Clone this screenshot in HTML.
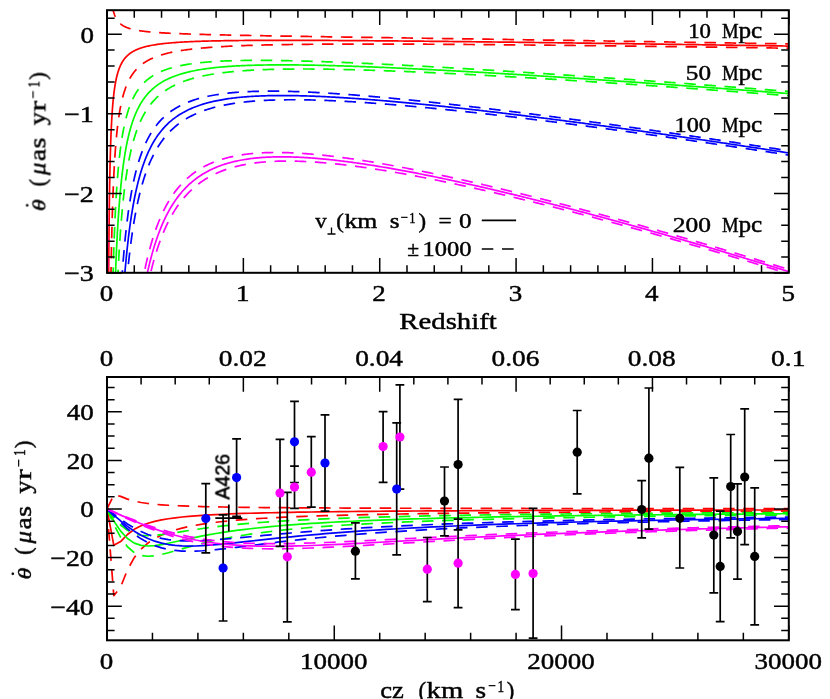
<!DOCTYPE html>
<html><head><meta charset="utf-8"><title>chart</title>
<style>html,body{margin:0;padding:0;background:#fff}svg{display:block;filter:blur(0.4px)}</style></head>
<body>
<svg width="830" height="699" viewBox="0 0 830 699">
<rect width="830" height="699" fill="#fff"/>
<defs><clipPath id="c1"><rect x="107.0" y="10.2" width="681.8" height="262.6"/></clipPath>
<clipPath id="c2"><rect x="107.0" y="377.0" width="681.8" height="263.3"/></clipPath></defs>
<g clip-path="url(#c1)" fill="none" stroke-width="1.70" stroke-linejoin="round">
<path d="M107.00 34.20 L107.27 671.00 L107.55 671.00 L107.82 501.15 L108.09 390.86 L108.36 322.17 L108.64 275.52 L108.91 241.84 L109.18 216.43 L109.45 196.57 L109.73 180.64 L110.00 167.57 L110.27 156.67 L110.55 147.43 L110.82 139.51 L111.09 132.63 L111.36 126.61 L111.64 121.30 L111.91 116.58 L112.18 112.35 L112.45 108.54 L112.73 105.10 L113.00 101.97 L113.27 99.11 L113.55 96.49 L113.82 94.07 L114.09 91.85 L114.36 89.78 L114.64 87.87 L114.91 86.09 L115.18 84.42 L115.45 82.87 L115.73 81.41 L116.00 80.04 L116.27 78.75 L116.55 77.53 L116.82 76.38 L117.09 75.30 L117.36 74.27 L117.64 73.29 L117.91 72.37 L118.18 71.49 L118.45 70.65 L118.73 69.85 L119.00 69.08 L119.27 68.35 L119.55 67.65 L119.82 66.99 L120.09 66.35 L120.36 65.73 L120.64 65.14 L120.91 64.58 L121.18 64.03 L121.45 63.51 L121.73 63.00 L122.00 62.52 L122.27 62.05 L122.55 61.60 L122.82 61.16 L123.09 60.74 L123.36 60.33 L123.64 59.94 L123.91 59.56 L124.18 59.19 L124.45 58.84 L124.73 58.49 L125.00 58.15 L125.27 57.83 L125.54 57.51 L125.82 57.21 L126.09 56.91 L126.36 56.62 L126.64 56.34 L126.91 56.07 L127.18 55.80 L127.45 55.54 L127.73 55.29 L128.00 55.05 L128.27 54.81 L128.54 54.57 L128.82 54.35 L129.09 54.13 L129.36 53.91 L129.64 53.70 L129.91 53.50 L130.18 53.30 L130.45 53.10 L130.73 52.91 L131.00 52.72 L131.27 52.54 L131.54 52.36 L131.82 52.19 L132.09 52.02 L132.36 51.85 L132.64 51.69 L132.91 51.53 L133.18 51.37 L133.45 51.22 L133.73 51.07 L134.00 50.92 L134.27 50.78 L134.54 50.64 L134.82 50.50 L135.09 50.37 L135.36 50.23 L135.64 50.10 L135.91 49.98 L136.18 49.85 L136.45 49.73 L136.73 49.61 L137.00 49.49 L137.27 49.38 L137.54 49.26 L137.82 49.15 L138.09 49.04 L138.36 48.93 L138.64 48.83 L138.91 48.72 L139.18 48.62 L139.45 48.52 L139.73 48.42 L140.00 48.33 L140.27 48.23 L140.54 48.14 L140.82 48.04 L141.09 47.95 L141.36 47.87 L141.64 47.78 L141.91 47.69 L142.18 47.61 L142.45 47.52 L142.73 47.44 L143.00 47.36 L143.27 47.28 L143.54 47.20 L143.82 47.13 L144.09 47.05 L144.36 46.97 L144.64 46.90 L144.91 46.83 L145.18 46.76 L145.45 46.69 L145.73 46.62 L146.00 46.55 L146.27 46.48 L146.54 46.42 L146.82 46.35 L147.09 46.29 L147.36 46.22 L147.64 46.16 L147.91 46.10 L149.27 45.80 L150.64 45.52 L152.00 45.26 L153.36 45.02 L154.73 44.79 L156.09 44.58 L157.45 44.38 L158.82 44.19 L160.18 44.01 L161.54 43.84 L162.91 43.68 L164.27 43.52 L165.63 43.38 L167.00 43.24 L168.36 43.11 L169.73 42.99 L171.09 42.87 L172.45 42.76 L173.82 42.65 L175.18 42.55 L176.54 42.45 L177.91 42.36 L179.27 42.27 L180.63 42.18 L182.00 42.10 L183.36 42.02 L184.73 41.95 L186.09 41.88 L187.45 41.81 L188.82 41.74 L190.18 41.68 L191.54 41.62 L192.91 41.56 L194.27 41.51 L195.63 41.45 L197.00 41.40 L198.36 41.35 L199.72 41.31 L201.09 41.26 L202.45 41.22 L203.82 41.18 L205.18 41.14 L206.54 41.10 L207.91 41.06 L209.27 41.02 L210.63 40.99 L212.00 40.96 L213.36 40.93 L214.72 40.90 L216.09 40.87 L217.45 40.84 L218.82 40.81 L220.18 40.79 L221.54 40.76 L222.91 40.74 L224.27 40.72 L225.63 40.69 L227.00 40.67 L228.36 40.65 L229.72 40.63 L231.09 40.62 L232.45 40.60 L233.81 40.58 L235.18 40.56 L236.54 40.55 L237.91 40.53 L239.27 40.52 L240.63 40.51 L242.00 40.49 L243.36 40.48 L244.72 40.47 L246.09 40.46 L247.45 40.45 L248.81 40.44 L250.18 40.43 L251.54 40.42 L252.91 40.41 L254.27 40.41 L255.63 40.40 L257.00 40.39 L258.36 40.39 L259.72 40.38 L261.09 40.37 L262.45 40.37 L263.81 40.36 L265.18 40.36 L266.54 40.36 L267.90 40.35 L269.27 40.35 L270.63 40.35 L272.00 40.34 L273.36 40.34 L274.72 40.34 L276.09 40.34 L277.45 40.34 L278.81 40.34 L280.18 40.34 L281.54 40.34 L282.90 40.34 L284.27 40.34 L285.63 40.34 L287.00 40.34 L288.36 40.34 L289.72 40.34 L291.09 40.34 L292.45 40.34 L293.81 40.34 L295.18 40.35 L296.54 40.35 L297.90 40.35 L299.27 40.36 L300.63 40.36 L301.99 40.36 L303.36 40.37 L304.72 40.37 L306.09 40.37 L307.45 40.38 L308.81 40.38 L310.18 40.39 L311.54 40.39 L312.90 40.40 L314.27 40.40 L315.63 40.41 L316.99 40.41 L318.36 40.42 L319.72 40.43 L321.09 40.43 L322.45 40.44 L323.81 40.44 L325.18 40.45 L326.54 40.46 L327.90 40.47 L329.27 40.47 L330.63 40.48 L331.99 40.49 L333.36 40.49 L334.72 40.50 L336.08 40.51 L337.45 40.52 L338.81 40.53 L340.18 40.53 L341.54 40.54 L342.90 40.55 L344.27 40.56 L345.63 40.57 L346.99 40.58 L348.36 40.59 L349.72 40.59 L351.08 40.60 L352.45 40.61 L353.81 40.62 L355.18 40.63 L356.54 40.64 L357.90 40.65 L359.27 40.66 L360.63 40.67 L361.99 40.68 L363.36 40.69 L364.72 40.70 L366.08 40.71 L367.45 40.72 L368.81 40.73 L370.17 40.74 L371.54 40.75 L372.90 40.76 L374.27 40.77 L375.63 40.79 L376.99 40.80 L378.36 40.81 L379.72 40.82 L381.08 40.83 L382.45 40.84 L383.81 40.85 L385.17 40.87 L386.54 40.88 L387.90 40.89 L389.27 40.90 L390.63 40.91 L391.99 40.92 L393.36 40.94 L394.72 40.95 L396.08 40.96 L397.45 40.97 L398.81 40.98 L400.17 41.00 L401.54 41.01 L402.90 41.02 L404.26 41.04 L405.63 41.05 L406.99 41.06 L408.36 41.07 L409.72 41.09 L411.08 41.10 L412.45 41.11 L413.81 41.13 L415.17 41.14 L416.54 41.15 L417.90 41.16 L419.26 41.18 L420.63 41.19 L421.99 41.20 L423.36 41.22 L424.72 41.23 L426.08 41.25 L427.45 41.26 L428.81 41.27 L430.17 41.29 L431.54 41.30 L432.90 41.31 L434.26 41.33 L435.63 41.34 L436.99 41.36 L438.35 41.37 L439.72 41.39 L441.08 41.40 L442.45 41.41 L443.81 41.43 L445.17 41.44 L446.54 41.46 L447.90 41.47 L449.26 41.49 L450.63 41.50 L451.99 41.52 L453.35 41.53 L454.72 41.54 L456.08 41.56 L457.45 41.57 L458.81 41.59 L460.17 41.60 L461.54 41.62 L462.90 41.63 L464.26 41.65 L465.63 41.66 L466.99 41.68 L468.35 41.69 L469.72 41.71 L471.08 41.72 L472.44 41.74 L473.81 41.76 L475.17 41.77 L476.54 41.79 L477.90 41.80 L479.26 41.82 L480.63 41.83 L481.99 41.85 L483.35 41.86 L484.72 41.88 L486.08 41.90 L487.44 41.91 L488.81 41.93 L490.17 41.94 L491.54 41.96 L492.90 41.98 L494.26 41.99 L495.63 42.01 L496.99 42.02 L498.35 42.04 L499.72 42.06 L501.08 42.07 L502.44 42.09 L503.81 42.10 L505.17 42.12 L506.53 42.14 L507.90 42.15 L509.26 42.17 L510.63 42.19 L511.99 42.20 L513.35 42.22 L514.72 42.24 L516.08 42.25 L517.44 42.27 L518.81 42.28 L520.17 42.30 L521.53 42.32 L522.90 42.34 L524.26 42.35 L525.63 42.37 L526.99 42.39 L528.35 42.40 L529.72 42.42 L531.08 42.44 L532.44 42.45 L533.81 42.47 L535.17 42.49 L536.53 42.50 L537.90 42.52 L539.26 42.54 L540.62 42.56 L541.99 42.57 L543.35 42.59 L544.72 42.61 L546.08 42.62 L547.44 42.64 L548.81 42.66 L550.17 42.68 L551.53 42.69 L552.90 42.71 L554.26 42.73 L555.62 42.75 L556.99 42.76 L558.35 42.78 L559.72 42.80 L561.08 42.82 L562.44 42.83 L563.81 42.85 L565.17 42.87 L566.53 42.89 L567.90 42.90 L569.26 42.92 L570.62 42.94 L571.99 42.96 L573.35 42.98 L574.71 42.99 L576.08 43.01 L577.44 43.03 L578.81 43.05 L580.17 43.07 L581.53 43.08 L582.90 43.10 L584.26 43.12 L585.62 43.14 L586.99 43.16 L588.35 43.17 L589.71 43.19 L591.08 43.21 L592.44 43.23 L593.81 43.25 L595.17 43.26 L596.53 43.28 L597.90 43.30 L599.26 43.32 L600.62 43.34 L601.99 43.36 L603.35 43.37 L604.71 43.39 L606.08 43.41 L607.44 43.43 L608.80 43.45 L610.17 43.47 L611.53 43.49 L612.90 43.50 L614.26 43.52 L615.62 43.54 L616.99 43.56 L618.35 43.58 L619.71 43.60 L621.08 43.62 L622.44 43.63 L623.80 43.65 L625.17 43.67 L626.53 43.69 L627.90 43.71 L629.26 43.73 L630.62 43.75 L631.99 43.77 L633.35 43.79 L634.71 43.80 L636.08 43.82 L637.44 43.84 L638.80 43.86 L640.17 43.88 L641.53 43.90 L642.89 43.92 L644.26 43.94 L645.62 43.96 L646.99 43.98 L648.35 43.99 L649.71 44.01 L651.08 44.03 L652.44 44.05 L653.80 44.07 L655.17 44.09 L656.53 44.11 L657.89 44.13 L659.26 44.15 L660.62 44.17 L661.99 44.19 L663.35 44.21 L664.71 44.23 L666.08 44.25 L667.44 44.27 L668.80 44.28 L670.17 44.30 L671.53 44.32 L672.89 44.34 L674.26 44.36 L675.62 44.38 L676.98 44.40 L678.35 44.42 L679.71 44.44 L681.08 44.46 L682.44 44.48 L683.80 44.50 L685.17 44.52 L686.53 44.54 L687.89 44.56 L689.26 44.58 L690.62 44.60 L691.98 44.62 L693.35 44.64 L694.71 44.66 L696.08 44.68 L697.44 44.70 L698.80 44.72 L700.17 44.74 L701.53 44.76 L702.89 44.78 L704.26 44.80 L705.62 44.82 L706.98 44.84 L708.35 44.86 L709.71 44.88 L711.07 44.90 L712.44 44.92 L713.80 44.94 L715.17 44.96 L716.53 44.98 L717.89 45.00 L719.26 45.02 L720.62 45.04 L721.98 45.06 L723.35 45.08 L724.71 45.10 L726.07 45.12 L727.44 45.14 L728.80 45.16 L730.17 45.18 L731.53 45.20 L732.89 45.22 L734.26 45.24 L735.62 45.26 L736.98 45.28 L738.35 45.30 L739.71 45.32 L741.07 45.35 L742.44 45.37 L743.80 45.39 L745.16 45.41 L746.53 45.43 L747.89 45.45 L749.26 45.47 L750.62 45.49 L751.98 45.51 L753.35 45.53 L754.71 45.55 L756.07 45.57 L757.44 45.59 L758.80 45.61 L760.16 45.63 L761.53 45.65 L762.89 45.68 L764.26 45.70 L765.62 45.72 L766.98 45.74 L768.35 45.76 L769.71 45.78 L771.07 45.80 L772.44 45.82 L773.80 45.84 L775.16 45.86 L776.53 45.88 L777.89 45.90 L779.25 45.93 L780.62 45.95 L781.98 45.97 L783.35 45.99 L784.71 46.01 L786.07 46.03 L787.44 46.05 L788.80 46.07" stroke="#ff0000"/>
<path d="M107.00 34.20 L107.27 -363.80 L107.55 -223.84 L107.82 -145.81 L108.09 -102.89 L108.36 -76.16 L108.64 -58.01 L108.91 -44.91 L109.18 -35.02 L109.45 -27.29 L109.73 -21.09 L110.00 -16.00 L110.27 -11.76 L110.55 -8.16 L110.82 -5.08 L111.09 -2.40 L111.36 -0.06 L111.64 2.01 L111.91 3.85 L112.18 5.50 L112.45 6.99 L112.73 8.33 L113.00 9.55 L113.27 10.67 L113.55 11.69 L113.82 12.63 L114.09 13.50 L114.36 14.31 L114.64 15.05 L114.91 15.75 L115.18 16.40 L115.45 17.01 L115.73 17.58 L116.00 18.12 L116.27 18.62 L116.55 19.10 L116.82 19.55 L117.09 19.97 L117.36 20.38 L117.64 20.76 L117.91 21.12 L118.18 21.47 L118.45 21.80 L118.73 22.11 L119.00 22.41 L119.27 22.70 L119.55 22.98 L119.82 23.24 L120.09 23.49 L120.36 23.73 L120.64 23.97 L120.91 24.19 L121.18 24.41 L121.45 24.61 L121.73 24.81 L122.00 25.00 L122.27 25.19 L122.55 25.37 L122.82 25.54 L123.09 25.71 L123.36 25.87 L123.64 26.03 L123.91 26.18 L124.18 26.33 L124.45 26.47 L124.73 26.61 L125.00 26.74 L125.27 26.87 L125.54 27.00 L125.82 27.12 L126.09 27.24 L126.36 27.35 L126.64 27.47 L126.91 27.58 L127.18 27.68 L127.45 27.79 L127.73 27.89 L128.00 27.99 L128.27 28.08 L128.54 28.18 L128.82 28.27 L129.09 28.36 L129.36 28.45 L129.64 28.53 L129.91 28.62 L130.18 28.70 L130.45 28.78 L130.73 28.85 L131.00 28.93 L131.27 29.00 L131.54 29.08 L131.82 29.15 L132.09 29.22 L132.36 29.29 L132.64 29.35 L132.91 29.42 L133.18 29.48 L133.45 29.55 L133.73 29.61 L134.00 29.67 L134.27 29.73 L134.54 29.79 L134.82 29.84 L135.09 29.90 L135.36 29.96 L135.64 30.01 L135.91 30.06 L136.18 30.11 L136.45 30.17 L136.73 30.22 L137.00 30.27 L137.27 30.31 L137.54 30.36 L137.82 30.41 L138.09 30.46 L138.36 30.50 L138.64 30.55 L138.91 30.59 L139.18 30.63 L139.45 30.68 L139.73 30.72 L140.00 30.76 L140.27 30.80 L140.54 30.84 L140.82 30.88 L141.09 30.92 L141.36 30.96 L141.64 30.99 L141.91 31.03 L142.18 31.07 L142.45 31.10 L142.73 31.14 L143.00 31.17 L143.27 31.21 L143.54 31.24 L143.82 31.28 L144.09 31.31 L144.36 31.34 L144.64 31.38 L144.91 31.41 L145.18 31.44 L145.45 31.47 L145.73 31.50 L146.00 31.53 L146.27 31.56 L146.54 31.59 L146.82 31.62 L147.09 31.65 L147.36 31.68 L147.64 31.70 L147.91 31.73 L149.27 31.87 L150.64 31.99 L152.00 32.11 L153.36 32.23 L154.73 32.33 L156.09 32.44 L157.45 32.53 L158.82 32.63 L160.18 32.72 L161.54 32.80 L162.91 32.88 L164.27 32.96 L165.63 33.04 L167.00 33.11 L168.36 33.18 L169.73 33.25 L171.09 33.31 L172.45 33.38 L173.82 33.44 L175.18 33.50 L176.54 33.56 L177.91 33.61 L179.27 33.67 L180.63 33.72 L182.00 33.77 L183.36 33.82 L184.73 33.87 L186.09 33.92 L187.45 33.97 L188.82 34.01 L190.18 34.06 L191.54 34.10 L192.91 34.14 L194.27 34.18 L195.63 34.23 L197.00 34.27 L198.36 34.31 L199.72 34.35 L201.09 34.38 L202.45 34.42 L203.82 34.46 L205.18 34.49 L206.54 34.53 L207.91 34.57 L209.27 34.60 L210.63 34.63 L212.00 34.67 L213.36 34.70 L214.72 34.73 L216.09 34.77 L217.45 34.80 L218.82 34.83 L220.18 34.86 L221.54 34.89 L222.91 34.92 L224.27 34.95 L225.63 34.98 L227.00 35.01 L228.36 35.04 L229.72 35.07 L231.09 35.10 L232.45 35.13 L233.81 35.16 L235.18 35.19 L236.54 35.21 L237.91 35.24 L239.27 35.27 L240.63 35.30 L242.00 35.32 L243.36 35.35 L244.72 35.38 L246.09 35.40 L247.45 35.43 L248.81 35.45 L250.18 35.48 L251.54 35.51 L252.91 35.53 L254.27 35.56 L255.63 35.58 L257.00 35.61 L258.36 35.63 L259.72 35.66 L261.09 35.68 L262.45 35.71 L263.81 35.73 L265.18 35.75 L266.54 35.78 L267.90 35.80 L269.27 35.83 L270.63 35.85 L272.00 35.87 L273.36 35.90 L274.72 35.92 L276.09 35.94 L277.45 35.97 L278.81 35.99 L280.18 36.01 L281.54 36.04 L282.90 36.06 L284.27 36.08 L285.63 36.11 L287.00 36.13 L288.36 36.15 L289.72 36.17 L291.09 36.20 L292.45 36.22 L293.81 36.24 L295.18 36.26 L296.54 36.29 L297.90 36.31 L299.27 36.33 L300.63 36.35 L301.99 36.37 L303.36 36.40 L304.72 36.42 L306.09 36.44 L307.45 36.46 L308.81 36.48 L310.18 36.50 L311.54 36.53 L312.90 36.55 L314.27 36.57 L315.63 36.59 L316.99 36.61 L318.36 36.63 L319.72 36.66 L321.09 36.68 L322.45 36.70 L323.81 36.72 L325.18 36.74 L326.54 36.76 L327.90 36.78 L329.27 36.80 L330.63 36.83 L331.99 36.85 L333.36 36.87 L334.72 36.89 L336.08 36.91 L337.45 36.93 L338.81 36.95 L340.18 36.97 L341.54 36.99 L342.90 37.01 L344.27 37.04 L345.63 37.06 L346.99 37.08 L348.36 37.10 L349.72 37.12 L351.08 37.14 L352.45 37.16 L353.81 37.18 L355.18 37.20 L356.54 37.22 L357.90 37.24 L359.27 37.26 L360.63 37.28 L361.99 37.31 L363.36 37.33 L364.72 37.35 L366.08 37.37 L367.45 37.39 L368.81 37.41 L370.17 37.43 L371.54 37.45 L372.90 37.47 L374.27 37.49 L375.63 37.51 L376.99 37.53 L378.36 37.55 L379.72 37.57 L381.08 37.59 L382.45 37.61 L383.81 37.63 L385.17 37.65 L386.54 37.68 L387.90 37.70 L389.27 37.72 L390.63 37.74 L391.99 37.76 L393.36 37.78 L394.72 37.80 L396.08 37.82 L397.45 37.84 L398.81 37.86 L400.17 37.88 L401.54 37.90 L402.90 37.92 L404.26 37.94 L405.63 37.96 L406.99 37.98 L408.36 38.00 L409.72 38.02 L411.08 38.04 L412.45 38.06 L413.81 38.08 L415.17 38.10 L416.54 38.12 L417.90 38.14 L419.26 38.16 L420.63 38.19 L421.99 38.21 L423.36 38.23 L424.72 38.25 L426.08 38.27 L427.45 38.29 L428.81 38.31 L430.17 38.33 L431.54 38.35 L432.90 38.37 L434.26 38.39 L435.63 38.41 L436.99 38.43 L438.35 38.45 L439.72 38.47 L441.08 38.49 L442.45 38.51 L443.81 38.53 L445.17 38.55 L446.54 38.57 L447.90 38.59 L449.26 38.61 L450.63 38.63 L451.99 38.65 L453.35 38.67 L454.72 38.69 L456.08 38.71 L457.45 38.74 L458.81 38.76 L460.17 38.78 L461.54 38.80 L462.90 38.82 L464.26 38.84 L465.63 38.86 L466.99 38.88 L468.35 38.90 L469.72 38.92 L471.08 38.94 L472.44 38.96 L473.81 38.98 L475.17 39.00 L476.54 39.02 L477.90 39.04 L479.26 39.06 L480.63 39.08 L481.99 39.10 L483.35 39.12 L484.72 39.14 L486.08 39.16 L487.44 39.18 L488.81 39.21 L490.17 39.23 L491.54 39.25 L492.90 39.27 L494.26 39.29 L495.63 39.31 L496.99 39.33 L498.35 39.35 L499.72 39.37 L501.08 39.39 L502.44 39.41 L503.81 39.43 L505.17 39.45 L506.53 39.47 L507.90 39.49 L509.26 39.51 L510.63 39.53 L511.99 39.55 L513.35 39.58 L514.72 39.60 L516.08 39.62 L517.44 39.64 L518.81 39.66 L520.17 39.68 L521.53 39.70 L522.90 39.72 L524.26 39.74 L525.63 39.76 L526.99 39.78 L528.35 39.80 L529.72 39.82 L531.08 39.84 L532.44 39.86 L533.81 39.89 L535.17 39.91 L536.53 39.93 L537.90 39.95 L539.26 39.97 L540.62 39.99 L541.99 40.01 L543.35 40.03 L544.72 40.05 L546.08 40.07 L547.44 40.09 L548.81 40.11 L550.17 40.13 L551.53 40.16 L552.90 40.18 L554.26 40.20 L555.62 40.22 L556.99 40.24 L558.35 40.26 L559.72 40.28 L561.08 40.30 L562.44 40.32 L563.81 40.34 L565.17 40.36 L566.53 40.39 L567.90 40.41 L569.26 40.43 L570.62 40.45 L571.99 40.47 L573.35 40.49 L574.71 40.51 L576.08 40.53 L577.44 40.55 L578.81 40.57 L580.17 40.59 L581.53 40.62 L582.90 40.64 L584.26 40.66 L585.62 40.68 L586.99 40.70 L588.35 40.72 L589.71 40.74 L591.08 40.76 L592.44 40.78 L593.81 40.81 L595.17 40.83 L596.53 40.85 L597.90 40.87 L599.26 40.89 L600.62 40.91 L601.99 40.93 L603.35 40.95 L604.71 40.97 L606.08 41.00 L607.44 41.02 L608.80 41.04 L610.17 41.06 L611.53 41.08 L612.90 41.10 L614.26 41.12 L615.62 41.14 L616.99 41.17 L618.35 41.19 L619.71 41.21 L621.08 41.23 L622.44 41.25 L623.80 41.27 L625.17 41.29 L626.53 41.31 L627.90 41.34 L629.26 41.36 L630.62 41.38 L631.99 41.40 L633.35 41.42 L634.71 41.44 L636.08 41.46 L637.44 41.49 L638.80 41.51 L640.17 41.53 L641.53 41.55 L642.89 41.57 L644.26 41.59 L645.62 41.61 L646.99 41.64 L648.35 41.66 L649.71 41.68 L651.08 41.70 L652.44 41.72 L653.80 41.74 L655.17 41.77 L656.53 41.79 L657.89 41.81 L659.26 41.83 L660.62 41.85 L661.99 41.87 L663.35 41.89 L664.71 41.92 L666.08 41.94 L667.44 41.96 L668.80 41.98 L670.17 42.00 L671.53 42.02 L672.89 42.05 L674.26 42.07 L675.62 42.09 L676.98 42.11 L678.35 42.13 L679.71 42.15 L681.08 42.18 L682.44 42.20 L683.80 42.22 L685.17 42.24 L686.53 42.26 L687.89 42.29 L689.26 42.31 L690.62 42.33 L691.98 42.35 L693.35 42.37 L694.71 42.39 L696.08 42.42 L697.44 42.44 L698.80 42.46 L700.17 42.48 L701.53 42.50 L702.89 42.53 L704.26 42.55 L705.62 42.57 L706.98 42.59 L708.35 42.61 L709.71 42.64 L711.07 42.66 L712.44 42.68 L713.80 42.70 L715.17 42.72 L716.53 42.75 L717.89 42.77 L719.26 42.79 L720.62 42.81 L721.98 42.83 L723.35 42.86 L724.71 42.88 L726.07 42.90 L727.44 42.92 L728.80 42.94 L730.17 42.97 L731.53 42.99 L732.89 43.01 L734.26 43.03 L735.62 43.05 L736.98 43.08 L738.35 43.10 L739.71 43.12 L741.07 43.14 L742.44 43.17 L743.80 43.19 L745.16 43.21 L746.53 43.23 L747.89 43.25 L749.26 43.28 L750.62 43.30 L751.98 43.32 L753.35 43.34 L754.71 43.37 L756.07 43.39 L757.44 43.41 L758.80 43.43 L760.16 43.46 L761.53 43.48 L762.89 43.50 L764.26 43.52 L765.62 43.54 L766.98 43.57 L768.35 43.59 L769.71 43.61 L771.07 43.63 L772.44 43.66 L773.80 43.68 L775.16 43.70 L776.53 43.72 L777.89 43.75 L779.25 43.77 L780.62 43.79 L781.98 43.81 L783.35 43.84 L784.71 43.86 L786.07 43.88 L787.44 43.90 L788.80 43.93" stroke="#ff0000" stroke-dasharray="11.6 8.6"/>
<path d="M107.00 34.20 L107.27 671.00 L107.55 671.00 L107.82 671.00 L108.09 671.00 L108.36 671.00 L108.64 609.04 L108.91 528.60 L109.18 467.87 L109.45 420.43 L109.73 382.37 L110.00 351.15 L110.27 325.10 L110.55 303.03 L110.82 284.09 L111.09 267.67 L111.36 253.29 L111.64 240.59 L111.91 229.30 L112.18 219.20 L112.45 210.10 L112.73 201.87 L113.00 194.38 L113.27 187.55 L113.55 181.28 L113.82 175.51 L114.09 170.19 L114.36 165.26 L114.64 160.69 L114.91 156.42 L115.18 152.45 L115.45 148.73 L115.73 145.24 L116.00 141.96 L116.27 138.88 L116.55 135.97 L116.82 133.22 L117.09 130.62 L117.36 128.16 L117.64 125.83 L117.91 123.61 L118.18 121.50 L118.45 119.49 L118.73 117.58 L119.00 115.75 L119.27 114.00 L119.55 112.33 L119.82 110.73 L120.09 109.20 L120.36 107.73 L120.64 106.32 L120.91 104.96 L121.18 103.66 L121.45 102.40 L121.73 101.20 L122.00 100.03 L122.27 98.91 L122.55 97.83 L122.82 96.78 L123.09 95.77 L123.36 94.80 L123.64 93.85 L123.91 92.94 L124.18 92.06 L124.45 91.20 L124.73 90.37 L125.00 89.57 L125.27 88.79 L125.54 88.03 L125.82 87.29 L126.09 86.58 L126.36 85.89 L126.64 85.21 L126.91 84.56 L127.18 83.92 L127.45 83.30 L127.73 82.69 L128.00 82.10 L128.27 81.53 L128.54 80.97 L128.82 80.43 L129.09 79.89 L129.36 79.38 L129.64 78.87 L129.91 78.38 L130.18 77.90 L130.45 77.42 L130.73 76.96 L131.00 76.52 L131.27 76.08 L131.54 75.65 L131.82 75.23 L132.09 74.82 L132.36 74.42 L132.64 74.02 L132.91 73.64 L133.18 73.26 L133.45 72.89 L133.73 72.53 L134.00 72.18 L134.27 71.83 L134.54 71.49 L134.82 71.16 L135.09 70.83 L135.36 70.51 L135.64 70.20 L135.91 69.89 L136.18 69.59 L136.45 69.29 L136.73 69.00 L137.00 68.72 L137.27 68.44 L137.54 68.16 L137.82 67.89 L138.09 67.63 L138.36 67.37 L138.64 67.11 L138.91 66.86 L139.18 66.61 L139.45 66.37 L139.73 66.13 L140.00 65.89 L140.27 65.66 L140.54 65.43 L140.82 65.21 L141.09 64.99 L141.36 64.77 L141.64 64.56 L141.91 64.35 L142.18 64.15 L142.45 63.94 L142.73 63.74 L143.00 63.55 L143.27 63.35 L143.54 63.16 L143.82 62.97 L144.09 62.79 L144.36 62.61 L144.64 62.43 L144.91 62.25 L145.18 62.08 L145.45 61.90 L145.73 61.73 L146.00 61.57 L146.27 61.40 L146.54 61.24 L146.82 61.08 L147.09 60.92 L147.36 60.77 L147.64 60.61 L147.91 60.46 L149.27 59.74 L150.64 59.05 L152.00 58.42 L153.36 57.82 L154.73 57.25 L156.09 56.72 L157.45 56.22 L158.82 55.75 L160.18 55.30 L161.54 54.87 L162.91 54.47 L164.27 54.08 L165.63 53.72 L167.00 53.37 L168.36 53.04 L169.73 52.72 L171.09 52.42 L172.45 52.13 L173.82 51.86 L175.18 51.60 L176.54 51.34 L177.91 51.10 L179.27 50.87 L180.63 50.64 L182.00 50.43 L183.36 50.22 L184.73 50.03 L186.09 49.83 L187.45 49.65 L188.82 49.47 L190.18 49.30 L191.54 49.14 L192.91 48.98 L194.27 48.83 L195.63 48.68 L197.00 48.54 L198.36 48.40 L199.72 48.27 L201.09 48.14 L202.45 48.01 L203.82 47.89 L205.18 47.78 L206.54 47.66 L207.91 47.56 L209.27 47.45 L210.63 47.35 L212.00 47.25 L213.36 47.15 L214.72 47.06 L216.09 46.97 L217.45 46.88 L218.82 46.79 L220.18 46.71 L221.54 46.63 L222.91 46.55 L224.27 46.48 L225.63 46.40 L227.00 46.33 L228.36 46.26 L229.72 46.20 L231.09 46.13 L232.45 46.07 L233.81 46.00 L235.18 45.94 L236.54 45.89 L237.91 45.83 L239.27 45.77 L240.63 45.72 L242.00 45.67 L243.36 45.62 L244.72 45.57 L246.09 45.52 L247.45 45.47 L248.81 45.43 L250.18 45.38 L251.54 45.34 L252.91 45.30 L254.27 45.25 L255.63 45.21 L257.00 45.18 L258.36 45.14 L259.72 45.10 L261.09 45.07 L262.45 45.03 L263.81 45.00 L265.18 44.96 L266.54 44.93 L267.90 44.90 L269.27 44.87 L270.63 44.84 L272.00 44.81 L273.36 44.79 L274.72 44.76 L276.09 44.73 L277.45 44.71 L278.81 44.68 L280.18 44.66 L281.54 44.63 L282.90 44.61 L284.27 44.59 L285.63 44.57 L287.00 44.55 L288.36 44.53 L289.72 44.51 L291.09 44.49 L292.45 44.47 L293.81 44.45 L295.18 44.43 L296.54 44.41 L297.90 44.40 L299.27 44.38 L300.63 44.37 L301.99 44.35 L303.36 44.34 L304.72 44.32 L306.09 44.31 L307.45 44.30 L308.81 44.28 L310.18 44.27 L311.54 44.26 L312.90 44.25 L314.27 44.24 L315.63 44.23 L316.99 44.22 L318.36 44.21 L319.72 44.20 L321.09 44.19 L322.45 44.18 L323.81 44.17 L325.18 44.16 L326.54 44.15 L327.90 44.15 L329.27 44.14 L330.63 44.13 L331.99 44.13 L333.36 44.12 L334.72 44.11 L336.08 44.11 L337.45 44.10 L338.81 44.10 L340.18 44.09 L341.54 44.09 L342.90 44.09 L344.27 44.08 L345.63 44.08 L346.99 44.08 L348.36 44.07 L349.72 44.07 L351.08 44.07 L352.45 44.06 L353.81 44.06 L355.18 44.06 L356.54 44.06 L357.90 44.06 L359.27 44.06 L360.63 44.06 L361.99 44.06 L363.36 44.05 L364.72 44.05 L366.08 44.05 L367.45 44.05 L368.81 44.06 L370.17 44.06 L371.54 44.06 L372.90 44.06 L374.27 44.06 L375.63 44.06 L376.99 44.06 L378.36 44.06 L379.72 44.07 L381.08 44.07 L382.45 44.07 L383.81 44.07 L385.17 44.08 L386.54 44.08 L387.90 44.08 L389.27 44.08 L390.63 44.09 L391.99 44.09 L393.36 44.09 L394.72 44.10 L396.08 44.10 L397.45 44.11 L398.81 44.11 L400.17 44.12 L401.54 44.12 L402.90 44.12 L404.26 44.13 L405.63 44.13 L406.99 44.14 L408.36 44.14 L409.72 44.15 L411.08 44.16 L412.45 44.16 L413.81 44.17 L415.17 44.17 L416.54 44.18 L417.90 44.19 L419.26 44.19 L420.63 44.20 L421.99 44.20 L423.36 44.21 L424.72 44.22 L426.08 44.22 L427.45 44.23 L428.81 44.24 L430.17 44.25 L431.54 44.25 L432.90 44.26 L434.26 44.27 L435.63 44.28 L436.99 44.28 L438.35 44.29 L439.72 44.30 L441.08 44.31 L442.45 44.32 L443.81 44.32 L445.17 44.33 L446.54 44.34 L447.90 44.35 L449.26 44.36 L450.63 44.37 L451.99 44.38 L453.35 44.39 L454.72 44.39 L456.08 44.40 L457.45 44.41 L458.81 44.42 L460.17 44.43 L461.54 44.44 L462.90 44.45 L464.26 44.46 L465.63 44.47 L466.99 44.48 L468.35 44.49 L469.72 44.50 L471.08 44.51 L472.44 44.52 L473.81 44.53 L475.17 44.54 L476.54 44.55 L477.90 44.56 L479.26 44.57 L480.63 44.58 L481.99 44.59 L483.35 44.61 L484.72 44.62 L486.08 44.63 L487.44 44.64 L488.81 44.65 L490.17 44.66 L491.54 44.67 L492.90 44.68 L494.26 44.69 L495.63 44.71 L496.99 44.72 L498.35 44.73 L499.72 44.74 L501.08 44.75 L502.44 44.76 L503.81 44.78 L505.17 44.79 L506.53 44.80 L507.90 44.81 L509.26 44.83 L510.63 44.84 L511.99 44.85 L513.35 44.86 L514.72 44.87 L516.08 44.89 L517.44 44.90 L518.81 44.91 L520.17 44.92 L521.53 44.94 L522.90 44.95 L524.26 44.96 L525.63 44.98 L526.99 44.99 L528.35 45.00 L529.72 45.01 L531.08 45.03 L532.44 45.04 L533.81 45.05 L535.17 45.07 L536.53 45.08 L537.90 45.09 L539.26 45.11 L540.62 45.12 L541.99 45.14 L543.35 45.15 L544.72 45.16 L546.08 45.18 L547.44 45.19 L548.81 45.20 L550.17 45.22 L551.53 45.23 L552.90 45.25 L554.26 45.26 L555.62 45.27 L556.99 45.29 L558.35 45.30 L559.72 45.32 L561.08 45.33 L562.44 45.34 L563.81 45.36 L565.17 45.37 L566.53 45.39 L567.90 45.40 L569.26 45.42 L570.62 45.43 L571.99 45.45 L573.35 45.46 L574.71 45.48 L576.08 45.49 L577.44 45.51 L578.81 45.52 L580.17 45.54 L581.53 45.55 L582.90 45.57 L584.26 45.58 L585.62 45.60 L586.99 45.61 L588.35 45.63 L589.71 45.64 L591.08 45.66 L592.44 45.67 L593.81 45.69 L595.17 45.70 L596.53 45.72 L597.90 45.73 L599.26 45.75 L600.62 45.76 L601.99 45.78 L603.35 45.80 L604.71 45.81 L606.08 45.83 L607.44 45.84 L608.80 45.86 L610.17 45.87 L611.53 45.89 L612.90 45.91 L614.26 45.92 L615.62 45.94 L616.99 45.95 L618.35 45.97 L619.71 45.99 L621.08 46.00 L622.44 46.02 L623.80 46.03 L625.17 46.05 L626.53 46.07 L627.90 46.08 L629.26 46.10 L630.62 46.12 L631.99 46.13 L633.35 46.15 L634.71 46.17 L636.08 46.18 L637.44 46.20 L638.80 46.22 L640.17 46.23 L641.53 46.25 L642.89 46.27 L644.26 46.28 L645.62 46.30 L646.99 46.32 L648.35 46.33 L649.71 46.35 L651.08 46.37 L652.44 46.38 L653.80 46.40 L655.17 46.42 L656.53 46.43 L657.89 46.45 L659.26 46.47 L660.62 46.49 L661.99 46.50 L663.35 46.52 L664.71 46.54 L666.08 46.55 L667.44 46.57 L668.80 46.59 L670.17 46.61 L671.53 46.62 L672.89 46.64 L674.26 46.66 L675.62 46.68 L676.98 46.69 L678.35 46.71 L679.71 46.73 L681.08 46.75 L682.44 46.76 L683.80 46.78 L685.17 46.80 L686.53 46.82 L687.89 46.83 L689.26 46.85 L690.62 46.87 L691.98 46.89 L693.35 46.91 L694.71 46.92 L696.08 46.94 L697.44 46.96 L698.80 46.98 L700.17 46.99 L701.53 47.01 L702.89 47.03 L704.26 47.05 L705.62 47.07 L706.98 47.09 L708.35 47.10 L709.71 47.12 L711.07 47.14 L712.44 47.16 L713.80 47.18 L715.17 47.19 L716.53 47.21 L717.89 47.23 L719.26 47.25 L720.62 47.27 L721.98 47.29 L723.35 47.30 L724.71 47.32 L726.07 47.34 L727.44 47.36 L728.80 47.38 L730.17 47.40 L731.53 47.42 L732.89 47.43 L734.26 47.45 L735.62 47.47 L736.98 47.49 L738.35 47.51 L739.71 47.53 L741.07 47.55 L742.44 47.57 L743.80 47.58 L745.16 47.60 L746.53 47.62 L747.89 47.64 L749.26 47.66 L750.62 47.68 L751.98 47.70 L753.35 47.72 L754.71 47.74 L756.07 47.75 L757.44 47.77 L758.80 47.79 L760.16 47.81 L761.53 47.83 L762.89 47.85 L764.26 47.87 L765.62 47.89 L766.98 47.91 L768.35 47.93 L769.71 47.95 L771.07 47.97 L772.44 47.99 L773.80 48.00 L775.16 48.02 L776.53 48.04 L777.89 48.06 L779.25 48.08 L780.62 48.10 L781.98 48.12 L783.35 48.14 L784.71 48.16 L786.07 48.18 L787.44 48.20 L788.80 48.22" stroke="#ff0000" stroke-dasharray="11.6 8.6"/>
<path d="M107.00 34.20 L107.27 671.00 L107.55 671.00 L107.82 671.00 L108.09 671.00 L108.36 671.00 L108.64 671.00 L108.91 671.00 L109.18 671.00 L109.45 671.00 L109.73 671.00 L110.00 656.32 L110.27 611.61 L110.55 572.57 L110.82 538.27 L111.09 507.95 L111.36 481.00 L111.64 456.89 L111.91 435.23 L112.18 415.67 L112.45 397.93 L112.73 381.76 L113.00 366.98 L113.27 353.42 L113.55 340.93 L113.82 329.40 L114.09 318.71 L114.36 308.79 L114.64 299.55 L114.91 290.93 L115.18 282.87 L115.45 275.31 L115.73 268.21 L116.00 261.54 L116.27 255.24 L116.55 249.30 L116.82 243.68 L117.09 238.36 L117.36 233.32 L117.64 228.53 L117.91 223.97 L118.18 219.64 L118.45 215.51 L118.73 211.57 L119.00 207.80 L119.27 204.20 L119.55 200.76 L119.82 197.46 L120.09 194.30 L120.36 191.27 L120.64 188.35 L120.91 185.56 L121.18 182.86 L121.45 180.27 L121.73 177.78 L122.00 175.37 L122.27 173.05 L122.55 170.81 L122.82 168.65 L123.09 166.56 L123.36 164.54 L123.64 162.59 L123.91 160.70 L124.18 158.87 L124.45 157.10 L124.73 155.38 L125.00 153.72 L125.27 152.10 L125.54 150.54 L125.82 149.01 L126.09 147.53 L126.36 146.10 L126.64 144.70 L126.91 143.34 L127.18 142.02 L127.45 140.74 L127.73 139.49 L128.00 138.27 L128.27 137.08 L128.54 135.92 L128.82 134.79 L129.09 133.69 L129.36 132.62 L129.64 131.58 L129.91 130.55 L130.18 129.56 L130.45 128.58 L130.73 127.63 L131.00 126.70 L131.27 125.79 L131.54 124.91 L131.82 124.04 L132.09 123.19 L132.36 122.36 L132.64 121.55 L132.91 120.75 L133.18 119.98 L133.45 119.21 L133.73 118.47 L134.00 117.74 L134.27 117.02 L134.54 116.32 L134.82 115.64 L135.09 114.96 L135.36 114.30 L135.64 113.65 L135.91 113.02 L136.18 112.40 L136.45 111.79 L136.73 111.19 L137.00 110.60 L137.27 110.02 L137.54 109.45 L137.82 108.90 L138.09 108.35 L138.36 107.81 L138.64 107.29 L138.91 106.77 L139.18 106.26 L139.45 105.76 L139.73 105.27 L140.00 104.78 L140.27 104.31 L140.54 103.84 L140.82 103.38 L141.09 102.93 L141.36 102.49 L141.64 102.05 L141.91 101.62 L142.18 101.19 L142.45 100.78 L142.73 100.37 L143.00 99.97 L143.27 99.57 L143.54 99.18 L143.82 98.79 L144.09 98.41 L144.36 98.04 L144.64 97.67 L144.91 97.31 L145.18 96.95 L145.45 96.60 L145.73 96.26 L146.00 95.91 L146.27 95.58 L146.54 95.25 L146.82 94.92 L147.09 94.60 L147.36 94.28 L147.64 93.97 L147.91 93.66 L149.27 92.18 L150.64 90.80 L152.00 89.50 L153.36 88.29 L154.73 87.15 L156.09 86.08 L157.45 85.07 L158.82 84.12 L160.18 83.22 L161.54 82.37 L162.91 81.57 L164.27 80.80 L165.63 80.08 L167.00 79.40 L168.36 78.74 L169.73 78.12 L171.09 77.53 L172.45 76.97 L173.82 76.44 L175.18 75.93 L176.54 75.44 L177.91 74.97 L179.27 74.53 L180.63 74.10 L182.00 73.70 L183.36 73.31 L184.73 72.93 L186.09 72.58 L187.45 72.24 L188.82 71.91 L190.18 71.60 L191.54 71.29 L192.91 71.01 L194.27 70.73 L195.63 70.46 L197.00 70.21 L198.36 69.96 L199.72 69.73 L201.09 69.50 L202.45 69.28 L203.82 69.08 L205.18 68.88 L206.54 68.68 L207.91 68.50 L209.27 68.32 L210.63 68.15 L212.00 67.99 L213.36 67.83 L214.72 67.68 L216.09 67.53 L217.45 67.39 L218.82 67.26 L220.18 67.13 L221.54 67.01 L222.91 66.89 L224.27 66.78 L225.63 66.67 L227.00 66.56 L228.36 66.46 L229.72 66.37 L231.09 66.28 L232.45 66.19 L233.81 66.10 L235.18 66.02 L236.54 65.95 L237.91 65.87 L239.27 65.80 L240.63 65.74 L242.00 65.67 L243.36 65.61 L244.72 65.55 L246.09 65.50 L247.45 65.45 L248.81 65.40 L250.18 65.35 L251.54 65.31 L252.91 65.27 L254.27 65.23 L255.63 65.19 L257.00 65.16 L258.36 65.12 L259.72 65.09 L261.09 65.07 L262.45 65.04 L263.81 65.02 L265.18 65.00 L266.54 64.98 L267.90 64.96 L269.27 64.94 L270.63 64.93 L272.00 64.92 L273.36 64.90 L274.72 64.90 L276.09 64.89 L277.45 64.88 L278.81 64.88 L280.18 64.88 L281.54 64.87 L282.90 64.87 L284.27 64.88 L285.63 64.88 L287.00 64.88 L288.36 64.89 L289.72 64.90 L291.09 64.90 L292.45 64.91 L293.81 64.92 L295.18 64.94 L296.54 64.95 L297.90 64.96 L299.27 64.98 L300.63 64.99 L301.99 65.01 L303.36 65.03 L304.72 65.05 L306.09 65.07 L307.45 65.09 L308.81 65.11 L310.18 65.14 L311.54 65.16 L312.90 65.19 L314.27 65.21 L315.63 65.24 L316.99 65.27 L318.36 65.30 L319.72 65.33 L321.09 65.36 L322.45 65.39 L323.81 65.42 L325.18 65.46 L326.54 65.49 L327.90 65.52 L329.27 65.56 L330.63 65.60 L331.99 65.63 L333.36 65.67 L334.72 65.71 L336.08 65.75 L337.45 65.79 L338.81 65.83 L340.18 65.87 L341.54 65.91 L342.90 65.95 L344.27 65.99 L345.63 66.04 L346.99 66.08 L348.36 66.13 L349.72 66.17 L351.08 66.22 L352.45 66.26 L353.81 66.31 L355.18 66.36 L356.54 66.40 L357.90 66.45 L359.27 66.50 L360.63 66.55 L361.99 66.60 L363.36 66.65 L364.72 66.70 L366.08 66.75 L367.45 66.81 L368.81 66.86 L370.17 66.91 L371.54 66.97 L372.90 67.02 L374.27 67.07 L375.63 67.13 L376.99 67.18 L378.36 67.24 L379.72 67.30 L381.08 67.35 L382.45 67.41 L383.81 67.47 L385.17 67.52 L386.54 67.58 L387.90 67.64 L389.27 67.70 L390.63 67.76 L391.99 67.82 L393.36 67.88 L394.72 67.94 L396.08 68.00 L397.45 68.06 L398.81 68.12 L400.17 68.19 L401.54 68.25 L402.90 68.31 L404.26 68.37 L405.63 68.44 L406.99 68.50 L408.36 68.57 L409.72 68.63 L411.08 68.69 L412.45 68.76 L413.81 68.83 L415.17 68.89 L416.54 68.96 L417.90 69.02 L419.26 69.09 L420.63 69.16 L421.99 69.22 L423.36 69.29 L424.72 69.36 L426.08 69.43 L427.45 69.50 L428.81 69.56 L430.17 69.63 L431.54 69.70 L432.90 69.77 L434.26 69.84 L435.63 69.91 L436.99 69.98 L438.35 70.05 L439.72 70.12 L441.08 70.20 L442.45 70.27 L443.81 70.34 L445.17 70.41 L446.54 70.48 L447.90 70.56 L449.26 70.63 L450.63 70.70 L451.99 70.77 L453.35 70.85 L454.72 70.92 L456.08 71.00 L457.45 71.07 L458.81 71.14 L460.17 71.22 L461.54 71.29 L462.90 71.37 L464.26 71.44 L465.63 71.52 L466.99 71.60 L468.35 71.67 L469.72 71.75 L471.08 71.82 L472.44 71.90 L473.81 71.98 L475.17 72.05 L476.54 72.13 L477.90 72.21 L479.26 72.29 L480.63 72.36 L481.99 72.44 L483.35 72.52 L484.72 72.60 L486.08 72.68 L487.44 72.76 L488.81 72.84 L490.17 72.92 L491.54 73.00 L492.90 73.07 L494.26 73.15 L495.63 73.23 L496.99 73.32 L498.35 73.40 L499.72 73.48 L501.08 73.56 L502.44 73.64 L503.81 73.72 L505.17 73.80 L506.53 73.88 L507.90 73.96 L509.26 74.05 L510.63 74.13 L511.99 74.21 L513.35 74.29 L514.72 74.38 L516.08 74.46 L517.44 74.54 L518.81 74.62 L520.17 74.71 L521.53 74.79 L522.90 74.87 L524.26 74.96 L525.63 75.04 L526.99 75.13 L528.35 75.21 L529.72 75.29 L531.08 75.38 L532.44 75.46 L533.81 75.55 L535.17 75.63 L536.53 75.72 L537.90 75.80 L539.26 75.89 L540.62 75.98 L541.99 76.06 L543.35 76.15 L544.72 76.23 L546.08 76.32 L547.44 76.41 L548.81 76.49 L550.17 76.58 L551.53 76.67 L552.90 76.75 L554.26 76.84 L555.62 76.93 L556.99 77.02 L558.35 77.10 L559.72 77.19 L561.08 77.28 L562.44 77.37 L563.81 77.46 L565.17 77.54 L566.53 77.63 L567.90 77.72 L569.26 77.81 L570.62 77.90 L571.99 77.99 L573.35 78.08 L574.71 78.17 L576.08 78.26 L577.44 78.35 L578.81 78.44 L580.17 78.53 L581.53 78.62 L582.90 78.71 L584.26 78.80 L585.62 78.89 L586.99 78.98 L588.35 79.07 L589.71 79.16 L591.08 79.25 L592.44 79.34 L593.81 79.43 L595.17 79.52 L596.53 79.61 L597.90 79.70 L599.26 79.80 L600.62 79.89 L601.99 79.98 L603.35 80.07 L604.71 80.16 L606.08 80.26 L607.44 80.35 L608.80 80.44 L610.17 80.53 L611.53 80.63 L612.90 80.72 L614.26 80.81 L615.62 80.91 L616.99 81.00 L618.35 81.09 L619.71 81.19 L621.08 81.28 L622.44 81.37 L623.80 81.47 L625.17 81.56 L626.53 81.65 L627.90 81.75 L629.26 81.84 L630.62 81.94 L631.99 82.03 L633.35 82.13 L634.71 82.22 L636.08 82.32 L637.44 82.41 L638.80 82.51 L640.17 82.60 L641.53 82.70 L642.89 82.79 L644.26 82.89 L645.62 82.98 L646.99 83.08 L648.35 83.17 L649.71 83.27 L651.08 83.37 L652.44 83.46 L653.80 83.56 L655.17 83.65 L656.53 83.75 L657.89 83.85 L659.26 83.94 L660.62 84.04 L661.99 84.14 L663.35 84.23 L664.71 84.33 L666.08 84.43 L667.44 84.53 L668.80 84.62 L670.17 84.72 L671.53 84.82 L672.89 84.92 L674.26 85.01 L675.62 85.11 L676.98 85.21 L678.35 85.31 L679.71 85.41 L681.08 85.50 L682.44 85.60 L683.80 85.70 L685.17 85.80 L686.53 85.90 L687.89 86.00 L689.26 86.10 L690.62 86.20 L691.98 86.29 L693.35 86.39 L694.71 86.49 L696.08 86.59 L697.44 86.69 L698.80 86.79 L700.17 86.89 L701.53 86.99 L702.89 87.09 L704.26 87.19 L705.62 87.29 L706.98 87.39 L708.35 87.49 L709.71 87.59 L711.07 87.69 L712.44 87.79 L713.80 87.89 L715.17 87.99 L716.53 88.09 L717.89 88.20 L719.26 88.30 L720.62 88.40 L721.98 88.50 L723.35 88.60 L724.71 88.70 L726.07 88.80 L727.44 88.90 L728.80 89.01 L730.17 89.11 L731.53 89.21 L732.89 89.31 L734.26 89.41 L735.62 89.52 L736.98 89.62 L738.35 89.72 L739.71 89.82 L741.07 89.92 L742.44 90.03 L743.80 90.13 L745.16 90.23 L746.53 90.34 L747.89 90.44 L749.26 90.54 L750.62 90.64 L751.98 90.75 L753.35 90.85 L754.71 90.95 L756.07 91.06 L757.44 91.16 L758.80 91.26 L760.16 91.37 L761.53 91.47 L762.89 91.58 L764.26 91.68 L765.62 91.78 L766.98 91.89 L768.35 91.99 L769.71 92.10 L771.07 92.20 L772.44 92.31 L773.80 92.41 L775.16 92.51 L776.53 92.62 L777.89 92.72 L779.25 92.83 L780.62 92.93 L781.98 93.04 L783.35 93.14 L784.71 93.25 L786.07 93.35 L787.44 93.46 L788.80 93.56" stroke="#00ff00"/>
<path d="M107.00 34.20 L107.27 558.22 L107.55 671.00 L107.82 671.00 L108.09 671.00 L108.36 671.00 L108.64 671.00 L108.91 671.00 L109.18 615.27 L109.45 565.30 L109.73 522.25 L110.00 485.06 L110.27 452.79 L110.55 424.61 L110.82 399.86 L111.09 377.97 L111.36 358.51 L111.64 341.12 L111.91 325.48 L112.18 311.36 L112.45 298.55 L112.73 286.88 L113.00 276.22 L113.27 266.43 L113.55 257.41 L113.82 249.09 L114.09 241.38 L114.36 234.22 L114.64 227.55 L114.91 221.33 L115.18 215.51 L115.45 210.06 L115.73 204.93 L116.00 200.12 L116.27 195.57 L116.55 191.29 L116.82 187.23 L117.09 183.40 L117.36 179.76 L117.64 176.30 L117.91 173.02 L118.18 169.89 L118.45 166.91 L118.73 164.07 L119.00 161.35 L119.27 158.76 L119.55 156.27 L119.82 153.90 L120.09 151.62 L120.36 149.43 L120.64 147.33 L120.91 145.31 L121.18 143.37 L121.45 141.50 L121.73 139.70 L122.00 137.97 L122.27 136.30 L122.55 134.68 L122.82 133.13 L123.09 131.62 L123.36 130.17 L123.64 128.76 L123.91 127.40 L124.18 126.08 L124.45 124.81 L124.73 123.57 L125.00 122.37 L125.27 121.21 L125.54 120.08 L125.82 118.98 L126.09 117.92 L126.36 116.89 L126.64 115.88 L126.91 114.90 L127.18 113.95 L127.45 113.03 L127.73 112.13 L128.00 111.25 L128.27 110.40 L128.54 109.56 L128.82 108.75 L129.09 107.96 L129.36 107.19 L129.64 106.44 L129.91 105.71 L130.18 104.99 L130.45 104.29 L130.73 103.61 L131.00 102.94 L131.27 102.29 L131.54 101.65 L131.82 101.03 L132.09 100.42 L132.36 99.82 L132.64 99.24 L132.91 98.67 L133.18 98.11 L133.45 97.56 L133.73 97.03 L134.00 96.50 L134.27 95.99 L134.54 95.49 L134.82 95.00 L135.09 94.51 L135.36 94.04 L135.64 93.58 L135.91 93.12 L136.18 92.67 L136.45 92.24 L136.73 91.81 L137.00 91.39 L137.27 90.97 L137.54 90.57 L137.82 90.17 L138.09 89.78 L138.36 89.39 L138.64 89.02 L138.91 88.65 L139.18 88.28 L139.45 87.92 L139.73 87.57 L140.00 87.23 L140.27 86.89 L140.54 86.55 L140.82 86.23 L141.09 85.90 L141.36 85.59 L141.64 85.27 L141.91 84.97 L142.18 84.67 L142.45 84.37 L142.73 84.08 L143.00 83.79 L143.27 83.51 L143.54 83.23 L143.82 82.95 L144.09 82.68 L144.36 82.42 L144.64 82.15 L144.91 81.90 L145.18 81.64 L145.45 81.39 L145.73 81.15 L146.00 80.90 L146.27 80.66 L146.54 80.43 L146.82 80.20 L147.09 79.97 L147.36 79.74 L147.64 79.52 L147.91 79.30 L149.27 78.25 L150.64 77.27 L152.00 76.36 L153.36 75.50 L154.73 74.69 L156.09 73.94 L157.45 73.23 L158.82 72.56 L160.18 71.93 L161.54 71.34 L162.91 70.78 L164.27 70.24 L165.63 69.74 L167.00 69.27 L168.36 68.81 L169.73 68.39 L171.09 67.98 L172.45 67.59 L173.82 67.23 L175.18 66.88 L176.54 66.55 L177.91 66.23 L179.27 65.93 L180.63 65.64 L182.00 65.37 L183.36 65.11 L184.73 64.86 L186.09 64.62 L187.45 64.39 L188.82 64.18 L190.18 63.97 L191.54 63.78 L192.91 63.59 L194.27 63.41 L195.63 63.24 L197.00 63.07 L198.36 62.92 L199.72 62.77 L201.09 62.62 L202.45 62.49 L203.82 62.36 L205.18 62.24 L206.54 62.12 L207.91 62.01 L209.27 61.90 L210.63 61.80 L212.00 61.70 L213.36 61.61 L214.72 61.52 L216.09 61.43 L217.45 61.36 L218.82 61.28 L220.18 61.21 L221.54 61.14 L222.91 61.08 L224.27 61.02 L225.63 60.96 L227.00 60.90 L228.36 60.85 L229.72 60.81 L231.09 60.76 L232.45 60.72 L233.81 60.68 L235.18 60.64 L236.54 60.61 L237.91 60.58 L239.27 60.55 L240.63 60.52 L242.00 60.50 L243.36 60.48 L244.72 60.46 L246.09 60.44 L247.45 60.43 L248.81 60.41 L250.18 60.40 L251.54 60.39 L252.91 60.38 L254.27 60.38 L255.63 60.37 L257.00 60.37 L258.36 60.37 L259.72 60.37 L261.09 60.37 L262.45 60.38 L263.81 60.38 L265.18 60.39 L266.54 60.40 L267.90 60.41 L269.27 60.42 L270.63 60.43 L272.00 60.45 L273.36 60.46 L274.72 60.48 L276.09 60.49 L277.45 60.51 L278.81 60.53 L280.18 60.55 L281.54 60.58 L282.90 60.60 L284.27 60.62 L285.63 60.65 L287.00 60.67 L288.36 60.70 L289.72 60.73 L291.09 60.76 L292.45 60.79 L293.81 60.82 L295.18 60.85 L296.54 60.88 L297.90 60.92 L299.27 60.95 L300.63 60.99 L301.99 61.02 L303.36 61.06 L304.72 61.10 L306.09 61.14 L307.45 61.18 L308.81 61.21 L310.18 61.26 L311.54 61.30 L312.90 61.34 L314.27 61.38 L315.63 61.42 L316.99 61.47 L318.36 61.51 L319.72 61.56 L321.09 61.60 L322.45 61.65 L323.81 61.70 L325.18 61.75 L326.54 61.79 L327.90 61.84 L329.27 61.89 L330.63 61.94 L331.99 61.99 L333.36 62.04 L334.72 62.10 L336.08 62.15 L337.45 62.20 L338.81 62.25 L340.18 62.31 L341.54 62.36 L342.90 62.42 L344.27 62.47 L345.63 62.53 L346.99 62.58 L348.36 62.64 L349.72 62.70 L351.08 62.75 L352.45 62.81 L353.81 62.87 L355.18 62.93 L356.54 62.99 L357.90 63.05 L359.27 63.11 L360.63 63.17 L361.99 63.23 L363.36 63.29 L364.72 63.35 L366.08 63.41 L367.45 63.47 L368.81 63.54 L370.17 63.60 L371.54 63.66 L372.90 63.73 L374.27 63.79 L375.63 63.85 L376.99 63.92 L378.36 63.98 L379.72 64.05 L381.08 64.12 L382.45 64.18 L383.81 64.25 L385.17 64.31 L386.54 64.38 L387.90 64.45 L389.27 64.52 L390.63 64.58 L391.99 64.65 L393.36 64.72 L394.72 64.79 L396.08 64.86 L397.45 64.93 L398.81 65.00 L400.17 65.07 L401.54 65.14 L402.90 65.21 L404.26 65.28 L405.63 65.35 L406.99 65.42 L408.36 65.49 L409.72 65.57 L411.08 65.64 L412.45 65.71 L413.81 65.78 L415.17 65.86 L416.54 65.93 L417.90 66.00 L419.26 66.08 L420.63 66.15 L421.99 66.22 L423.36 66.30 L424.72 66.37 L426.08 66.45 L427.45 66.52 L428.81 66.60 L430.17 66.67 L431.54 66.75 L432.90 66.83 L434.26 66.90 L435.63 66.98 L436.99 67.06 L438.35 67.13 L439.72 67.21 L441.08 67.29 L442.45 67.36 L443.81 67.44 L445.17 67.52 L446.54 67.60 L447.90 67.68 L449.26 67.76 L450.63 67.83 L451.99 67.91 L453.35 67.99 L454.72 68.07 L456.08 68.15 L457.45 68.23 L458.81 68.31 L460.17 68.39 L461.54 68.47 L462.90 68.55 L464.26 68.63 L465.63 68.71 L466.99 68.79 L468.35 68.88 L469.72 68.96 L471.08 69.04 L472.44 69.12 L473.81 69.20 L475.17 69.28 L476.54 69.37 L477.90 69.45 L479.26 69.53 L480.63 69.61 L481.99 69.70 L483.35 69.78 L484.72 69.86 L486.08 69.95 L487.44 70.03 L488.81 70.11 L490.17 70.20 L491.54 70.28 L492.90 70.37 L494.26 70.45 L495.63 70.54 L496.99 70.62 L498.35 70.71 L499.72 70.79 L501.08 70.88 L502.44 70.96 L503.81 71.05 L505.17 71.13 L506.53 71.22 L507.90 71.30 L509.26 71.39 L510.63 71.48 L511.99 71.56 L513.35 71.65 L514.72 71.74 L516.08 71.82 L517.44 71.91 L518.81 72.00 L520.17 72.08 L521.53 72.17 L522.90 72.26 L524.26 72.35 L525.63 72.43 L526.99 72.52 L528.35 72.61 L529.72 72.70 L531.08 72.79 L532.44 72.88 L533.81 72.96 L535.17 73.05 L536.53 73.14 L537.90 73.23 L539.26 73.32 L540.62 73.41 L541.99 73.50 L543.35 73.59 L544.72 73.68 L546.08 73.77 L547.44 73.86 L548.81 73.95 L550.17 74.04 L551.53 74.13 L552.90 74.22 L554.26 74.31 L555.62 74.40 L556.99 74.49 L558.35 74.58 L559.72 74.67 L561.08 74.77 L562.44 74.86 L563.81 74.95 L565.17 75.04 L566.53 75.13 L567.90 75.22 L569.26 75.32 L570.62 75.41 L571.99 75.50 L573.35 75.59 L574.71 75.68 L576.08 75.78 L577.44 75.87 L578.81 75.96 L580.17 76.05 L581.53 76.15 L582.90 76.24 L584.26 76.33 L585.62 76.43 L586.99 76.52 L588.35 76.61 L589.71 76.71 L591.08 76.80 L592.44 76.90 L593.81 76.99 L595.17 77.08 L596.53 77.18 L597.90 77.27 L599.26 77.37 L600.62 77.46 L601.99 77.56 L603.35 77.65 L604.71 77.75 L606.08 77.84 L607.44 77.94 L608.80 78.03 L610.17 78.13 L611.53 78.22 L612.90 78.32 L614.26 78.41 L615.62 78.51 L616.99 78.60 L618.35 78.70 L619.71 78.80 L621.08 78.89 L622.44 78.99 L623.80 79.09 L625.17 79.18 L626.53 79.28 L627.90 79.37 L629.26 79.47 L630.62 79.57 L631.99 79.67 L633.35 79.76 L634.71 79.86 L636.08 79.96 L637.44 80.05 L638.80 80.15 L640.17 80.25 L641.53 80.35 L642.89 80.44 L644.26 80.54 L645.62 80.64 L646.99 80.74 L648.35 80.84 L649.71 80.93 L651.08 81.03 L652.44 81.13 L653.80 81.23 L655.17 81.33 L656.53 81.43 L657.89 81.53 L659.26 81.63 L660.62 81.72 L661.99 81.82 L663.35 81.92 L664.71 82.02 L666.08 82.12 L667.44 82.22 L668.80 82.32 L670.17 82.42 L671.53 82.52 L672.89 82.62 L674.26 82.72 L675.62 82.82 L676.98 82.92 L678.35 83.02 L679.71 83.12 L681.08 83.22 L682.44 83.32 L683.80 83.42 L685.17 83.52 L686.53 83.62 L687.89 83.72 L689.26 83.82 L690.62 83.93 L691.98 84.03 L693.35 84.13 L694.71 84.23 L696.08 84.33 L697.44 84.43 L698.80 84.53 L700.17 84.63 L701.53 84.74 L702.89 84.84 L704.26 84.94 L705.62 85.04 L706.98 85.14 L708.35 85.25 L709.71 85.35 L711.07 85.45 L712.44 85.55 L713.80 85.66 L715.17 85.76 L716.53 85.86 L717.89 85.96 L719.26 86.07 L720.62 86.17 L721.98 86.27 L723.35 86.38 L724.71 86.48 L726.07 86.58 L727.44 86.69 L728.80 86.79 L730.17 86.89 L731.53 87.00 L732.89 87.10 L734.26 87.20 L735.62 87.31 L736.98 87.41 L738.35 87.52 L739.71 87.62 L741.07 87.72 L742.44 87.83 L743.80 87.93 L745.16 88.04 L746.53 88.14 L747.89 88.25 L749.26 88.35 L750.62 88.45 L751.98 88.56 L753.35 88.66 L754.71 88.77 L756.07 88.87 L757.44 88.98 L758.80 89.08 L760.16 89.19 L761.53 89.30 L762.89 89.40 L764.26 89.51 L765.62 89.61 L766.98 89.72 L768.35 89.82 L769.71 89.93 L771.07 90.03 L772.44 90.14 L773.80 90.25 L775.16 90.35 L776.53 90.46 L777.89 90.57 L779.25 90.67 L780.62 90.78 L781.98 90.89 L783.35 90.99 L784.71 91.10 L786.07 91.21 L787.44 91.31 L788.80 91.42" stroke="#00ff00" stroke-dasharray="11.6 8.6"/>
<path d="M107.00 34.20 L107.27 671.00 L107.55 671.00 L107.82 671.00 L108.09 671.00 L108.36 671.00 L108.64 671.00 L108.91 671.00 L109.18 671.00 L109.45 671.00 L109.73 671.00 L110.00 671.00 L110.27 671.00 L110.55 671.00 L110.82 671.00 L111.09 637.93 L111.36 603.48 L111.64 572.67 L111.91 544.98 L112.18 519.98 L112.45 497.30 L112.73 476.64 L113.00 457.75 L113.27 440.41 L113.55 424.45 L113.82 409.70 L114.09 396.05 L114.36 383.37 L114.64 371.56 L114.91 360.54 L115.18 350.23 L115.45 340.57 L115.73 331.49 L116.00 322.96 L116.27 314.91 L116.55 307.31 L116.82 300.13 L117.09 293.33 L117.36 286.88 L117.64 280.76 L117.91 274.93 L118.18 269.39 L118.45 264.11 L118.73 259.07 L119.00 254.25 L119.27 249.65 L119.55 245.25 L119.82 241.03 L120.09 236.99 L120.36 233.11 L120.64 229.38 L120.91 225.80 L121.18 222.36 L121.45 219.04 L121.73 215.85 L122.00 212.77 L122.27 209.81 L122.55 206.94 L122.82 204.18 L123.09 201.50 L123.36 198.92 L123.64 196.42 L123.91 194.01 L124.18 191.66 L124.45 189.40 L124.73 187.20 L125.00 185.07 L125.27 183.00 L125.54 180.99 L125.82 179.04 L126.09 177.15 L126.36 175.31 L126.64 173.52 L126.91 171.78 L127.18 170.09 L127.45 168.45 L127.73 166.84 L128.00 165.28 L128.27 163.76 L128.54 162.28 L128.82 160.83 L129.09 159.43 L129.36 158.05 L129.64 156.71 L129.91 155.40 L130.18 154.12 L130.45 152.88 L130.73 151.66 L131.00 150.47 L131.27 149.30 L131.54 148.17 L131.82 147.05 L132.09 145.97 L132.36 144.90 L132.64 143.86 L132.91 142.84 L133.18 141.84 L133.45 140.87 L133.73 139.91 L134.00 138.97 L134.27 138.06 L134.54 137.16 L134.82 136.27 L135.09 135.41 L135.36 134.56 L135.64 133.73 L135.91 132.92 L136.18 132.12 L136.45 131.33 L136.73 130.56 L137.00 129.81 L137.27 129.07 L137.54 128.34 L137.82 127.62 L138.09 126.92 L138.36 126.23 L138.64 125.55 L138.91 124.89 L139.18 124.23 L139.45 123.59 L139.73 122.96 L140.00 122.34 L140.27 121.73 L140.54 121.13 L140.82 120.54 L141.09 119.96 L141.36 119.38 L141.64 118.82 L141.91 118.27 L142.18 117.72 L142.45 117.19 L142.73 116.66 L143.00 116.14 L143.27 115.63 L143.54 115.13 L143.82 114.63 L144.09 114.14 L144.36 113.66 L144.64 113.19 L144.91 112.72 L145.18 112.26 L145.45 111.81 L145.73 111.37 L146.00 110.93 L146.27 110.49 L146.54 110.06 L146.82 109.64 L147.09 109.23 L147.36 108.82 L147.64 108.42 L147.91 108.02 L149.27 106.11 L150.64 104.32 L152.00 102.65 L153.36 101.08 L154.73 99.61 L156.09 98.22 L157.45 96.91 L158.82 95.68 L160.18 94.51 L161.54 93.40 L162.91 92.36 L164.27 91.36 L165.63 90.42 L167.00 89.52 L168.36 88.67 L169.73 87.86 L171.09 87.09 L172.45 86.35 L173.82 85.64 L175.18 84.97 L176.54 84.33 L177.91 83.71 L179.27 83.13 L180.63 82.56 L182.00 82.02 L183.36 81.51 L184.73 81.01 L186.09 80.54 L187.45 80.08 L188.82 79.64 L190.18 79.22 L191.54 78.81 L192.91 78.42 L194.27 78.05 L195.63 77.69 L197.00 77.34 L198.36 77.01 L199.72 76.69 L201.09 76.38 L202.45 76.08 L203.82 75.79 L205.18 75.52 L206.54 75.25 L207.91 74.99 L209.27 74.75 L210.63 74.51 L212.00 74.28 L213.36 74.05 L214.72 73.84 L216.09 73.63 L217.45 73.43 L218.82 73.24 L220.18 73.06 L221.54 72.88 L222.91 72.70 L224.27 72.54 L225.63 72.38 L227.00 72.22 L228.36 72.07 L229.72 71.93 L231.09 71.79 L232.45 71.65 L233.81 71.53 L235.18 71.40 L236.54 71.28 L237.91 71.17 L239.27 71.05 L240.63 70.95 L242.00 70.84 L243.36 70.74 L244.72 70.65 L246.09 70.56 L247.45 70.47 L248.81 70.38 L250.18 70.30 L251.54 70.22 L252.91 70.15 L254.27 70.08 L255.63 70.01 L257.00 69.94 L258.36 69.88 L259.72 69.82 L261.09 69.76 L262.45 69.70 L263.81 69.65 L265.18 69.60 L266.54 69.55 L267.90 69.51 L269.27 69.46 L270.63 69.42 L272.00 69.38 L273.36 69.35 L274.72 69.31 L276.09 69.28 L277.45 69.25 L278.81 69.22 L280.18 69.20 L281.54 69.17 L282.90 69.15 L284.27 69.13 L285.63 69.11 L287.00 69.09 L288.36 69.08 L289.72 69.06 L291.09 69.05 L292.45 69.04 L293.81 69.03 L295.18 69.02 L296.54 69.01 L297.90 69.01 L299.27 69.00 L300.63 69.00 L301.99 69.00 L303.36 69.00 L304.72 69.00 L306.09 69.01 L307.45 69.01 L308.81 69.02 L310.18 69.02 L311.54 69.03 L312.90 69.04 L314.27 69.05 L315.63 69.06 L316.99 69.07 L318.36 69.08 L319.72 69.10 L321.09 69.11 L322.45 69.13 L323.81 69.15 L325.18 69.17 L326.54 69.19 L327.90 69.21 L329.27 69.23 L330.63 69.25 L331.99 69.27 L333.36 69.30 L334.72 69.32 L336.08 69.35 L337.45 69.37 L338.81 69.40 L340.18 69.43 L341.54 69.46 L342.90 69.49 L344.27 69.52 L345.63 69.55 L346.99 69.58 L348.36 69.61 L349.72 69.65 L351.08 69.68 L352.45 69.71 L353.81 69.75 L355.18 69.79 L356.54 69.82 L357.90 69.86 L359.27 69.90 L360.63 69.94 L361.99 69.98 L363.36 70.02 L364.72 70.06 L366.08 70.10 L367.45 70.14 L368.81 70.18 L370.17 70.23 L371.54 70.27 L372.90 70.31 L374.27 70.36 L375.63 70.40 L376.99 70.45 L378.36 70.50 L379.72 70.54 L381.08 70.59 L382.45 70.64 L383.81 70.69 L385.17 70.73 L386.54 70.78 L387.90 70.83 L389.27 70.88 L390.63 70.94 L391.99 70.99 L393.36 71.04 L394.72 71.09 L396.08 71.14 L397.45 71.20 L398.81 71.25 L400.17 71.30 L401.54 71.36 L402.90 71.41 L404.26 71.47 L405.63 71.52 L406.99 71.58 L408.36 71.64 L409.72 71.69 L411.08 71.75 L412.45 71.81 L413.81 71.87 L415.17 71.93 L416.54 71.98 L417.90 72.04 L419.26 72.10 L420.63 72.16 L421.99 72.22 L423.36 72.28 L424.72 72.35 L426.08 72.41 L427.45 72.47 L428.81 72.53 L430.17 72.59 L431.54 72.66 L432.90 72.72 L434.26 72.78 L435.63 72.85 L436.99 72.91 L438.35 72.97 L439.72 73.04 L441.08 73.10 L442.45 73.17 L443.81 73.24 L445.17 73.30 L446.54 73.37 L447.90 73.43 L449.26 73.50 L450.63 73.57 L451.99 73.64 L453.35 73.70 L454.72 73.77 L456.08 73.84 L457.45 73.91 L458.81 73.98 L460.17 74.05 L461.54 74.12 L462.90 74.19 L464.26 74.26 L465.63 74.33 L466.99 74.40 L468.35 74.47 L469.72 74.54 L471.08 74.61 L472.44 74.68 L473.81 74.75 L475.17 74.82 L476.54 74.90 L477.90 74.97 L479.26 75.04 L480.63 75.12 L481.99 75.19 L483.35 75.26 L484.72 75.34 L486.08 75.41 L487.44 75.48 L488.81 75.56 L490.17 75.63 L491.54 75.71 L492.90 75.78 L494.26 75.86 L495.63 75.93 L496.99 76.01 L498.35 76.09 L499.72 76.16 L501.08 76.24 L502.44 76.32 L503.81 76.39 L505.17 76.47 L506.53 76.55 L507.90 76.62 L509.26 76.70 L510.63 76.78 L511.99 76.86 L513.35 76.94 L514.72 77.01 L516.08 77.09 L517.44 77.17 L518.81 77.25 L520.17 77.33 L521.53 77.41 L522.90 77.49 L524.26 77.57 L525.63 77.65 L526.99 77.73 L528.35 77.81 L529.72 77.89 L531.08 77.97 L532.44 78.05 L533.81 78.13 L535.17 78.22 L536.53 78.30 L537.90 78.38 L539.26 78.46 L540.62 78.54 L541.99 78.62 L543.35 78.71 L544.72 78.79 L546.08 78.87 L547.44 78.96 L548.81 79.04 L550.17 79.12 L551.53 79.21 L552.90 79.29 L554.26 79.37 L555.62 79.46 L556.99 79.54 L558.35 79.63 L559.72 79.71 L561.08 79.79 L562.44 79.88 L563.81 79.96 L565.17 80.05 L566.53 80.13 L567.90 80.22 L569.26 80.31 L570.62 80.39 L571.99 80.48 L573.35 80.56 L574.71 80.65 L576.08 80.74 L577.44 80.82 L578.81 80.91 L580.17 81.00 L581.53 81.08 L582.90 81.17 L584.26 81.26 L585.62 81.34 L586.99 81.43 L588.35 81.52 L589.71 81.61 L591.08 81.69 L592.44 81.78 L593.81 81.87 L595.17 81.96 L596.53 82.05 L597.90 82.14 L599.26 82.23 L600.62 82.31 L601.99 82.40 L603.35 82.49 L604.71 82.58 L606.08 82.67 L607.44 82.76 L608.80 82.85 L610.17 82.94 L611.53 83.03 L612.90 83.12 L614.26 83.21 L615.62 83.30 L616.99 83.39 L618.35 83.48 L619.71 83.57 L621.08 83.67 L622.44 83.76 L623.80 83.85 L625.17 83.94 L626.53 84.03 L627.90 84.12 L629.26 84.21 L630.62 84.31 L631.99 84.40 L633.35 84.49 L634.71 84.58 L636.08 84.67 L637.44 84.77 L638.80 84.86 L640.17 84.95 L641.53 85.05 L642.89 85.14 L644.26 85.23 L645.62 85.32 L646.99 85.42 L648.35 85.51 L649.71 85.60 L651.08 85.70 L652.44 85.79 L653.80 85.89 L655.17 85.98 L656.53 86.07 L657.89 86.17 L659.26 86.26 L660.62 86.36 L661.99 86.45 L663.35 86.55 L664.71 86.64 L666.08 86.74 L667.44 86.83 L668.80 86.93 L670.17 87.02 L671.53 87.12 L672.89 87.21 L674.26 87.31 L675.62 87.41 L676.98 87.50 L678.35 87.60 L679.71 87.69 L681.08 87.79 L682.44 87.89 L683.80 87.98 L685.17 88.08 L686.53 88.18 L687.89 88.27 L689.26 88.37 L690.62 88.47 L691.98 88.56 L693.35 88.66 L694.71 88.76 L696.08 88.85 L697.44 88.95 L698.80 89.05 L700.17 89.15 L701.53 89.25 L702.89 89.34 L704.26 89.44 L705.62 89.54 L706.98 89.64 L708.35 89.74 L709.71 89.83 L711.07 89.93 L712.44 90.03 L713.80 90.13 L715.17 90.23 L716.53 90.33 L717.89 90.43 L719.26 90.53 L720.62 90.63 L721.98 90.73 L723.35 90.82 L724.71 90.92 L726.07 91.02 L727.44 91.12 L728.80 91.22 L730.17 91.32 L731.53 91.42 L732.89 91.52 L734.26 91.62 L735.62 91.72 L736.98 91.82 L738.35 91.93 L739.71 92.03 L741.07 92.13 L742.44 92.23 L743.80 92.33 L745.16 92.43 L746.53 92.53 L747.89 92.63 L749.26 92.73 L750.62 92.83 L751.98 92.94 L753.35 93.04 L754.71 93.14 L756.07 93.24 L757.44 93.34 L758.80 93.44 L760.16 93.55 L761.53 93.65 L762.89 93.75 L764.26 93.85 L765.62 93.96 L766.98 94.06 L768.35 94.16 L769.71 94.26 L771.07 94.37 L772.44 94.47 L773.80 94.57 L775.16 94.68 L776.53 94.78 L777.89 94.88 L779.25 94.99 L780.62 95.09 L781.98 95.19 L783.35 95.30 L784.71 95.40 L786.07 95.50 L787.44 95.61 L788.80 95.71" stroke="#00ff00" stroke-dasharray="11.6 8.6"/>
<path d="M107.00 34.20 L107.27 426.21 L107.55 671.00 L107.82 671.00 L108.09 671.00 L108.36 671.00 L108.64 671.00 L108.91 671.00 L109.18 671.00 L109.45 671.00 L109.73 671.00 L110.00 671.00 L110.27 671.00 L110.55 671.00 L110.82 671.00 L111.09 671.00 L111.36 671.00 L111.64 671.00 L111.91 671.00 L112.18 671.00 L112.45 671.00 L112.73 671.00 L113.00 664.57 L113.27 641.54 L113.55 620.05 L113.82 599.97 L114.09 581.17 L114.36 563.56 L114.64 547.02 L114.91 531.47 L115.18 516.83 L115.45 503.02 L115.73 489.98 L116.00 477.65 L116.27 465.98 L116.55 454.91 L116.82 444.41 L117.09 434.43 L117.36 424.93 L117.64 415.89 L117.91 407.27 L118.18 399.04 L118.45 391.18 L118.73 383.66 L119.00 376.47 L119.27 369.58 L119.55 362.98 L119.82 356.64 L120.09 350.55 L120.36 344.71 L120.64 339.08 L120.91 333.67 L121.18 328.46 L121.45 323.44 L121.73 318.60 L122.00 313.93 L122.27 309.42 L122.55 305.07 L122.82 300.86 L123.09 296.79 L123.36 292.85 L123.64 289.04 L123.91 285.35 L124.18 281.77 L124.45 278.31 L124.73 274.94 L125.00 271.68 L125.27 268.52 L125.54 265.44 L125.82 262.46 L126.09 259.55 L126.36 256.73 L126.64 253.99 L126.91 251.32 L127.18 248.72 L127.45 246.19 L127.73 243.73 L128.00 241.33 L128.27 238.99 L128.54 236.71 L128.82 234.48 L129.09 232.31 L129.36 230.20 L129.64 228.13 L129.91 226.12 L130.18 224.15 L130.45 222.23 L130.73 220.35 L131.00 218.51 L131.27 216.72 L131.54 214.96 L131.82 213.25 L132.09 211.57 L132.36 209.93 L132.64 208.32 L132.91 206.75 L133.18 205.21 L133.45 203.70 L133.73 202.22 L134.00 200.78 L134.27 199.36 L134.54 197.97 L134.82 196.61 L135.09 195.27 L135.36 193.97 L135.64 192.68 L135.91 191.42 L136.18 190.19 L136.45 188.98 L136.73 187.79 L137.00 186.62 L137.27 185.47 L137.54 184.35 L137.82 183.24 L138.09 182.16 L138.36 181.09 L138.64 180.05 L138.91 179.02 L139.18 178.01 L139.45 177.01 L139.73 176.04 L140.00 175.08 L140.27 174.13 L140.54 173.20 L140.82 172.29 L141.09 171.39 L141.36 170.51 L141.64 169.64 L141.91 168.79 L142.18 167.95 L142.45 167.12 L142.73 166.30 L143.00 165.50 L143.27 164.71 L143.54 163.93 L143.82 163.17 L144.09 162.42 L144.36 161.67 L144.64 160.94 L144.91 160.22 L145.18 159.51 L145.45 158.81 L145.73 158.12 L146.00 157.44 L146.27 156.78 L146.54 156.12 L146.82 155.47 L147.09 154.82 L147.36 154.19 L147.64 153.57 L147.91 152.96 L149.27 150.01 L150.64 147.26 L152.00 144.68 L153.36 142.26 L154.73 139.99 L156.09 137.86 L157.45 135.85 L158.82 133.95 L160.18 132.16 L161.54 130.46 L162.91 128.86 L164.27 127.34 L165.63 125.90 L167.00 124.53 L168.36 123.23 L169.73 121.99 L171.09 120.81 L172.45 119.69 L173.82 118.62 L175.18 117.60 L176.54 116.63 L177.91 115.70 L179.27 114.82 L180.63 113.97 L182.00 113.16 L183.36 112.38 L184.73 111.64 L186.09 110.92 L187.45 110.24 L188.82 109.59 L190.18 108.96 L191.54 108.36 L192.91 107.78 L194.27 107.23 L195.63 106.70 L197.00 106.19 L198.36 105.70 L199.72 105.23 L201.09 104.78 L202.45 104.35 L203.82 103.93 L205.18 103.53 L206.54 103.15 L207.91 102.78 L209.27 102.43 L210.63 102.08 L212.00 101.76 L213.36 101.44 L214.72 101.14 L216.09 100.85 L217.45 100.57 L218.82 100.31 L220.18 100.05 L221.54 99.80 L222.91 99.57 L224.27 99.34 L225.63 99.12 L227.00 98.91 L228.36 98.71 L229.72 98.52 L231.09 98.34 L232.45 98.16 L233.81 97.99 L235.18 97.83 L236.54 97.68 L237.91 97.53 L239.27 97.39 L240.63 97.26 L242.00 97.13 L243.36 97.01 L244.72 96.90 L246.09 96.79 L247.45 96.68 L248.81 96.59 L250.18 96.49 L251.54 96.41 L252.91 96.32 L254.27 96.24 L255.63 96.17 L257.00 96.10 L258.36 96.04 L259.72 95.98 L261.09 95.92 L262.45 95.87 L263.81 95.83 L265.18 95.78 L266.54 95.74 L267.90 95.71 L269.27 95.68 L270.63 95.65 L272.00 95.62 L273.36 95.60 L274.72 95.58 L276.09 95.57 L277.45 95.56 L278.81 95.55 L280.18 95.54 L281.54 95.54 L282.90 95.54 L284.27 95.54 L285.63 95.55 L287.00 95.56 L288.36 95.57 L289.72 95.58 L291.09 95.60 L292.45 95.62 L293.81 95.64 L295.18 95.66 L296.54 95.69 L297.90 95.72 L299.27 95.75 L300.63 95.78 L301.99 95.82 L303.36 95.85 L304.72 95.89 L306.09 95.94 L307.45 95.98 L308.81 96.02 L310.18 96.07 L311.54 96.12 L312.90 96.17 L314.27 96.22 L315.63 96.28 L316.99 96.33 L318.36 96.39 L319.72 96.45 L321.09 96.51 L322.45 96.58 L323.81 96.64 L325.18 96.71 L326.54 96.77 L327.90 96.84 L329.27 96.91 L330.63 96.99 L331.99 97.06 L333.36 97.13 L334.72 97.21 L336.08 97.29 L337.45 97.37 L338.81 97.45 L340.18 97.53 L341.54 97.61 L342.90 97.70 L344.27 97.78 L345.63 97.87 L346.99 97.96 L348.36 98.05 L349.72 98.14 L351.08 98.23 L352.45 98.32 L353.81 98.41 L355.18 98.51 L356.54 98.60 L357.90 98.70 L359.27 98.80 L360.63 98.90 L361.99 99.00 L363.36 99.10 L364.72 99.20 L366.08 99.30 L367.45 99.41 L368.81 99.51 L370.17 99.62 L371.54 99.73 L372.90 99.83 L374.27 99.94 L375.63 100.05 L376.99 100.16 L378.36 100.27 L379.72 100.39 L381.08 100.50 L382.45 100.61 L383.81 100.73 L385.17 100.84 L386.54 100.96 L387.90 101.08 L389.27 101.20 L390.63 101.32 L391.99 101.43 L393.36 101.56 L394.72 101.68 L396.08 101.80 L397.45 101.92 L398.81 102.04 L400.17 102.17 L401.54 102.29 L402.90 102.42 L404.26 102.54 L405.63 102.67 L406.99 102.80 L408.36 102.93 L409.72 103.06 L411.08 103.19 L412.45 103.32 L413.81 103.45 L415.17 103.58 L416.54 103.71 L417.90 103.84 L419.26 103.98 L420.63 104.11 L421.99 104.24 L423.36 104.38 L424.72 104.51 L426.08 104.65 L427.45 104.79 L428.81 104.93 L430.17 105.06 L431.54 105.20 L432.90 105.34 L434.26 105.48 L435.63 105.62 L436.99 105.76 L438.35 105.90 L439.72 106.05 L441.08 106.19 L442.45 106.33 L443.81 106.47 L445.17 106.62 L446.54 106.76 L447.90 106.91 L449.26 107.05 L450.63 107.20 L451.99 107.34 L453.35 107.49 L454.72 107.64 L456.08 107.79 L457.45 107.94 L458.81 108.08 L460.17 108.23 L461.54 108.38 L462.90 108.53 L464.26 108.68 L465.63 108.83 L466.99 108.99 L468.35 109.14 L469.72 109.29 L471.08 109.44 L472.44 109.60 L473.81 109.75 L475.17 109.90 L476.54 110.06 L477.90 110.21 L479.26 110.37 L480.63 110.53 L481.99 110.68 L483.35 110.84 L484.72 111.00 L486.08 111.15 L487.44 111.31 L488.81 111.47 L490.17 111.63 L491.54 111.79 L492.90 111.95 L494.26 112.11 L495.63 112.27 L496.99 112.43 L498.35 112.59 L499.72 112.75 L501.08 112.91 L502.44 113.07 L503.81 113.23 L505.17 113.40 L506.53 113.56 L507.90 113.72 L509.26 113.89 L510.63 114.05 L511.99 114.22 L513.35 114.38 L514.72 114.55 L516.08 114.71 L517.44 114.88 L518.81 115.04 L520.17 115.21 L521.53 115.38 L522.90 115.55 L524.26 115.71 L525.63 115.88 L526.99 116.05 L528.35 116.22 L529.72 116.39 L531.08 116.56 L532.44 116.73 L533.81 116.89 L535.17 117.07 L536.53 117.24 L537.90 117.41 L539.26 117.58 L540.62 117.75 L541.99 117.92 L543.35 118.09 L544.72 118.26 L546.08 118.44 L547.44 118.61 L548.81 118.78 L550.17 118.96 L551.53 119.13 L552.90 119.31 L554.26 119.48 L555.62 119.65 L556.99 119.83 L558.35 120.00 L559.72 120.18 L561.08 120.36 L562.44 120.53 L563.81 120.71 L565.17 120.88 L566.53 121.06 L567.90 121.24 L569.26 121.42 L570.62 121.59 L571.99 121.77 L573.35 121.95 L574.71 122.13 L576.08 122.31 L577.44 122.49 L578.81 122.67 L580.17 122.85 L581.53 123.03 L582.90 123.21 L584.26 123.39 L585.62 123.57 L586.99 123.75 L588.35 123.93 L589.71 124.11 L591.08 124.29 L592.44 124.48 L593.81 124.66 L595.17 124.84 L596.53 125.02 L597.90 125.21 L599.26 125.39 L600.62 125.57 L601.99 125.76 L603.35 125.94 L604.71 126.12 L606.08 126.31 L607.44 126.49 L608.80 126.68 L610.17 126.86 L611.53 127.05 L612.90 127.24 L614.26 127.42 L615.62 127.61 L616.99 127.79 L618.35 127.98 L619.71 128.17 L621.08 128.35 L622.44 128.54 L623.80 128.73 L625.17 128.92 L626.53 129.11 L627.90 129.29 L629.26 129.48 L630.62 129.67 L631.99 129.86 L633.35 130.05 L634.71 130.24 L636.08 130.43 L637.44 130.62 L638.80 130.81 L640.17 131.00 L641.53 131.19 L642.89 131.38 L644.26 131.57 L645.62 131.76 L646.99 131.95 L648.35 132.14 L649.71 132.34 L651.08 132.53 L652.44 132.72 L653.80 132.91 L655.17 133.11 L656.53 133.30 L657.89 133.49 L659.26 133.69 L660.62 133.88 L661.99 134.07 L663.35 134.27 L664.71 134.46 L666.08 134.65 L667.44 134.85 L668.80 135.04 L670.17 135.24 L671.53 135.43 L672.89 135.63 L674.26 135.83 L675.62 136.02 L676.98 136.22 L678.35 136.41 L679.71 136.61 L681.08 136.81 L682.44 137.00 L683.80 137.20 L685.17 137.40 L686.53 137.59 L687.89 137.79 L689.26 137.99 L690.62 138.19 L691.98 138.39 L693.35 138.58 L694.71 138.78 L696.08 138.98 L697.44 139.18 L698.80 139.38 L700.17 139.58 L701.53 139.78 L702.89 139.98 L704.26 140.18 L705.62 140.38 L706.98 140.58 L708.35 140.78 L709.71 140.98 L711.07 141.18 L712.44 141.38 L713.80 141.58 L715.17 141.78 L716.53 141.99 L717.89 142.19 L719.26 142.39 L720.62 142.59 L721.98 142.79 L723.35 143.00 L724.71 143.20 L726.07 143.40 L727.44 143.61 L728.80 143.81 L730.17 144.01 L731.53 144.22 L732.89 144.42 L734.26 144.62 L735.62 144.83 L736.98 145.03 L738.35 145.24 L739.71 145.44 L741.07 145.65 L742.44 145.85 L743.80 146.06 L745.16 146.26 L746.53 146.47 L747.89 146.67 L749.26 146.88 L750.62 147.09 L751.98 147.29 L753.35 147.50 L754.71 147.70 L756.07 147.91 L757.44 148.12 L758.80 148.33 L760.16 148.53 L761.53 148.74 L762.89 148.95 L764.26 149.16 L765.62 149.36 L766.98 149.57 L768.35 149.78 L769.71 149.99 L771.07 150.20 L772.44 150.41 L773.80 150.62 L775.16 150.82 L776.53 151.03 L777.89 151.24 L779.25 151.45 L780.62 151.66 L781.98 151.87 L783.35 152.08 L784.71 152.29 L786.07 152.50 L787.44 152.72 L788.80 152.93" stroke="#0000ff"/>
<path d="M107.00 34.20 L107.27 371.81 L107.55 659.27 L107.82 671.00 L108.09 671.00 L108.36 671.00 L108.64 671.00 L108.91 671.00 L109.18 671.00 L109.45 671.00 L109.73 671.00 L110.00 671.00 L110.27 671.00 L110.55 671.00 L110.82 671.00 L111.09 671.00 L111.36 671.00 L111.64 671.00 L111.91 671.00 L112.18 647.34 L112.45 622.74 L112.73 599.88 L113.00 578.61 L113.27 558.79 L113.55 540.29 L113.82 523.01 L114.09 506.84 L114.36 491.68 L114.64 477.44 L114.91 464.06 L115.18 451.46 L115.45 439.58 L115.73 428.36 L116.00 417.75 L116.27 407.70 L116.55 398.18 L116.82 389.14 L117.09 380.55 L117.36 372.38 L117.64 364.60 L117.91 357.18 L118.18 350.10 L118.45 343.34 L118.73 336.87 L119.00 330.68 L119.27 324.75 L119.55 319.07 L119.82 313.62 L120.09 308.38 L120.36 303.35 L120.64 298.51 L120.91 293.86 L121.18 289.38 L121.45 285.06 L121.73 280.89 L122.00 276.88 L122.27 273.00 L122.55 269.25 L122.82 265.63 L123.09 262.13 L123.36 258.74 L123.64 255.47 L123.91 252.29 L124.18 249.22 L124.45 246.23 L124.73 243.34 L125.00 240.54 L125.27 237.82 L125.54 235.17 L125.82 232.60 L126.09 230.11 L126.36 227.68 L126.64 225.32 L126.91 223.03 L127.18 220.80 L127.45 218.62 L127.73 216.50 L128.00 214.44 L128.27 212.43 L128.54 210.47 L128.82 208.56 L129.09 206.70 L129.36 204.88 L129.64 203.10 L129.91 201.37 L130.18 199.68 L130.45 198.03 L130.73 196.41 L131.00 194.84 L131.27 193.30 L131.54 191.79 L131.82 190.32 L132.09 188.87 L132.36 187.46 L132.64 186.08 L132.91 184.73 L133.18 183.41 L133.45 182.12 L133.73 180.85 L134.00 179.61 L134.27 178.39 L134.54 177.20 L134.82 176.03 L135.09 174.88 L135.36 173.76 L135.64 172.66 L135.91 171.58 L136.18 170.52 L136.45 169.48 L136.73 168.46 L137.00 167.46 L137.27 166.47 L137.54 165.51 L137.82 164.56 L138.09 163.63 L138.36 162.72 L138.64 161.82 L138.91 160.94 L139.18 160.07 L139.45 159.22 L139.73 158.38 L140.00 157.56 L140.27 156.75 L140.54 155.95 L140.82 155.17 L141.09 154.40 L141.36 153.64 L141.64 152.90 L141.91 152.17 L142.18 151.45 L142.45 150.74 L142.73 150.04 L143.00 149.35 L143.27 148.68 L143.54 148.01 L143.82 147.36 L144.09 146.71 L144.36 146.07 L144.64 145.45 L144.91 144.83 L145.18 144.22 L145.45 143.63 L145.73 143.04 L146.00 142.46 L146.27 141.88 L146.54 141.32 L146.82 140.76 L147.09 140.22 L147.36 139.67 L147.64 139.14 L147.91 138.62 L149.27 136.10 L150.64 133.75 L152.00 131.55 L153.36 129.48 L154.73 127.55 L156.09 125.73 L157.45 124.02 L158.82 122.40 L160.18 120.88 L161.54 119.44 L162.91 118.08 L164.27 116.79 L165.63 115.57 L167.00 114.41 L168.36 113.31 L169.73 112.26 L171.09 111.27 L172.45 110.32 L173.82 109.42 L175.18 108.56 L176.54 107.74 L177.91 106.96 L179.27 106.22 L180.63 105.51 L182.00 104.83 L183.36 104.18 L184.73 103.56 L186.09 102.97 L187.45 102.40 L188.82 101.86 L190.18 101.34 L191.54 100.84 L192.91 100.37 L194.27 99.91 L195.63 99.48 L197.00 99.06 L198.36 98.66 L199.72 98.27 L201.09 97.91 L202.45 97.55 L203.82 97.22 L205.18 96.89 L206.54 96.58 L207.91 96.29 L209.27 96.00 L210.63 95.73 L212.00 95.47 L213.36 95.22 L214.72 94.98 L216.09 94.75 L217.45 94.54 L218.82 94.33 L220.18 94.13 L221.54 93.94 L222.91 93.75 L224.27 93.58 L225.63 93.41 L227.00 93.26 L228.36 93.10 L229.72 92.96 L231.09 92.83 L232.45 92.70 L233.81 92.57 L235.18 92.46 L236.54 92.35 L237.91 92.24 L239.27 92.14 L240.63 92.05 L242.00 91.96 L243.36 91.88 L244.72 91.80 L246.09 91.73 L247.45 91.66 L248.81 91.60 L250.18 91.54 L251.54 91.49 L252.91 91.44 L254.27 91.40 L255.63 91.36 L257.00 91.32 L258.36 91.29 L259.72 91.26 L261.09 91.23 L262.45 91.21 L263.81 91.19 L265.18 91.18 L266.54 91.17 L267.90 91.16 L269.27 91.15 L270.63 91.15 L272.00 91.15 L273.36 91.16 L274.72 91.17 L276.09 91.18 L277.45 91.19 L278.81 91.20 L280.18 91.22 L281.54 91.24 L282.90 91.27 L284.27 91.29 L285.63 91.32 L287.00 91.35 L288.36 91.38 L289.72 91.42 L291.09 91.46 L292.45 91.50 L293.81 91.54 L295.18 91.58 L296.54 91.63 L297.90 91.67 L299.27 91.72 L300.63 91.78 L301.99 91.83 L303.36 91.88 L304.72 91.94 L306.09 92.00 L307.45 92.06 L308.81 92.12 L310.18 92.19 L311.54 92.25 L312.90 92.32 L314.27 92.39 L315.63 92.46 L316.99 92.53 L318.36 92.61 L319.72 92.68 L321.09 92.76 L322.45 92.84 L323.81 92.92 L325.18 93.00 L326.54 93.08 L327.90 93.16 L329.27 93.25 L330.63 93.33 L331.99 93.42 L333.36 93.51 L334.72 93.60 L336.08 93.69 L337.45 93.78 L338.81 93.87 L340.18 93.97 L341.54 94.06 L342.90 94.16 L344.27 94.26 L345.63 94.36 L346.99 94.46 L348.36 94.56 L349.72 94.66 L351.08 94.76 L352.45 94.87 L353.81 94.97 L355.18 95.08 L356.54 95.19 L357.90 95.29 L359.27 95.40 L360.63 95.51 L361.99 95.62 L363.36 95.74 L364.72 95.85 L366.08 95.96 L367.45 96.08 L368.81 96.19 L370.17 96.31 L371.54 96.42 L372.90 96.54 L374.27 96.66 L375.63 96.78 L376.99 96.90 L378.36 97.02 L379.72 97.14 L381.08 97.26 L382.45 97.39 L383.81 97.51 L385.17 97.63 L386.54 97.76 L387.90 97.89 L389.27 98.01 L390.63 98.14 L391.99 98.27 L393.36 98.40 L394.72 98.53 L396.08 98.66 L397.45 98.79 L398.81 98.92 L400.17 99.05 L401.54 99.18 L402.90 99.32 L404.26 99.45 L405.63 99.58 L406.99 99.72 L408.36 99.86 L409.72 99.99 L411.08 100.13 L412.45 100.27 L413.81 100.40 L415.17 100.54 L416.54 100.68 L417.90 100.82 L419.26 100.96 L420.63 101.10 L421.99 101.24 L423.36 101.39 L424.72 101.53 L426.08 101.67 L427.45 101.82 L428.81 101.96 L430.17 102.10 L431.54 102.25 L432.90 102.40 L434.26 102.54 L435.63 102.69 L436.99 102.83 L438.35 102.98 L439.72 103.13 L441.08 103.28 L442.45 103.43 L443.81 103.58 L445.17 103.73 L446.54 103.88 L447.90 104.03 L449.26 104.18 L450.63 104.33 L451.99 104.48 L453.35 104.64 L454.72 104.79 L456.08 104.94 L457.45 105.10 L458.81 105.25 L460.17 105.41 L461.54 105.56 L462.90 105.72 L464.26 105.87 L465.63 106.03 L466.99 106.19 L468.35 106.34 L469.72 106.50 L471.08 106.66 L472.44 106.82 L473.81 106.98 L475.17 107.13 L476.54 107.29 L477.90 107.45 L479.26 107.61 L480.63 107.78 L481.99 107.94 L483.35 108.10 L484.72 108.26 L486.08 108.42 L487.44 108.58 L488.81 108.75 L490.17 108.91 L491.54 109.07 L492.90 109.24 L494.26 109.40 L495.63 109.57 L496.99 109.73 L498.35 109.90 L499.72 110.06 L501.08 110.23 L502.44 110.40 L503.81 110.56 L505.17 110.73 L506.53 110.90 L507.90 111.06 L509.26 111.23 L510.63 111.40 L511.99 111.57 L513.35 111.74 L514.72 111.91 L516.08 112.08 L517.44 112.25 L518.81 112.42 L520.17 112.59 L521.53 112.76 L522.90 112.93 L524.26 113.10 L525.63 113.27 L526.99 113.45 L528.35 113.62 L529.72 113.79 L531.08 113.96 L532.44 114.14 L533.81 114.31 L535.17 114.48 L536.53 114.66 L537.90 114.83 L539.26 115.01 L540.62 115.18 L541.99 115.36 L543.35 115.53 L544.72 115.71 L546.08 115.89 L547.44 116.06 L548.81 116.24 L550.17 116.42 L551.53 116.59 L552.90 116.77 L554.26 116.95 L555.62 117.13 L556.99 117.30 L558.35 117.48 L559.72 117.66 L561.08 117.84 L562.44 118.02 L563.81 118.20 L565.17 118.38 L566.53 118.56 L567.90 118.74 L569.26 118.92 L570.62 119.10 L571.99 119.28 L573.35 119.47 L574.71 119.65 L576.08 119.83 L577.44 120.01 L578.81 120.19 L580.17 120.38 L581.53 120.56 L582.90 120.74 L584.26 120.93 L585.62 121.11 L586.99 121.29 L588.35 121.48 L589.71 121.66 L591.08 121.85 L592.44 122.03 L593.81 122.22 L595.17 122.40 L596.53 122.59 L597.90 122.77 L599.26 122.96 L600.62 123.15 L601.99 123.33 L603.35 123.52 L604.71 123.71 L606.08 123.89 L607.44 124.08 L608.80 124.27 L610.17 124.46 L611.53 124.65 L612.90 124.83 L614.26 125.02 L615.62 125.21 L616.99 125.40 L618.35 125.59 L619.71 125.78 L621.08 125.97 L622.44 126.16 L623.80 126.35 L625.17 126.54 L626.53 126.73 L627.90 126.92 L629.26 127.11 L630.62 127.30 L631.99 127.49 L633.35 127.69 L634.71 127.88 L636.08 128.07 L637.44 128.26 L638.80 128.45 L640.17 128.65 L641.53 128.84 L642.89 129.03 L644.26 129.23 L645.62 129.42 L646.99 129.61 L648.35 129.81 L649.71 130.00 L651.08 130.20 L652.44 130.39 L653.80 130.59 L655.17 130.78 L656.53 130.98 L657.89 131.17 L659.26 131.37 L660.62 131.56 L661.99 131.76 L663.35 131.95 L664.71 132.15 L666.08 132.35 L667.44 132.54 L668.80 132.74 L670.17 132.94 L671.53 133.13 L672.89 133.33 L674.26 133.53 L675.62 133.73 L676.98 133.93 L678.35 134.12 L679.71 134.32 L681.08 134.52 L682.44 134.72 L683.80 134.92 L685.17 135.12 L686.53 135.32 L687.89 135.52 L689.26 135.72 L690.62 135.92 L691.98 136.12 L693.35 136.32 L694.71 136.52 L696.08 136.72 L697.44 136.92 L698.80 137.12 L700.17 137.32 L701.53 137.52 L702.89 137.73 L704.26 137.93 L705.62 138.13 L706.98 138.33 L708.35 138.53 L709.71 138.74 L711.07 138.94 L712.44 139.14 L713.80 139.35 L715.17 139.55 L716.53 139.75 L717.89 139.96 L719.26 140.16 L720.62 140.36 L721.98 140.57 L723.35 140.77 L724.71 140.98 L726.07 141.18 L727.44 141.39 L728.80 141.59 L730.17 141.80 L731.53 142.00 L732.89 142.21 L734.26 142.41 L735.62 142.62 L736.98 142.83 L738.35 143.03 L739.71 143.24 L741.07 143.44 L742.44 143.65 L743.80 143.86 L745.16 144.07 L746.53 144.27 L747.89 144.48 L749.26 144.69 L750.62 144.90 L751.98 145.10 L753.35 145.31 L754.71 145.52 L756.07 145.73 L757.44 145.94 L758.80 146.15 L760.16 146.35 L761.53 146.56 L762.89 146.77 L764.26 146.98 L765.62 147.19 L766.98 147.40 L768.35 147.61 L769.71 147.82 L771.07 148.03 L772.44 148.24 L773.80 148.45 L775.16 148.66 L776.53 148.87 L777.89 149.09 L779.25 149.30 L780.62 149.51 L781.98 149.72 L783.35 149.93 L784.71 150.14 L786.07 150.36 L787.44 150.57 L788.80 150.78" stroke="#0000ff" stroke-dasharray="11.6 8.6"/>
<path d="M107.00 34.20 L107.27 480.61 L107.55 671.00 L107.82 671.00 L108.09 671.00 L108.36 671.00 L108.64 671.00 L108.91 671.00 L109.18 671.00 L109.45 671.00 L109.73 671.00 L110.00 671.00 L110.27 671.00 L110.55 671.00 L110.82 671.00 L111.09 671.00 L111.36 671.00 L111.64 671.00 L111.91 671.00 L112.18 671.00 L112.45 671.00 L112.73 671.00 L113.00 671.00 L113.27 671.00 L113.55 671.00 L113.82 671.00 L114.09 655.51 L114.36 635.44 L114.64 616.60 L114.91 598.88 L115.18 582.19 L115.45 566.46 L115.73 551.61 L116.00 537.56 L116.27 524.26 L116.55 511.65 L116.82 499.68 L117.09 488.31 L117.36 477.49 L117.64 467.18 L117.91 457.36 L118.18 447.98 L118.45 439.02 L118.73 430.46 L119.00 422.26 L119.27 414.41 L119.55 406.88 L119.82 399.66 L120.09 392.73 L120.36 386.06 L120.64 379.66 L120.91 373.49 L121.18 367.55 L121.45 361.83 L121.73 356.31 L122.00 350.99 L122.27 345.85 L122.55 340.88 L122.82 336.09 L123.09 331.45 L123.36 326.96 L123.64 322.61 L123.91 318.41 L124.18 314.33 L124.45 310.38 L124.73 306.55 L125.00 302.83 L125.27 299.22 L125.54 295.71 L125.82 292.31 L126.09 289.00 L126.36 285.78 L126.64 282.65 L126.91 279.61 L127.18 276.64 L127.45 273.76 L127.73 270.95 L128.00 268.21 L128.27 265.54 L128.54 262.94 L128.82 260.41 L129.09 257.93 L129.36 255.52 L129.64 253.16 L129.91 250.86 L130.18 248.62 L130.45 246.43 L130.73 244.28 L131.00 242.19 L131.27 240.14 L131.54 238.14 L131.82 236.18 L132.09 234.27 L132.36 232.39 L132.64 230.56 L132.91 228.76 L133.18 227.01 L133.45 225.29 L133.73 223.60 L134.00 221.95 L134.27 220.33 L134.54 218.74 L134.82 217.19 L135.09 215.67 L135.36 214.17 L135.64 212.71 L135.91 211.27 L136.18 209.86 L136.45 208.48 L136.73 207.12 L137.00 205.78 L137.27 204.48 L137.54 203.19 L137.82 201.93 L138.09 200.69 L138.36 199.47 L138.64 198.28 L138.91 197.10 L139.18 195.94 L139.45 194.81 L139.73 193.69 L140.00 192.60 L140.27 191.52 L140.54 190.46 L140.82 189.41 L141.09 188.39 L141.36 187.38 L141.64 186.38 L141.91 185.41 L142.18 184.45 L142.45 183.50 L142.73 182.57 L143.00 181.65 L143.27 180.75 L143.54 179.86 L143.82 178.98 L144.09 178.12 L144.36 177.27 L144.64 176.43 L144.91 175.61 L145.18 174.80 L145.45 174.00 L145.73 173.21 L146.00 172.43 L146.27 171.67 L146.54 170.91 L146.82 170.17 L147.09 169.43 L147.36 168.71 L147.64 168.00 L147.91 167.29 L149.27 163.92 L150.64 160.77 L152.00 157.81 L153.36 155.04 L154.73 152.44 L156.09 149.98 L157.45 147.67 L158.82 145.49 L160.18 143.43 L161.54 141.49 L162.91 139.64 L164.27 137.89 L165.63 136.23 L167.00 134.65 L168.36 133.15 L169.73 131.72 L171.09 130.36 L172.45 129.06 L173.82 127.83 L175.18 126.65 L176.54 125.52 L177.91 124.44 L179.27 123.41 L180.63 122.42 L182.00 121.48 L183.36 120.58 L184.73 119.71 L186.09 118.88 L187.45 118.08 L188.82 117.32 L190.18 116.58 L191.54 115.88 L192.91 115.20 L194.27 114.55 L195.63 113.92 L197.00 113.32 L198.36 112.75 L199.72 112.19 L201.09 111.66 L202.45 111.14 L203.82 110.65 L205.18 110.17 L206.54 109.71 L207.91 109.27 L209.27 108.85 L210.63 108.44 L212.00 108.04 L213.36 107.67 L214.72 107.30 L216.09 106.95 L217.45 106.61 L218.82 106.28 L220.18 105.97 L221.54 105.67 L222.91 105.38 L224.27 105.10 L225.63 104.83 L227.00 104.57 L228.36 104.32 L229.72 104.08 L231.09 103.85 L232.45 103.63 L233.81 103.42 L235.18 103.21 L236.54 103.01 L237.91 102.83 L239.27 102.64 L240.63 102.47 L242.00 102.30 L243.36 102.14 L244.72 101.99 L246.09 101.84 L247.45 101.70 L248.81 101.57 L250.18 101.44 L251.54 101.32 L252.91 101.20 L254.27 101.09 L255.63 100.99 L257.00 100.89 L258.36 100.79 L259.72 100.70 L261.09 100.62 L262.45 100.53 L263.81 100.46 L265.18 100.39 L266.54 100.32 L267.90 100.26 L269.27 100.20 L270.63 100.14 L272.00 100.09 L273.36 100.04 L274.72 100.00 L276.09 99.96 L277.45 99.93 L278.81 99.89 L280.18 99.86 L281.54 99.84 L282.90 99.82 L284.27 99.80 L285.63 99.78 L287.00 99.77 L288.36 99.76 L289.72 99.75 L291.09 99.74 L292.45 99.74 L293.81 99.74 L295.18 99.75 L296.54 99.75 L297.90 99.76 L299.27 99.78 L300.63 99.79 L301.99 99.81 L303.36 99.82 L304.72 99.85 L306.09 99.87 L307.45 99.90 L308.81 99.92 L310.18 99.95 L311.54 99.99 L312.90 100.02 L314.27 100.06 L315.63 100.09 L316.99 100.13 L318.36 100.18 L319.72 100.22 L321.09 100.27 L322.45 100.32 L323.81 100.36 L325.18 100.42 L326.54 100.47 L327.90 100.52 L329.27 100.58 L330.63 100.64 L331.99 100.70 L333.36 100.76 L334.72 100.82 L336.08 100.89 L337.45 100.95 L338.81 101.02 L340.18 101.09 L341.54 101.16 L342.90 101.23 L344.27 101.30 L345.63 101.38 L346.99 101.45 L348.36 101.53 L349.72 101.61 L351.08 101.69 L352.45 101.77 L353.81 101.85 L355.18 101.94 L356.54 102.02 L357.90 102.11 L359.27 102.20 L360.63 102.28 L361.99 102.37 L363.36 102.46 L364.72 102.56 L366.08 102.65 L367.45 102.74 L368.81 102.84 L370.17 102.93 L371.54 103.03 L372.90 103.13 L374.27 103.23 L375.63 103.33 L376.99 103.43 L378.36 103.53 L379.72 103.63 L381.08 103.74 L382.45 103.84 L383.81 103.95 L385.17 104.05 L386.54 104.16 L387.90 104.27 L389.27 104.38 L390.63 104.49 L391.99 104.60 L393.36 104.71 L394.72 104.83 L396.08 104.94 L397.45 105.05 L398.81 105.17 L400.17 105.29 L401.54 105.40 L402.90 105.52 L404.26 105.64 L405.63 105.76 L406.99 105.88 L408.36 106.00 L409.72 106.12 L411.08 106.24 L412.45 106.36 L413.81 106.49 L415.17 106.61 L416.54 106.74 L417.90 106.86 L419.26 106.99 L420.63 107.12 L421.99 107.24 L423.36 107.37 L424.72 107.50 L426.08 107.63 L427.45 107.76 L428.81 107.89 L430.17 108.02 L431.54 108.15 L432.90 108.29 L434.26 108.42 L435.63 108.55 L436.99 108.69 L438.35 108.82 L439.72 108.96 L441.08 109.10 L442.45 109.23 L443.81 109.37 L445.17 109.51 L446.54 109.65 L447.90 109.79 L449.26 109.93 L450.63 110.07 L451.99 110.21 L453.35 110.35 L454.72 110.49 L456.08 110.63 L457.45 110.77 L458.81 110.92 L460.17 111.06 L461.54 111.21 L462.90 111.35 L464.26 111.50 L465.63 111.64 L466.99 111.79 L468.35 111.93 L469.72 112.08 L471.08 112.23 L472.44 112.38 L473.81 112.53 L475.17 112.68 L476.54 112.82 L477.90 112.97 L479.26 113.13 L480.63 113.28 L481.99 113.43 L483.35 113.58 L484.72 113.73 L486.08 113.88 L487.44 114.04 L488.81 114.19 L490.17 114.34 L491.54 114.50 L492.90 114.65 L494.26 114.81 L495.63 114.97 L496.99 115.12 L498.35 115.28 L499.72 115.43 L501.08 115.59 L502.44 115.75 L503.81 115.91 L505.17 116.07 L506.53 116.22 L507.90 116.38 L509.26 116.54 L510.63 116.70 L511.99 116.86 L513.35 117.02 L514.72 117.19 L516.08 117.35 L517.44 117.51 L518.81 117.67 L520.17 117.83 L521.53 118.00 L522.90 118.16 L524.26 118.32 L525.63 118.49 L526.99 118.65 L528.35 118.82 L529.72 118.98 L531.08 119.15 L532.44 119.31 L533.81 119.48 L535.17 119.65 L536.53 119.81 L537.90 119.98 L539.26 120.15 L540.62 120.31 L541.99 120.48 L543.35 120.65 L544.72 120.82 L546.08 120.99 L547.44 121.16 L548.81 121.33 L550.17 121.50 L551.53 121.67 L552.90 121.84 L554.26 122.01 L555.62 122.18 L556.99 122.35 L558.35 122.53 L559.72 122.70 L561.08 122.87 L562.44 123.04 L563.81 123.22 L565.17 123.39 L566.53 123.56 L567.90 123.74 L569.26 123.91 L570.62 124.09 L571.99 124.26 L573.35 124.44 L574.71 124.61 L576.08 124.79 L577.44 124.96 L578.81 125.14 L580.17 125.32 L581.53 125.49 L582.90 125.67 L584.26 125.85 L585.62 126.03 L586.99 126.20 L588.35 126.38 L589.71 126.56 L591.08 126.74 L592.44 126.92 L593.81 127.10 L595.17 127.28 L596.53 127.46 L597.90 127.64 L599.26 127.82 L600.62 128.00 L601.99 128.18 L603.35 128.36 L604.71 128.54 L606.08 128.72 L607.44 128.91 L608.80 129.09 L610.17 129.27 L611.53 129.45 L612.90 129.64 L614.26 129.82 L615.62 130.00 L616.99 130.19 L618.35 130.37 L619.71 130.56 L621.08 130.74 L622.44 130.93 L623.80 131.11 L625.17 131.30 L626.53 131.48 L627.90 131.67 L629.26 131.85 L630.62 132.04 L631.99 132.23 L633.35 132.41 L634.71 132.60 L636.08 132.79 L637.44 132.97 L638.80 133.16 L640.17 133.35 L641.53 133.54 L642.89 133.73 L644.26 133.91 L645.62 134.10 L646.99 134.29 L648.35 134.48 L649.71 134.67 L651.08 134.86 L652.44 135.05 L653.80 135.24 L655.17 135.43 L656.53 135.62 L657.89 135.81 L659.26 136.00 L660.62 136.20 L661.99 136.39 L663.35 136.58 L664.71 136.77 L666.08 136.96 L667.44 137.16 L668.80 137.35 L670.17 137.54 L671.53 137.73 L672.89 137.93 L674.26 138.12 L675.62 138.31 L676.98 138.51 L678.35 138.70 L679.71 138.90 L681.08 139.09 L682.44 139.29 L683.80 139.48 L685.17 139.68 L686.53 139.87 L687.89 140.07 L689.26 140.26 L690.62 140.46 L691.98 140.65 L693.35 140.85 L694.71 141.05 L696.08 141.24 L697.44 141.44 L698.80 141.64 L700.17 141.84 L701.53 142.03 L702.89 142.23 L704.26 142.43 L705.62 142.63 L706.98 142.83 L708.35 143.02 L709.71 143.22 L711.07 143.42 L712.44 143.62 L713.80 143.82 L715.17 144.02 L716.53 144.22 L717.89 144.42 L719.26 144.62 L720.62 144.82 L721.98 145.02 L723.35 145.22 L724.71 145.42 L726.07 145.62 L727.44 145.82 L728.80 146.03 L730.17 146.23 L731.53 146.43 L732.89 146.63 L734.26 146.83 L735.62 147.04 L736.98 147.24 L738.35 147.44 L739.71 147.64 L741.07 147.85 L742.44 148.05 L743.80 148.25 L745.16 148.46 L746.53 148.66 L747.89 148.87 L749.26 149.07 L750.62 149.28 L751.98 149.48 L753.35 149.68 L754.71 149.89 L756.07 150.09 L757.44 150.30 L758.80 150.51 L760.16 150.71 L761.53 150.92 L762.89 151.12 L764.26 151.33 L765.62 151.54 L766.98 151.74 L768.35 151.95 L769.71 152.16 L771.07 152.36 L772.44 152.57 L773.80 152.78 L775.16 152.99 L776.53 153.19 L777.89 153.40 L779.25 153.61 L780.62 153.82 L781.98 154.03 L783.35 154.24 L784.71 154.44 L786.07 154.65 L787.44 154.86 L788.80 155.07" stroke="#0000ff" stroke-dasharray="11.6 8.6"/>
<path d="M107.00 34.20 L107.27 234.25 L107.55 426.38 L107.82 603.56 L108.09 671.00 L108.36 671.00 L108.64 671.00 L108.91 671.00 L109.18 671.00 L109.45 671.00 L109.73 671.00 L110.00 671.00 L110.27 671.00 L110.55 671.00 L110.82 671.00 L111.09 671.00 L111.36 671.00 L111.64 671.00 L111.91 671.00 L112.18 671.00 L112.45 671.00 L112.73 671.00 L113.00 671.00 L113.27 671.00 L113.55 671.00 L113.82 671.00 L114.09 671.00 L114.36 671.00 L114.64 671.00 L114.91 671.00 L115.18 671.00 L115.45 671.00 L115.73 671.00 L116.00 671.00 L116.27 671.00 L116.55 671.00 L116.82 671.00 L117.09 671.00 L117.36 671.00 L117.64 671.00 L117.91 671.00 L118.18 671.00 L118.45 671.00 L118.73 671.00 L119.00 671.00 L119.27 670.33 L119.55 659.14 L119.82 648.33 L120.09 637.88 L120.36 627.79 L120.64 618.02 L120.91 608.58 L121.18 599.43 L121.45 590.59 L121.73 582.01 L122.00 573.71 L122.27 565.66 L122.55 557.86 L122.82 550.29 L123.09 542.95 L123.36 535.82 L123.64 528.90 L123.91 522.17 L124.18 515.64 L124.45 509.29 L124.73 503.12 L125.00 497.12 L125.27 491.28 L125.54 485.59 L125.82 480.06 L126.09 474.67 L126.36 469.42 L126.64 464.31 L126.91 459.32 L127.18 454.46 L127.45 449.72 L127.73 445.10 L128.00 440.59 L128.27 436.18 L128.54 431.89 L128.82 427.69 L129.09 423.59 L129.36 419.59 L129.64 415.67 L129.91 411.85 L130.18 408.11 L130.45 404.46 L130.73 400.88 L131.00 397.38 L131.27 393.96 L131.54 390.61 L131.82 387.33 L132.09 384.12 L132.36 380.98 L132.64 377.90 L132.91 374.89 L133.18 371.93 L133.45 369.04 L133.73 366.20 L134.00 363.41 L134.27 360.69 L134.54 358.01 L134.82 355.39 L135.09 352.81 L135.36 350.29 L135.64 347.81 L135.91 345.38 L136.18 342.99 L136.45 340.64 L136.73 338.34 L137.00 336.08 L137.27 333.86 L137.54 331.68 L137.82 329.54 L138.09 327.43 L138.36 325.36 L138.64 323.33 L138.91 321.33 L139.18 319.37 L139.45 317.43 L139.73 315.53 L140.00 313.67 L140.27 311.83 L140.54 310.02 L140.82 308.24 L141.09 306.49 L141.36 304.77 L141.64 303.08 L141.91 301.41 L142.18 299.77 L142.45 298.15 L142.73 296.56 L143.00 294.99 L143.27 293.45 L143.54 291.93 L143.82 290.43 L144.09 288.96 L144.36 287.50 L144.64 286.07 L144.91 284.66 L145.18 283.27 L145.45 281.90 L145.73 280.55 L146.00 279.22 L146.27 277.91 L146.54 276.62 L146.82 275.34 L147.09 274.09 L147.36 272.85 L147.64 271.62 L147.91 270.42 L149.27 264.63 L150.64 259.22 L152.00 254.15 L153.36 249.39 L154.73 244.91 L156.09 240.70 L157.45 236.74 L158.82 232.99 L160.18 229.45 L161.54 226.10 L162.91 222.93 L164.27 219.93 L165.63 217.07 L167.00 214.37 L168.36 211.79 L169.73 209.34 L171.09 207.01 L172.45 204.79 L173.82 202.67 L175.18 200.65 L176.54 198.72 L177.91 196.88 L179.27 195.11 L180.63 193.43 L182.00 191.82 L183.36 190.28 L184.73 188.80 L186.09 187.39 L187.45 186.04 L188.82 184.74 L190.18 183.49 L191.54 182.30 L192.91 181.15 L194.27 180.05 L195.63 179.00 L197.00 177.99 L198.36 177.02 L199.72 176.08 L201.09 175.19 L202.45 174.32 L203.82 173.50 L205.18 172.70 L206.54 171.94 L207.91 171.21 L209.27 170.50 L210.63 169.82 L212.00 169.17 L213.36 168.55 L214.72 167.95 L216.09 167.37 L217.45 166.82 L218.82 166.29 L220.18 165.77 L221.54 165.28 L222.91 164.81 L224.27 164.36 L225.63 163.93 L227.00 163.52 L228.36 163.12 L229.72 162.74 L231.09 162.37 L232.45 162.02 L233.81 161.69 L235.18 161.37 L236.54 161.06 L237.91 160.77 L239.27 160.49 L240.63 160.23 L242.00 159.98 L243.36 159.74 L244.72 159.51 L246.09 159.29 L247.45 159.08 L248.81 158.89 L250.18 158.70 L251.54 158.53 L252.91 158.37 L254.27 158.21 L255.63 158.07 L257.00 157.93 L258.36 157.80 L259.72 157.69 L261.09 157.58 L262.45 157.47 L263.81 157.38 L265.18 157.30 L266.54 157.22 L267.90 157.15 L269.27 157.09 L270.63 157.03 L272.00 156.98 L273.36 156.94 L274.72 156.90 L276.09 156.87 L277.45 156.85 L278.81 156.84 L280.18 156.82 L281.54 156.82 L282.90 156.82 L284.27 156.83 L285.63 156.84 L287.00 156.86 L288.36 156.88 L289.72 156.91 L291.09 156.94 L292.45 156.98 L293.81 157.03 L295.18 157.07 L296.54 157.13 L297.90 157.18 L299.27 157.25 L300.63 157.31 L301.99 157.38 L303.36 157.46 L304.72 157.54 L306.09 157.62 L307.45 157.71 L308.81 157.80 L310.18 157.89 L311.54 157.99 L312.90 158.09 L314.27 158.20 L315.63 158.31 L316.99 158.42 L318.36 158.54 L319.72 158.66 L321.09 158.78 L322.45 158.90 L323.81 159.03 L325.18 159.17 L326.54 159.30 L327.90 159.44 L329.27 159.58 L330.63 159.73 L331.99 159.87 L333.36 160.02 L334.72 160.18 L336.08 160.33 L337.45 160.49 L338.81 160.65 L340.18 160.82 L341.54 160.98 L342.90 161.15 L344.27 161.32 L345.63 161.49 L346.99 161.67 L348.36 161.85 L349.72 162.03 L351.08 162.21 L352.45 162.40 L353.81 162.59 L355.18 162.78 L356.54 162.97 L357.90 163.16 L359.27 163.36 L360.63 163.56 L361.99 163.76 L363.36 163.96 L364.72 164.16 L366.08 164.37 L367.45 164.58 L368.81 164.79 L370.17 165.00 L371.54 165.22 L372.90 165.43 L374.27 165.65 L375.63 165.87 L376.99 166.09 L378.36 166.31 L379.72 166.54 L381.08 166.76 L382.45 166.99 L383.81 167.22 L385.17 167.45 L386.54 167.69 L387.90 167.92 L389.27 168.16 L390.63 168.39 L391.99 168.63 L393.36 168.87 L394.72 169.12 L396.08 169.36 L397.45 169.61 L398.81 169.85 L400.17 170.10 L401.54 170.35 L402.90 170.60 L404.26 170.85 L405.63 171.11 L406.99 171.36 L408.36 171.62 L409.72 171.88 L411.08 172.14 L412.45 172.40 L413.81 172.66 L415.17 172.92 L416.54 173.19 L417.90 173.45 L419.26 173.72 L420.63 173.99 L421.99 174.25 L423.36 174.52 L424.72 174.80 L426.08 175.07 L427.45 175.34 L428.81 175.62 L430.17 175.89 L431.54 176.17 L432.90 176.45 L434.26 176.73 L435.63 177.01 L436.99 177.29 L438.35 177.57 L439.72 177.86 L441.08 178.14 L442.45 178.43 L443.81 178.72 L445.17 179.00 L446.54 179.29 L447.90 179.58 L449.26 179.87 L450.63 180.16 L451.99 180.46 L453.35 180.75 L454.72 181.05 L456.08 181.34 L457.45 181.64 L458.81 181.94 L460.17 182.24 L461.54 182.53 L462.90 182.84 L464.26 183.14 L465.63 183.44 L466.99 183.74 L468.35 184.05 L469.72 184.35 L471.08 184.66 L472.44 184.96 L473.81 185.27 L475.17 185.58 L476.54 185.89 L477.90 186.20 L479.26 186.51 L480.63 186.82 L481.99 187.13 L483.35 187.45 L484.72 187.76 L486.08 188.08 L487.44 188.39 L488.81 188.71 L490.17 189.02 L491.54 189.34 L492.90 189.66 L494.26 189.98 L495.63 190.30 L496.99 190.62 L498.35 190.94 L499.72 191.27 L501.08 191.59 L502.44 191.91 L503.81 192.24 L505.17 192.57 L506.53 192.89 L507.90 193.22 L509.26 193.55 L510.63 193.87 L511.99 194.20 L513.35 194.53 L514.72 194.86 L516.08 195.19 L517.44 195.53 L518.81 195.86 L520.17 196.19 L521.53 196.53 L522.90 196.86 L524.26 197.20 L525.63 197.53 L526.99 197.87 L528.35 198.21 L529.72 198.54 L531.08 198.88 L532.44 199.22 L533.81 199.56 L535.17 199.90 L536.53 200.24 L537.90 200.58 L539.26 200.93 L540.62 201.27 L541.99 201.61 L543.35 201.96 L544.72 202.30 L546.08 202.65 L547.44 202.99 L548.81 203.34 L550.17 203.69 L551.53 204.03 L552.90 204.38 L554.26 204.73 L555.62 205.08 L556.99 205.43 L558.35 205.78 L559.72 206.13 L561.08 206.48 L562.44 206.83 L563.81 207.19 L565.17 207.54 L566.53 207.89 L567.90 208.25 L569.26 208.60 L570.62 208.96 L571.99 209.32 L573.35 209.67 L574.71 210.03 L576.08 210.39 L577.44 210.75 L578.81 211.10 L580.17 211.46 L581.53 211.82 L582.90 212.18 L584.26 212.55 L585.62 212.91 L586.99 213.27 L588.35 213.63 L589.71 213.99 L591.08 214.36 L592.44 214.72 L593.81 215.09 L595.17 215.45 L596.53 215.82 L597.90 216.18 L599.26 216.55 L600.62 216.92 L601.99 217.28 L603.35 217.65 L604.71 218.02 L606.08 218.39 L607.44 218.76 L608.80 219.13 L610.17 219.50 L611.53 219.87 L612.90 220.24 L614.26 220.61 L615.62 220.99 L616.99 221.36 L618.35 221.73 L619.71 222.11 L621.08 222.48 L622.44 222.86 L623.80 223.23 L625.17 223.61 L626.53 223.98 L627.90 224.36 L629.26 224.74 L630.62 225.11 L631.99 225.49 L633.35 225.87 L634.71 226.25 L636.08 226.63 L637.44 227.01 L638.80 227.39 L640.17 227.77 L641.53 228.15 L642.89 228.53 L644.26 228.91 L645.62 229.29 L646.99 229.68 L648.35 230.06 L649.71 230.44 L651.08 230.83 L652.44 231.21 L653.80 231.60 L655.17 231.98 L656.53 232.37 L657.89 232.75 L659.26 233.14 L660.62 233.53 L661.99 233.92 L663.35 234.30 L664.71 234.69 L666.08 235.08 L667.44 235.47 L668.80 235.86 L670.17 236.25 L671.53 236.64 L672.89 237.03 L674.26 237.42 L675.62 237.81 L676.98 238.21 L678.35 238.60 L679.71 238.99 L681.08 239.38 L682.44 239.78 L683.80 240.17 L685.17 240.57 L686.53 240.96 L687.89 241.36 L689.26 241.75 L690.62 242.15 L691.98 242.54 L693.35 242.94 L694.71 243.34 L696.08 243.73 L697.44 244.13 L698.80 244.53 L700.17 244.93 L701.53 245.33 L702.89 245.73 L704.26 246.13 L705.62 246.53 L706.98 246.93 L708.35 247.33 L709.71 247.73 L711.07 248.13 L712.44 248.54 L713.80 248.94 L715.17 249.34 L716.53 249.74 L717.89 250.15 L719.26 250.55 L720.62 250.96 L721.98 251.36 L723.35 251.77 L724.71 252.17 L726.07 252.58 L727.44 252.98 L728.80 253.39 L730.17 253.80 L731.53 254.20 L732.89 254.61 L734.26 255.02 L735.62 255.43 L736.98 255.84 L738.35 256.24 L739.71 256.65 L741.07 257.06 L742.44 257.47 L743.80 257.88 L745.16 258.30 L746.53 258.71 L747.89 259.12 L749.26 259.53 L750.62 259.94 L751.98 260.35 L753.35 260.77 L754.71 261.18 L756.07 261.59 L757.44 262.01 L758.80 262.42 L760.16 262.84 L761.53 263.25 L762.89 263.67 L764.26 264.08 L765.62 264.50 L766.98 264.92 L768.35 265.33 L769.71 265.75 L771.07 266.17 L772.44 266.58 L773.80 267.00 L775.16 267.42 L776.53 267.84 L777.89 268.26 L779.25 268.68 L780.62 269.10 L781.98 269.52 L783.35 269.94 L784.71 270.36 L786.07 270.78 L787.44 271.20 L788.80 271.62" stroke="#ff00ff"/>
<path d="M107.00 34.20 L107.27 220.37 L107.55 399.19 L107.82 564.12 L108.09 671.00 L108.36 671.00 L108.64 671.00 L108.91 671.00 L109.18 671.00 L109.45 671.00 L109.73 671.00 L110.00 671.00 L110.27 671.00 L110.55 671.00 L110.82 671.00 L111.09 671.00 L111.36 671.00 L111.64 671.00 L111.91 671.00 L112.18 671.00 L112.45 671.00 L112.73 671.00 L113.00 671.00 L113.27 671.00 L113.55 671.00 L113.82 671.00 L114.09 671.00 L114.36 671.00 L114.64 671.00 L114.91 671.00 L115.18 671.00 L115.45 671.00 L115.73 671.00 L116.00 671.00 L116.27 671.00 L116.55 671.00 L116.82 671.00 L117.09 671.00 L117.36 671.00 L117.64 671.00 L117.91 671.00 L118.18 671.00 L118.45 661.32 L118.73 649.75 L119.00 638.59 L119.27 627.81 L119.55 617.41 L119.82 607.36 L120.09 597.64 L120.36 588.26 L120.64 579.18 L120.91 570.39 L121.18 561.89 L121.45 553.67 L121.73 545.70 L122.00 537.98 L122.27 530.49 L122.55 523.24 L122.82 516.20 L123.09 509.37 L123.36 502.74 L123.64 496.31 L123.91 490.06 L124.18 483.99 L124.45 478.08 L124.73 472.34 L125.00 466.76 L125.27 461.33 L125.54 456.05 L125.82 450.90 L126.09 445.89 L126.36 441.01 L126.64 436.26 L126.91 431.63 L127.18 427.11 L127.45 422.70 L127.73 418.41 L128.00 414.21 L128.27 410.12 L128.54 406.13 L128.82 402.23 L129.09 398.42 L129.36 394.69 L129.64 391.06 L129.91 387.50 L130.18 384.03 L130.45 380.63 L130.73 377.31 L131.00 374.06 L131.27 370.88 L131.54 367.76 L131.82 364.72 L132.09 361.74 L132.36 358.81 L132.64 355.95 L132.91 353.15 L133.18 350.41 L133.45 347.72 L133.73 345.08 L134.00 342.49 L134.27 339.96 L134.54 337.47 L134.82 335.04 L135.09 332.64 L135.36 330.30 L135.64 328.00 L135.91 325.74 L136.18 323.52 L136.45 321.34 L136.73 319.20 L137.00 317.10 L137.27 315.04 L137.54 313.02 L137.82 311.03 L138.09 309.07 L138.36 307.15 L138.64 305.26 L138.91 303.41 L139.18 301.58 L139.45 299.79 L139.73 298.02 L140.00 296.29 L140.27 294.58 L140.54 292.90 L140.82 291.25 L141.09 289.63 L141.36 288.03 L141.64 286.46 L141.91 284.91 L142.18 283.38 L142.45 281.88 L142.73 280.41 L143.00 278.95 L143.27 277.52 L143.54 276.11 L143.82 274.72 L144.09 273.35 L144.36 272.01 L144.64 270.68 L144.91 269.37 L145.18 268.08 L145.45 266.81 L145.73 265.56 L146.00 264.32 L146.27 263.11 L146.54 261.91 L146.82 260.72 L147.09 259.56 L147.36 258.41 L147.64 257.27 L147.91 256.16 L149.27 250.79 L150.64 245.77 L152.00 241.07 L153.36 236.67 L154.73 232.52 L156.09 228.62 L157.45 224.95 L158.82 221.48 L160.18 218.21 L161.54 215.11 L162.91 212.18 L164.27 209.41 L165.63 206.77 L167.00 204.27 L168.36 201.89 L169.73 199.64 L171.09 197.48 L172.45 195.44 L173.82 193.49 L175.18 191.62 L176.54 189.85 L177.91 188.15 L179.27 186.54 L180.63 184.99 L182.00 183.51 L183.36 182.10 L184.73 180.74 L186.09 179.45 L187.45 178.21 L188.82 177.02 L190.18 175.88 L191.54 174.79 L192.91 173.75 L194.27 172.75 L195.63 171.79 L197.00 170.86 L198.36 169.98 L199.72 169.13 L201.09 168.32 L202.45 167.54 L203.82 166.79 L205.18 166.07 L206.54 165.38 L207.91 164.72 L209.27 164.09 L210.63 163.48 L212.00 162.89 L213.36 162.33 L214.72 161.79 L216.09 161.28 L217.45 160.79 L218.82 160.31 L220.18 159.86 L221.54 159.42 L222.91 159.01 L224.27 158.61 L225.63 158.23 L227.00 157.86 L228.36 157.51 L229.72 157.18 L231.09 156.86 L232.45 156.56 L233.81 156.27 L235.18 156.00 L236.54 155.73 L237.91 155.48 L239.27 155.25 L240.63 155.02 L242.00 154.81 L243.36 154.61 L244.72 154.42 L246.09 154.24 L247.45 154.07 L248.81 153.91 L250.18 153.76 L251.54 153.62 L252.91 153.49 L254.27 153.37 L255.63 153.25 L257.00 153.15 L258.36 153.05 L259.72 152.97 L261.09 152.89 L262.45 152.82 L263.81 152.75 L265.18 152.69 L266.54 152.64 L267.90 152.60 L269.27 152.57 L270.63 152.54 L272.00 152.51 L273.36 152.50 L274.72 152.49 L276.09 152.48 L277.45 152.49 L278.81 152.49 L280.18 152.51 L281.54 152.53 L282.90 152.55 L284.27 152.58 L285.63 152.61 L287.00 152.65 L288.36 152.70 L289.72 152.75 L291.09 152.80 L292.45 152.86 L293.81 152.92 L295.18 152.99 L296.54 153.07 L297.90 153.14 L299.27 153.22 L300.63 153.31 L301.99 153.40 L303.36 153.49 L304.72 153.59 L306.09 153.69 L307.45 153.79 L308.81 153.90 L310.18 154.01 L311.54 154.13 L312.90 154.24 L314.27 154.37 L315.63 154.49 L316.99 154.62 L318.36 154.75 L319.72 154.89 L321.09 155.03 L322.45 155.17 L323.81 155.31 L325.18 155.46 L326.54 155.61 L327.90 155.76 L329.27 155.92 L330.63 156.07 L331.99 156.24 L333.36 156.40 L334.72 156.57 L336.08 156.73 L337.45 156.91 L338.81 157.08 L340.18 157.26 L341.54 157.43 L342.90 157.62 L344.27 157.80 L345.63 157.99 L346.99 158.17 L348.36 158.36 L349.72 158.56 L351.08 158.75 L352.45 158.95 L353.81 159.15 L355.18 159.35 L356.54 159.55 L357.90 159.76 L359.27 159.96 L360.63 160.17 L361.99 160.38 L363.36 160.60 L364.72 160.81 L366.08 161.03 L367.45 161.25 L368.81 161.47 L370.17 161.69 L371.54 161.91 L372.90 162.14 L374.27 162.37 L375.63 162.60 L376.99 162.83 L378.36 163.06 L379.72 163.29 L381.08 163.53 L382.45 163.76 L383.81 164.00 L385.17 164.24 L386.54 164.49 L387.90 164.73 L389.27 164.97 L390.63 165.22 L391.99 165.47 L393.36 165.72 L394.72 165.97 L396.08 166.22 L397.45 166.47 L398.81 166.73 L400.17 166.98 L401.54 167.24 L402.90 167.50 L404.26 167.76 L405.63 168.02 L406.99 168.28 L408.36 168.55 L409.72 168.81 L411.08 169.08 L412.45 169.35 L413.81 169.62 L415.17 169.89 L416.54 170.16 L417.90 170.43 L419.26 170.71 L420.63 170.98 L421.99 171.26 L423.36 171.53 L424.72 171.81 L426.08 172.09 L427.45 172.37 L428.81 172.65 L430.17 172.94 L431.54 173.22 L432.90 173.50 L434.26 173.79 L435.63 174.08 L436.99 174.36 L438.35 174.65 L439.72 174.94 L441.08 175.23 L442.45 175.53 L443.81 175.82 L445.17 176.11 L446.54 176.41 L447.90 176.70 L449.26 177.00 L450.63 177.30 L451.99 177.60 L453.35 177.90 L454.72 178.20 L456.08 178.50 L457.45 178.80 L458.81 179.10 L460.17 179.41 L461.54 179.71 L462.90 180.02 L464.26 180.33 L465.63 180.63 L466.99 180.94 L468.35 181.25 L469.72 181.56 L471.08 181.87 L472.44 182.18 L473.81 182.50 L475.17 182.81 L476.54 183.12 L477.90 183.44 L479.26 183.75 L480.63 184.07 L481.99 184.39 L483.35 184.71 L484.72 185.03 L486.08 185.34 L487.44 185.67 L488.81 185.99 L490.17 186.31 L491.54 186.63 L492.90 186.95 L494.26 187.28 L495.63 187.60 L496.99 187.93 L498.35 188.26 L499.72 188.58 L501.08 188.91 L502.44 189.24 L503.81 189.57 L505.17 189.90 L506.53 190.23 L507.90 190.56 L509.26 190.89 L510.63 191.22 L511.99 191.56 L513.35 191.89 L514.72 192.23 L516.08 192.56 L517.44 192.90 L518.81 193.23 L520.17 193.57 L521.53 193.91 L522.90 194.25 L524.26 194.59 L525.63 194.92 L526.99 195.27 L528.35 195.61 L529.72 195.95 L531.08 196.29 L532.44 196.63 L533.81 196.98 L535.17 197.32 L536.53 197.67 L537.90 198.01 L539.26 198.36 L540.62 198.70 L541.99 199.05 L543.35 199.40 L544.72 199.75 L546.08 200.09 L547.44 200.44 L548.81 200.79 L550.17 201.14 L551.53 201.50 L552.90 201.85 L554.26 202.20 L555.62 202.55 L556.99 202.91 L558.35 203.26 L559.72 203.61 L561.08 203.97 L562.44 204.32 L563.81 204.68 L565.17 205.04 L566.53 205.39 L567.90 205.75 L569.26 206.11 L570.62 206.47 L571.99 206.83 L573.35 207.19 L574.71 207.55 L576.08 207.91 L577.44 208.27 L578.81 208.63 L580.17 208.99 L581.53 209.36 L582.90 209.72 L584.26 210.08 L585.62 210.45 L586.99 210.81 L588.35 211.18 L589.71 211.55 L591.08 211.91 L592.44 212.28 L593.81 212.65 L595.17 213.01 L596.53 213.38 L597.90 213.75 L599.26 214.12 L600.62 214.49 L601.99 214.86 L603.35 215.23 L604.71 215.60 L606.08 215.97 L607.44 216.35 L608.80 216.72 L610.17 217.09 L611.53 217.47 L612.90 217.84 L614.26 218.22 L615.62 218.59 L616.99 218.97 L618.35 219.34 L619.71 219.72 L621.08 220.09 L622.44 220.47 L623.80 220.85 L625.17 221.23 L626.53 221.61 L627.90 221.99 L629.26 222.36 L630.62 222.74 L631.99 223.13 L633.35 223.51 L634.71 223.89 L636.08 224.27 L637.44 224.65 L638.80 225.03 L640.17 225.42 L641.53 225.80 L642.89 226.18 L644.26 226.57 L645.62 226.95 L646.99 227.34 L648.35 227.72 L649.71 228.11 L651.08 228.50 L652.44 228.88 L653.80 229.27 L655.17 229.66 L656.53 230.05 L657.89 230.43 L659.26 230.82 L660.62 231.21 L661.99 231.60 L663.35 231.99 L664.71 232.38 L666.08 232.77 L667.44 233.16 L668.80 233.56 L670.17 233.95 L671.53 234.34 L672.89 234.73 L674.26 235.13 L675.62 235.52 L676.98 235.91 L678.35 236.31 L679.71 236.70 L681.08 237.10 L682.44 237.50 L683.80 237.89 L685.17 238.29 L686.53 238.68 L687.89 239.08 L689.26 239.48 L690.62 239.88 L691.98 240.28 L693.35 240.67 L694.71 241.07 L696.08 241.47 L697.44 241.87 L698.80 242.27 L700.17 242.67 L701.53 243.07 L702.89 243.48 L704.26 243.88 L705.62 244.28 L706.98 244.68 L708.35 245.09 L709.71 245.49 L711.07 245.89 L712.44 246.30 L713.80 246.70 L715.17 247.11 L716.53 247.51 L717.89 247.92 L719.26 248.32 L720.62 248.73 L721.98 249.13 L723.35 249.54 L724.71 249.95 L726.07 250.36 L727.44 250.76 L728.80 251.17 L730.17 251.58 L731.53 251.99 L732.89 252.40 L734.26 252.81 L735.62 253.22 L736.98 253.63 L738.35 254.04 L739.71 254.45 L741.07 254.86 L742.44 255.27 L743.80 255.69 L745.16 256.10 L746.53 256.51 L747.89 256.93 L749.26 257.34 L750.62 257.75 L751.98 258.17 L753.35 258.58 L754.71 259.00 L756.07 259.41 L757.44 259.83 L758.80 260.24 L760.16 260.66 L761.53 261.08 L762.89 261.49 L764.26 261.91 L765.62 262.33 L766.98 262.75 L768.35 263.16 L769.71 263.58 L771.07 264.00 L772.44 264.42 L773.80 264.84 L775.16 265.26 L776.53 265.68 L777.89 266.10 L779.25 266.52 L780.62 266.94 L781.98 267.36 L783.35 267.79 L784.71 268.21 L786.07 268.63 L787.44 269.05 L788.80 269.48" stroke="#ff00ff" stroke-dasharray="11.6 8.6"/>
<path d="M107.00 34.20 L107.27 248.13 L107.55 453.57 L107.82 643.00 L108.09 671.00 L108.36 671.00 L108.64 671.00 L108.91 671.00 L109.18 671.00 L109.45 671.00 L109.73 671.00 L110.00 671.00 L110.27 671.00 L110.55 671.00 L110.82 671.00 L111.09 671.00 L111.36 671.00 L111.64 671.00 L111.91 671.00 L112.18 671.00 L112.45 671.00 L112.73 671.00 L113.00 671.00 L113.27 671.00 L113.55 671.00 L113.82 671.00 L114.09 671.00 L114.36 671.00 L114.64 671.00 L114.91 671.00 L115.18 671.00 L115.45 671.00 L115.73 671.00 L116.00 671.00 L116.27 671.00 L116.55 671.00 L116.82 671.00 L117.09 671.00 L117.36 671.00 L117.64 671.00 L117.91 671.00 L118.18 671.00 L118.45 671.00 L118.73 671.00 L119.00 671.00 L119.27 671.00 L119.55 671.00 L119.82 671.00 L120.09 671.00 L120.36 667.32 L120.64 656.87 L120.91 646.76 L121.18 636.98 L121.45 627.50 L121.73 618.33 L122.00 609.44 L122.27 600.83 L122.55 592.48 L122.82 584.38 L123.09 576.52 L123.36 568.89 L123.64 561.48 L123.91 554.29 L124.18 547.30 L124.45 540.50 L124.73 533.90 L125.00 527.47 L125.27 521.22 L125.54 515.13 L125.82 509.21 L126.09 503.44 L126.36 497.83 L126.64 492.35 L126.91 487.01 L127.18 481.81 L127.45 476.74 L127.73 471.79 L128.00 466.96 L128.27 462.25 L128.54 457.65 L128.82 453.16 L129.09 448.77 L129.36 444.48 L129.64 440.29 L129.91 436.20 L130.18 432.20 L130.45 428.28 L130.73 424.45 L131.00 420.71 L131.27 417.04 L131.54 413.46 L131.82 409.95 L132.09 406.51 L132.36 403.15 L132.64 399.85 L132.91 396.62 L133.18 393.46 L133.45 390.35 L133.73 387.31 L134.00 384.33 L134.27 381.41 L134.54 378.55 L134.82 375.74 L135.09 372.98 L135.36 370.27 L135.64 367.62 L135.91 365.01 L136.18 362.46 L136.45 359.95 L136.73 357.48 L137.00 355.06 L137.27 352.68 L137.54 350.34 L137.82 348.05 L138.09 345.79 L138.36 343.58 L138.64 341.40 L138.91 339.26 L139.18 337.15 L139.45 335.08 L139.73 333.05 L140.00 331.04 L140.27 329.07 L140.54 327.14 L140.82 325.23 L141.09 323.36 L141.36 321.51 L141.64 319.69 L141.91 317.91 L142.18 316.15 L142.45 314.41 L142.73 312.71 L143.00 311.03 L143.27 309.37 L143.54 307.74 L143.82 306.14 L144.09 304.56 L144.36 303.00 L144.64 301.47 L144.91 299.95 L145.18 298.46 L145.45 297.00 L145.73 295.55 L146.00 294.12 L146.27 292.71 L146.54 291.33 L146.82 289.96 L147.09 288.61 L147.36 287.28 L147.64 285.97 L147.91 284.68 L149.27 278.47 L150.64 272.66 L152.00 267.22 L153.36 262.11 L154.73 257.31 L156.09 252.78 L157.45 248.52 L158.82 244.50 L160.18 240.69 L161.54 237.09 L162.91 233.68 L164.27 230.45 L165.63 227.38 L167.00 224.46 L168.36 221.69 L169.73 219.05 L171.09 216.53 L172.45 214.14 L173.82 211.85 L175.18 209.67 L176.54 207.59 L177.91 205.60 L179.27 203.69 L180.63 201.87 L182.00 200.13 L183.36 198.46 L184.73 196.86 L186.09 195.33 L187.45 193.86 L188.82 192.45 L190.18 191.10 L191.54 189.80 L192.91 188.56 L194.27 187.36 L195.63 186.21 L197.00 185.11 L198.36 184.05 L199.72 183.03 L201.09 182.05 L202.45 181.11 L203.82 180.20 L205.18 179.33 L206.54 178.50 L207.91 177.69 L209.27 176.92 L210.63 176.17 L212.00 175.45 L213.36 174.76 L214.72 174.10 L216.09 173.46 L217.45 172.85 L218.82 172.26 L220.18 171.69 L221.54 171.15 L222.91 170.62 L224.27 170.12 L225.63 169.63 L227.00 169.17 L228.36 168.72 L229.72 168.29 L231.09 167.88 L232.45 167.48 L233.81 167.11 L235.18 166.74 L236.54 166.39 L237.91 166.06 L239.27 165.74 L240.63 165.44 L242.00 165.14 L243.36 164.86 L244.72 164.60 L246.09 164.34 L247.45 164.10 L248.81 163.87 L250.18 163.65 L251.54 163.44 L252.91 163.24 L254.27 163.06 L255.63 162.88 L257.00 162.71 L258.36 162.55 L259.72 162.40 L261.09 162.26 L262.45 162.13 L263.81 162.01 L265.18 161.90 L266.54 161.79 L267.90 161.69 L269.27 161.60 L270.63 161.52 L272.00 161.45 L273.36 161.38 L274.72 161.32 L276.09 161.26 L277.45 161.22 L278.81 161.18 L280.18 161.14 L281.54 161.12 L282.90 161.09 L284.27 161.08 L285.63 161.07 L287.00 161.07 L288.36 161.07 L289.72 161.07 L291.09 161.09 L292.45 161.11 L293.81 161.13 L295.18 161.16 L296.54 161.19 L297.90 161.23 L299.27 161.27 L300.63 161.32 L301.99 161.37 L303.36 161.43 L304.72 161.49 L306.09 161.55 L307.45 161.62 L308.81 161.70 L310.18 161.77 L311.54 161.85 L312.90 161.94 L314.27 162.03 L315.63 162.12 L316.99 162.22 L318.36 162.32 L319.72 162.42 L321.09 162.53 L322.45 162.64 L323.81 162.76 L325.18 162.87 L326.54 163.00 L327.90 163.12 L329.27 163.25 L330.63 163.38 L331.99 163.51 L333.36 163.65 L334.72 163.79 L336.08 163.93 L337.45 164.08 L338.81 164.22 L340.18 164.37 L341.54 164.53 L342.90 164.68 L344.27 164.84 L345.63 165.00 L346.99 165.17 L348.36 165.33 L349.72 165.50 L351.08 165.68 L352.45 165.85 L353.81 166.03 L355.18 166.20 L356.54 166.38 L357.90 166.57 L359.27 166.75 L360.63 166.94 L361.99 167.13 L363.36 167.32 L364.72 167.52 L366.08 167.71 L367.45 167.91 L368.81 168.11 L370.17 168.31 L371.54 168.52 L372.90 168.72 L374.27 168.93 L375.63 169.14 L376.99 169.35 L378.36 169.57 L379.72 169.78 L381.08 170.00 L382.45 170.22 L383.81 170.44 L385.17 170.66 L386.54 170.89 L387.90 171.11 L389.27 171.34 L390.63 171.57 L391.99 171.80 L393.36 172.03 L394.72 172.27 L396.08 172.50 L397.45 172.74 L398.81 172.98 L400.17 173.22 L401.54 173.46 L402.90 173.70 L404.26 173.95 L405.63 174.19 L406.99 174.44 L408.36 174.69 L409.72 174.94 L411.08 175.19 L412.45 175.44 L413.81 175.70 L415.17 175.95 L416.54 176.21 L417.90 176.47 L419.26 176.73 L420.63 176.99 L421.99 177.25 L423.36 177.52 L424.72 177.78 L426.08 178.05 L427.45 178.31 L428.81 178.58 L430.17 178.85 L431.54 179.12 L432.90 179.39 L434.26 179.67 L435.63 179.94 L436.99 180.22 L438.35 180.49 L439.72 180.77 L441.08 181.05 L442.45 181.33 L443.81 181.61 L445.17 181.89 L446.54 182.18 L447.90 182.46 L449.26 182.75 L450.63 183.03 L451.99 183.32 L453.35 183.61 L454.72 183.90 L456.08 184.19 L457.45 184.48 L458.81 184.77 L460.17 185.06 L461.54 185.36 L462.90 185.65 L464.26 185.95 L465.63 186.24 L466.99 186.54 L468.35 186.84 L469.72 187.14 L471.08 187.44 L472.44 187.74 L473.81 188.05 L475.17 188.35 L476.54 188.65 L477.90 188.96 L479.26 189.26 L480.63 189.57 L481.99 189.88 L483.35 190.19 L484.72 190.50 L486.08 190.81 L487.44 191.12 L488.81 191.43 L490.17 191.74 L491.54 192.06 L492.90 192.37 L494.26 192.68 L495.63 193.00 L496.99 193.32 L498.35 193.63 L499.72 193.95 L501.08 194.27 L502.44 194.59 L503.81 194.91 L505.17 195.23 L506.53 195.55 L507.90 195.88 L509.26 196.20 L510.63 196.53 L511.99 196.85 L513.35 197.18 L514.72 197.50 L516.08 197.83 L517.44 198.16 L518.81 198.49 L520.17 198.81 L521.53 199.14 L522.90 199.48 L524.26 199.81 L525.63 200.14 L526.99 200.47 L528.35 200.80 L529.72 201.14 L531.08 201.47 L532.44 201.81 L533.81 202.14 L535.17 202.48 L536.53 202.82 L537.90 203.16 L539.26 203.49 L540.62 203.83 L541.99 204.17 L543.35 204.51 L544.72 204.86 L546.08 205.20 L547.44 205.54 L548.81 205.88 L550.17 206.23 L551.53 206.57 L552.90 206.92 L554.26 207.26 L555.62 207.61 L556.99 207.95 L558.35 208.30 L559.72 208.65 L561.08 209.00 L562.44 209.35 L563.81 209.69 L565.17 210.05 L566.53 210.40 L567.90 210.75 L569.26 211.10 L570.62 211.45 L571.99 211.80 L573.35 212.16 L574.71 212.51 L576.08 212.87 L577.44 213.22 L578.81 213.58 L580.17 213.93 L581.53 214.29 L582.90 214.65 L584.26 215.01 L585.62 215.36 L586.99 215.72 L588.35 216.08 L589.71 216.44 L591.08 216.80 L592.44 217.17 L593.81 217.53 L595.17 217.89 L596.53 218.25 L597.90 218.61 L599.26 218.98 L600.62 219.34 L601.99 219.71 L603.35 220.07 L604.71 220.44 L606.08 220.80 L607.44 221.17 L608.80 221.54 L610.17 221.91 L611.53 222.27 L612.90 222.64 L614.26 223.01 L615.62 223.38 L616.99 223.75 L618.35 224.12 L619.71 224.49 L621.08 224.87 L622.44 225.24 L623.80 225.61 L625.17 225.98 L626.53 226.36 L627.90 226.73 L629.26 227.11 L630.62 227.48 L631.99 227.86 L633.35 228.23 L634.71 228.61 L636.08 228.99 L637.44 229.36 L638.80 229.74 L640.17 230.12 L641.53 230.50 L642.89 230.88 L644.26 231.26 L645.62 231.64 L646.99 232.02 L648.35 232.40 L649.71 232.78 L651.08 233.16 L652.44 233.54 L653.80 233.93 L655.17 234.31 L656.53 234.69 L657.89 235.08 L659.26 235.46 L660.62 235.85 L661.99 236.23 L663.35 236.62 L664.71 237.00 L666.08 237.39 L667.44 237.78 L668.80 238.16 L670.17 238.55 L671.53 238.94 L672.89 239.33 L674.26 239.72 L675.62 240.11 L676.98 240.50 L678.35 240.89 L679.71 241.28 L681.08 241.67 L682.44 242.06 L683.80 242.45 L685.17 242.84 L686.53 243.24 L687.89 243.63 L689.26 244.02 L690.62 244.42 L691.98 244.81 L693.35 245.21 L694.71 245.60 L696.08 246.00 L697.44 246.39 L698.80 246.79 L700.17 247.19 L701.53 247.58 L702.89 247.98 L704.26 248.38 L705.62 248.78 L706.98 249.18 L708.35 249.57 L709.71 249.97 L711.07 250.37 L712.44 250.77 L713.80 251.17 L715.17 251.58 L716.53 251.98 L717.89 252.38 L719.26 252.78 L720.62 253.18 L721.98 253.59 L723.35 253.99 L724.71 254.39 L726.07 254.80 L727.44 255.20 L728.80 255.61 L730.17 256.01 L731.53 256.42 L732.89 256.82 L734.26 257.23 L735.62 257.64 L736.98 258.04 L738.35 258.45 L739.71 258.86 L741.07 259.27 L742.44 259.67 L743.80 260.08 L745.16 260.49 L746.53 260.90 L747.89 261.31 L749.26 261.72 L750.62 262.13 L751.98 262.54 L753.35 262.95 L754.71 263.37 L756.07 263.78 L757.44 264.19 L758.80 264.60 L760.16 265.02 L761.53 265.43 L762.89 265.84 L764.26 266.26 L765.62 266.67 L766.98 267.09 L768.35 267.50 L769.71 267.92 L771.07 268.33 L772.44 268.75 L773.80 269.16 L775.16 269.58 L776.53 270.00 L777.89 270.42 L779.25 270.83 L780.62 271.25 L781.98 271.67 L783.35 272.09 L784.71 272.51 L786.07 272.93 L787.44 273.35 L788.80 273.77" stroke="#ff00ff" stroke-dasharray="11.6 8.6"/>
</g>
<g clip-path="url(#c2)" fill="none" stroke-width="1.70" stroke-linejoin="round">
<path d="M107.00 509.00 L113.82 545.31 L120.64 541.61 L127.45 534.51 L134.27 529.37 L141.09 525.81 L147.91 523.25 L154.73 521.35 L161.54 519.89 L168.36 518.73 L175.18 517.79 L182.00 517.02 L188.82 516.37 L195.63 515.81 L202.45 515.34 L209.27 514.93 L216.09 514.56 L222.91 514.24 L229.72 513.96 L236.54 513.70 L243.36 513.47 L250.18 513.26 L257.00 513.07 L263.81 512.90 L270.63 512.74 L277.45 512.59 L284.27 512.46 L291.09 512.33 L297.90 512.21 L304.72 512.11 L311.54 512.00 L318.36 511.91 L325.18 511.82 L331.99 511.74 L338.81 511.66 L345.63 511.58 L352.45 511.51 L359.27 511.45 L366.08 511.39 L372.90 511.33 L379.72 511.27 L386.54 511.22 L393.36 511.16 L400.17 511.12 L406.99 511.07 L413.81 511.02 L420.63 510.98 L427.45 510.94 L434.26 510.90 L441.08 510.86 L447.90 510.83 L454.72 510.79 L461.54 510.76 L468.35 510.73 L475.17 510.70 L481.99 510.67 L488.81 510.64 L495.63 510.61 L502.44 510.58 L509.26 510.56 L516.08 510.53 L522.90 510.51 L529.72 510.49 L536.53 510.46 L543.35 510.44 L550.17 510.42 L556.99 510.40 L563.81 510.38 L570.62 510.36 L577.44 510.34 L584.26 510.32 L591.08 510.31 L597.90 510.29 L604.71 510.27 L611.53 510.25 L618.35 510.24 L625.17 510.22 L631.99 510.21 L638.80 510.19 L645.62 510.18 L652.44 510.17 L659.26 510.15 L666.08 510.14 L672.89 510.13 L679.71 510.11 L686.53 510.10 L693.35 510.09 L700.17 510.08 L706.98 510.06 L713.80 510.05 L720.62 510.04 L727.44 510.03 L734.26 510.02 L741.07 510.01 L747.89 510.00 L754.71 509.99 L761.53 509.98 L768.35 509.97 L775.16 509.96 L781.98 509.95 L788.80 509.94" stroke="#ff0000"/>
<path d="M107.00 509.00 L113.82 494.90 L120.64 496.36 L127.45 499.12 L134.27 501.12 L141.09 502.51 L147.91 503.50 L154.73 504.25 L161.54 504.81 L168.36 505.27 L175.18 505.63 L182.00 505.93 L188.82 506.19 L195.63 506.40 L202.45 506.59 L209.27 506.75 L216.09 506.89 L222.91 507.01 L229.72 507.12 L236.54 507.22 L243.36 507.31 L250.18 507.39 L257.00 507.47 L263.81 507.53 L270.63 507.60 L277.45 507.65 L284.27 507.71 L291.09 507.76 L297.90 507.80 L304.72 507.84 L311.54 507.88 L318.36 507.92 L325.18 507.95 L331.99 507.99 L338.81 508.02 L345.63 508.05 L352.45 508.07 L359.27 508.10 L366.08 508.12 L372.90 508.15 L379.72 508.17 L386.54 508.19 L393.36 508.21 L400.17 508.23 L406.99 508.25 L413.81 508.26 L420.63 508.28 L427.45 508.30 L434.26 508.31 L441.08 508.33 L447.90 508.34 L454.72 508.36 L461.54 508.37 L468.35 508.38 L475.17 508.39 L481.99 508.40 L488.81 508.42 L495.63 508.43 L502.44 508.44 L509.26 508.45 L516.08 508.46 L522.90 508.47 L529.72 508.48 L536.53 508.48 L543.35 508.49 L550.17 508.50 L556.99 508.51 L563.81 508.52 L570.62 508.52 L577.44 508.53 L584.26 508.54 L591.08 508.55 L597.90 508.55 L604.71 508.56 L611.53 508.57 L618.35 508.57 L625.17 508.58 L631.99 508.58 L638.80 508.59 L645.62 508.60 L652.44 508.60 L659.26 508.61 L666.08 508.61 L672.89 508.62 L679.71 508.62 L686.53 508.63 L693.35 508.63 L700.17 508.64 L706.98 508.64 L713.80 508.64 L720.62 508.65 L727.44 508.65 L734.26 508.66 L741.07 508.66 L747.89 508.67 L754.71 508.67 L761.53 508.67 L768.35 508.68 L775.16 508.68 L781.98 508.68 L788.80 508.69" stroke="#ff0000" stroke-dasharray="11.6 8.6"/>
<path d="M107.00 509.00 L113.82 595.72 L120.64 586.86 L127.45 569.89 L134.27 557.63 L141.09 549.11 L147.91 543.01 L154.73 538.46 L161.54 534.96 L168.36 532.19 L175.18 529.95 L182.00 528.10 L188.82 526.55 L195.63 525.23 L202.45 524.09 L209.27 523.11 L216.09 522.24 L222.91 521.47 L229.72 520.79 L236.54 520.18 L243.36 519.63 L250.18 519.13 L257.00 518.68 L263.81 518.26 L270.63 517.88 L277.45 517.53 L284.27 517.21 L291.09 516.91 L297.90 516.63 L304.72 516.37 L311.54 516.13 L318.36 515.90 L325.18 515.69 L331.99 515.49 L338.81 515.30 L345.63 515.12 L352.45 514.96 L359.27 514.80 L366.08 514.65 L372.90 514.51 L379.72 514.37 L386.54 514.24 L393.36 514.12 L400.17 514.00 L406.99 513.89 L413.81 513.78 L420.63 513.68 L427.45 513.58 L434.26 513.49 L441.08 513.40 L447.90 513.31 L454.72 513.23 L461.54 513.15 L468.35 513.07 L475.17 513.00 L481.99 512.93 L488.81 512.86 L495.63 512.80 L502.44 512.73 L509.26 512.67 L516.08 512.61 L522.90 512.55 L529.72 512.50 L536.53 512.44 L543.35 512.39 L550.17 512.34 L556.99 512.29 L563.81 512.24 L570.62 512.20 L577.44 512.15 L584.26 512.11 L591.08 512.06 L597.90 512.02 L604.71 511.98 L611.53 511.94 L618.35 511.91 L625.17 511.87 L631.99 511.83 L638.80 511.80 L645.62 511.76 L652.44 511.73 L659.26 511.70 L666.08 511.67 L672.89 511.63 L679.71 511.60 L686.53 511.57 L693.35 511.55 L700.17 511.52 L706.98 511.49 L713.80 511.46 L720.62 511.44 L727.44 511.41 L734.26 511.39 L741.07 511.36 L747.89 511.34 L754.71 511.31 L761.53 511.29 L768.35 511.27 L775.16 511.24 L781.98 511.22 L788.80 511.20" stroke="#ff0000" stroke-dasharray="11.6 8.6"/>
<path d="M107.00 509.00 L113.82 520.96 L120.64 531.14 L127.45 538.54 L134.27 543.10 L141.09 545.36 L147.91 546.00 L154.73 545.59 L161.54 544.57 L168.36 543.23 L175.18 541.74 L182.00 540.22 L188.82 538.73 L195.63 537.30 L202.45 535.94 L209.27 534.68 L216.09 533.50 L222.91 532.40 L229.72 531.39 L236.54 530.44 L243.36 529.56 L250.18 528.75 L257.00 527.99 L263.81 527.29 L270.63 526.63 L277.45 526.01 L284.27 525.44 L291.09 524.90 L297.90 524.39 L304.72 523.91 L311.54 523.46 L318.36 523.04 L325.18 522.64 L331.99 522.26 L338.81 521.90 L345.63 521.56 L352.45 521.24 L359.27 520.94 L366.08 520.65 L372.90 520.37 L379.72 520.10 L386.54 519.85 L393.36 519.61 L400.17 519.38 L406.99 519.16 L413.81 518.95 L420.63 518.74 L427.45 518.55 L434.26 518.36 L441.08 518.18 L447.90 518.01 L454.72 517.85 L461.54 517.69 L468.35 517.53 L475.17 517.38 L481.99 517.24 L488.81 517.10 L495.63 516.97 L502.44 516.84 L509.26 516.71 L516.08 516.59 L522.90 516.47 L529.72 516.36 L536.53 516.25 L543.35 516.14 L550.17 516.04 L556.99 515.94 L563.81 515.84 L570.62 515.75 L577.44 515.66 L584.26 515.57 L591.08 515.48 L597.90 515.40 L604.71 515.31 L611.53 515.23 L618.35 515.15 L625.17 515.08 L631.99 515.00 L638.80 514.93 L645.62 514.86 L652.44 514.79 L659.26 514.73 L666.08 514.66 L672.89 514.60 L679.71 514.53 L686.53 514.47 L693.35 514.41 L700.17 514.36 L706.98 514.30 L713.80 514.24 L720.62 514.19 L727.44 514.14 L734.26 514.08 L741.07 514.03 L747.89 513.98 L754.71 513.94 L761.53 513.89 L768.35 513.84 L775.16 513.79 L781.98 513.75 L788.80 513.71" stroke="#00ff00"/>
<path d="M107.00 509.00 L113.82 517.64 L120.64 525.00 L127.45 530.34 L134.27 533.65 L141.09 535.28 L147.91 535.75 L154.73 535.45 L161.54 534.72 L168.36 533.75 L175.18 532.68 L182.00 531.59 L188.82 530.51 L195.63 529.48 L202.45 528.50 L209.27 527.59 L216.09 526.74 L222.91 525.95 L229.72 525.21 L236.54 524.53 L243.36 523.90 L250.18 523.31 L257.00 522.76 L263.81 522.25 L270.63 521.78 L277.45 521.33 L284.27 520.92 L291.09 520.53 L297.90 520.16 L304.72 519.82 L311.54 519.49 L318.36 519.19 L325.18 518.90 L331.99 518.63 L338.81 518.37 L345.63 518.12 L352.45 517.89 L359.27 517.67 L366.08 517.46 L372.90 517.26 L379.72 517.07 L386.54 516.89 L393.36 516.71 L400.17 516.55 L406.99 516.39 L413.81 516.24 L420.63 516.09 L427.45 515.95 L434.26 515.81 L441.08 515.68 L447.90 515.56 L454.72 515.44 L461.54 515.32 L468.35 515.21 L475.17 515.11 L481.99 515.00 L488.81 514.90 L495.63 514.81 L502.44 514.71 L509.26 514.62 L516.08 514.53 L522.90 514.45 L529.72 514.37 L536.53 514.29 L543.35 514.21 L550.17 514.14 L556.99 514.07 L563.81 513.99 L570.62 513.93 L577.44 513.86 L584.26 513.80 L591.08 513.73 L597.90 513.67 L604.71 513.61 L611.53 513.55 L618.35 513.50 L625.17 513.44 L631.99 513.39 L638.80 513.34 L645.62 513.29 L652.44 513.24 L659.26 513.19 L666.08 513.14 L672.89 513.10 L679.71 513.05 L686.53 513.01 L693.35 512.96 L700.17 512.92 L706.98 512.88 L713.80 512.84 L720.62 512.80 L727.44 512.76 L734.26 512.73 L741.07 512.69 L747.89 512.65 L754.71 512.62 L761.53 512.58 L768.35 512.55 L775.16 512.52 L781.98 512.49 L788.80 512.45" stroke="#00ff00" stroke-dasharray="11.6 8.6"/>
<path d="M107.00 509.00 L113.82 524.29 L120.64 537.29 L127.45 546.73 L134.27 552.56 L141.09 555.45 L147.91 556.25 L154.73 555.72 L161.54 554.42 L168.36 552.70 L175.18 550.80 L182.00 548.85 L188.82 546.94 L195.63 545.11 L202.45 543.39 L209.27 541.77 L216.09 540.26 L222.91 538.86 L229.72 537.56 L236.54 536.35 L243.36 535.23 L250.18 534.19 L257.00 533.22 L263.81 532.32 L270.63 531.48 L277.45 530.69 L284.27 529.95 L291.09 529.26 L297.90 528.61 L304.72 528.00 L311.54 527.43 L318.36 526.89 L325.18 526.38 L331.99 525.90 L338.81 525.44 L345.63 525.00 L352.45 524.59 L359.27 524.20 L366.08 523.83 L372.90 523.48 L379.72 523.14 L386.54 522.81 L393.36 522.51 L400.17 522.21 L406.99 521.93 L413.81 521.66 L420.63 521.40 L427.45 521.15 L434.26 520.91 L441.08 520.68 L447.90 520.46 L454.72 520.25 L461.54 520.05 L468.35 519.85 L475.17 519.66 L481.99 519.48 L488.81 519.30 L495.63 519.13 L502.44 518.96 L509.26 518.80 L516.08 518.65 L522.90 518.50 L529.72 518.35 L536.53 518.21 L543.35 518.08 L550.17 517.94 L556.99 517.82 L563.81 517.69 L570.62 517.57 L577.44 517.45 L584.26 517.34 L591.08 517.23 L597.90 517.12 L604.71 517.01 L611.53 516.91 L618.35 516.81 L625.17 516.71 L631.99 516.62 L638.80 516.53 L645.62 516.44 L652.44 516.35 L659.26 516.26 L666.08 516.18 L672.89 516.10 L679.71 516.02 L686.53 515.94 L693.35 515.86 L700.17 515.79 L706.98 515.72 L713.80 515.65 L720.62 515.58 L727.44 515.51 L734.26 515.44 L741.07 515.38 L747.89 515.31 L754.71 515.25 L761.53 515.19 L768.35 515.13 L775.16 515.07 L781.98 515.01 L788.80 514.96" stroke="#00ff00" stroke-dasharray="11.6 8.6"/>
<path d="M107.00 509.00 L113.82 515.11 L120.64 520.97 L127.45 526.37 L134.27 531.15 L141.09 535.23 L147.91 538.56 L154.73 541.18 L161.54 543.15 L168.36 544.54 L175.18 545.43 L182.00 545.92 L188.82 546.09 L195.63 545.99 L202.45 545.70 L209.27 545.26 L216.09 544.70 L222.91 544.07 L229.72 543.38 L236.54 542.65 L243.36 541.91 L250.18 541.15 L257.00 540.40 L263.81 539.65 L270.63 538.92 L277.45 538.20 L284.27 537.50 L291.09 536.82 L297.90 536.16 L304.72 535.52 L311.54 534.90 L318.36 534.30 L325.18 533.72 L331.99 533.17 L338.81 532.63 L345.63 532.12 L352.45 531.62 L359.27 531.14 L366.08 530.68 L372.90 530.24 L379.72 529.81 L386.54 529.40 L393.36 529.00 L400.17 528.61 L406.99 528.24 L413.81 527.89 L420.63 527.54 L427.45 527.21 L434.26 526.88 L441.08 526.57 L447.90 526.27 L454.72 525.98 L461.54 525.70 L468.35 525.42 L475.17 525.16 L481.99 524.90 L488.81 524.66 L495.63 524.41 L502.44 524.18 L509.26 523.95 L516.08 523.73 L522.90 523.52 L529.72 523.31 L536.53 523.11 L543.35 522.91 L550.17 522.72 L556.99 522.54 L563.81 522.36 L570.62 522.18 L577.44 522.01 L584.26 521.84 L591.08 521.68 L597.90 521.52 L604.71 521.37 L611.53 521.22 L618.35 521.07 L625.17 520.93 L631.99 520.79 L638.80 520.65 L645.62 520.52 L652.44 520.39 L659.26 520.26 L666.08 520.14 L672.89 520.02 L679.71 519.90 L686.53 519.78 L693.35 519.67 L700.17 519.56 L706.98 519.45 L713.80 519.34 L720.62 519.24 L727.44 519.14 L734.26 519.04 L741.07 518.94 L747.89 518.84 L754.71 518.75 L761.53 518.66 L768.35 518.57 L775.16 518.48 L781.98 518.39 L788.80 518.31" stroke="#0000ff"/>
<path d="M107.00 509.00 L113.82 514.26 L120.64 519.31 L127.45 523.96 L134.27 528.08 L141.09 531.59 L147.91 534.47 L154.73 536.73 L161.54 538.42 L168.36 539.62 L175.18 540.39 L182.00 540.82 L188.82 540.96 L195.63 540.88 L202.45 540.63 L209.27 540.25 L216.09 539.78 L222.91 539.23 L229.72 538.64 L236.54 538.01 L243.36 537.37 L250.18 536.73 L257.00 536.08 L263.81 535.44 L270.63 534.80 L277.45 534.19 L284.27 533.58 L291.09 533.00 L297.90 532.43 L304.72 531.88 L311.54 531.34 L318.36 530.83 L325.18 530.34 L331.99 529.86 L338.81 529.40 L345.63 528.95 L352.45 528.53 L359.27 528.11 L366.08 527.72 L372.90 527.34 L379.72 526.97 L386.54 526.61 L393.36 526.27 L400.17 525.94 L406.99 525.62 L413.81 525.31 L420.63 525.01 L427.45 524.73 L434.26 524.45 L441.08 524.18 L447.90 523.92 L454.72 523.67 L461.54 523.43 L468.35 523.19 L475.17 522.97 L481.99 522.75 L488.81 522.53 L495.63 522.32 L502.44 522.12 L509.26 521.93 L516.08 521.74 L522.90 521.55 L529.72 521.38 L536.53 521.20 L543.35 521.03 L550.17 520.87 L556.99 520.71 L563.81 520.55 L570.62 520.40 L577.44 520.25 L584.26 520.11 L591.08 519.97 L597.90 519.84 L604.71 519.70 L611.53 519.57 L618.35 519.45 L625.17 519.32 L631.99 519.20 L638.80 519.09 L645.62 518.97 L652.44 518.86 L659.26 518.75 L666.08 518.64 L672.89 518.54 L679.71 518.44 L686.53 518.34 L693.35 518.24 L700.17 518.14 L706.98 518.05 L713.80 517.96 L720.62 517.87 L727.44 517.78 L734.26 517.70 L741.07 517.61 L747.89 517.53 L754.71 517.45 L761.53 517.37 L768.35 517.29 L775.16 517.22 L781.98 517.14 L788.80 517.07" stroke="#0000ff" stroke-dasharray="11.6 8.6"/>
<path d="M107.00 509.00 L113.82 515.95 L120.64 522.63 L127.45 528.78 L134.27 534.23 L141.09 538.86 L147.91 542.66 L154.73 545.64 L161.54 547.88 L168.36 549.45 L175.18 550.47 L182.00 551.03 L188.82 551.21 L195.63 551.11 L202.45 550.77 L209.27 550.26 L216.09 549.63 L222.91 548.90 L229.72 548.12 L236.54 547.29 L243.36 546.44 L250.18 545.58 L257.00 544.72 L263.81 543.87 L270.63 543.03 L277.45 542.21 L284.27 541.41 L291.09 540.64 L297.90 539.88 L304.72 539.15 L311.54 538.45 L318.36 537.77 L325.18 537.11 L331.99 536.48 L338.81 535.87 L345.63 535.28 L352.45 534.72 L359.27 534.17 L366.08 533.65 L372.90 533.14 L379.72 532.65 L386.54 532.18 L393.36 531.73 L400.17 531.29 L406.99 530.87 L413.81 530.46 L420.63 530.07 L427.45 529.69 L434.26 529.32 L441.08 528.96 L447.90 528.62 L454.72 528.29 L461.54 527.97 L468.35 527.66 L475.17 527.35 L481.99 527.06 L488.81 526.78 L495.63 526.50 L502.44 526.24 L509.26 525.98 L516.08 525.73 L522.90 525.49 L529.72 525.25 L536.53 525.02 L543.35 524.80 L550.17 524.58 L556.99 524.37 L563.81 524.16 L570.62 523.96 L577.44 523.77 L584.26 523.58 L591.08 523.39 L597.90 523.21 L604.71 523.03 L611.53 522.86 L618.35 522.70 L625.17 522.53 L631.99 522.37 L638.80 522.22 L645.62 522.07 L652.44 521.92 L659.26 521.77 L666.08 521.63 L672.89 521.49 L679.71 521.36 L686.53 521.23 L693.35 521.10 L700.17 520.97 L706.98 520.85 L713.80 520.73 L720.62 520.61 L727.44 520.49 L734.26 520.38 L741.07 520.27 L747.89 520.16 L754.71 520.05 L761.53 519.94 L768.35 519.84 L775.16 519.74 L781.98 519.64 L788.80 519.55" stroke="#0000ff" stroke-dasharray="11.6 8.6"/>
<path d="M107.00 509.00 L113.82 512.07 L120.64 515.11 L127.45 518.08 L134.27 520.97 L141.09 523.75 L147.91 526.38 L154.73 528.86 L161.54 531.18 L168.36 533.31 L175.18 535.26 L182.00 537.03 L188.82 538.61 L195.63 540.02 L202.45 541.25 L209.27 542.32 L216.09 543.24 L222.91 544.01 L229.72 544.65 L236.54 545.16 L243.36 545.57 L250.18 545.87 L257.00 546.08 L263.81 546.21 L270.63 546.27 L277.45 546.27 L284.27 546.20 L291.09 546.09 L297.90 545.93 L304.72 545.74 L311.54 545.51 L318.36 545.25 L325.18 544.97 L331.99 544.67 L338.81 544.36 L345.63 544.03 L352.45 543.69 L359.27 543.34 L366.08 542.98 L372.90 542.61 L379.72 542.25 L386.54 541.88 L393.36 541.51 L400.17 541.14 L406.99 540.77 L413.81 540.40 L420.63 540.04 L427.45 539.67 L434.26 539.31 L441.08 538.96 L447.90 538.60 L454.72 538.26 L461.54 537.91 L468.35 537.58 L475.17 537.24 L481.99 536.91 L488.81 536.59 L495.63 536.27 L502.44 535.96 L509.26 535.65 L516.08 535.35 L522.90 535.05 L529.72 534.76 L536.53 534.47 L543.35 534.19 L550.17 533.91 L556.99 533.64 L563.81 533.38 L570.62 533.11 L577.44 532.86 L584.26 532.60 L591.08 532.36 L597.90 532.11 L604.71 531.87 L611.53 531.64 L618.35 531.41 L625.17 531.18 L631.99 530.96 L638.80 530.75 L645.62 530.53 L652.44 530.32 L659.26 530.12 L666.08 529.91 L672.89 529.71 L679.71 529.52 L686.53 529.33 L693.35 529.14 L700.17 528.95 L706.98 528.77 L713.80 528.59 L720.62 528.42 L727.44 528.25 L734.26 528.08 L741.07 527.91 L747.89 527.75 L754.71 527.59 L761.53 527.43 L768.35 527.27 L775.16 527.12 L781.98 526.97 L788.80 526.82" stroke="#ff00ff"/>
<path d="M107.00 509.00 L113.82 511.86 L120.64 514.68 L127.45 517.45 L134.27 520.14 L141.09 522.72 L147.91 525.18 L154.73 527.49 L161.54 529.64 L168.36 531.63 L175.18 533.45 L182.00 535.09 L188.82 536.57 L195.63 537.88 L202.45 539.03 L209.27 540.02 L216.09 540.88 L222.91 541.60 L229.72 542.19 L236.54 542.67 L243.36 543.05 L250.18 543.33 L257.00 543.53 L263.81 543.65 L270.63 543.71 L277.45 543.70 L284.27 543.65 L291.09 543.54 L297.90 543.40 L304.72 543.22 L311.54 543.00 L318.36 542.77 L325.18 542.51 L331.99 542.23 L338.81 541.94 L345.63 541.63 L352.45 541.31 L359.27 540.99 L366.08 540.65 L372.90 540.32 L379.72 539.98 L386.54 539.63 L393.36 539.29 L400.17 538.95 L406.99 538.60 L413.81 538.26 L420.63 537.92 L427.45 537.58 L434.26 537.25 L441.08 536.92 L447.90 536.59 L454.72 536.27 L461.54 535.95 L468.35 535.63 L475.17 535.32 L481.99 535.02 L488.81 534.72 L495.63 534.42 L502.44 534.13 L509.26 533.85 L516.08 533.56 L522.90 533.29 L529.72 533.02 L536.53 532.75 L543.35 532.49 L550.17 532.23 L556.99 531.98 L563.81 531.73 L570.62 531.49 L577.44 531.25 L584.26 531.01 L591.08 530.78 L597.90 530.56 L604.71 530.33 L611.53 530.12 L618.35 529.90 L625.17 529.69 L631.99 529.49 L638.80 529.28 L645.62 529.09 L652.44 528.89 L659.26 528.70 L666.08 528.51 L672.89 528.33 L679.71 528.14 L686.53 527.97 L693.35 527.79 L700.17 527.62 L706.98 527.45 L713.80 527.28 L720.62 527.12 L727.44 526.96 L734.26 526.80 L741.07 526.65 L747.89 526.50 L754.71 526.35 L761.53 526.20 L768.35 526.06 L775.16 525.91 L781.98 525.77 L788.80 525.64" stroke="#ff00ff" stroke-dasharray="11.6 8.6"/>
<path d="M107.00 509.00 L113.82 512.28 L120.64 515.53 L127.45 518.71 L134.27 521.80 L141.09 524.77 L147.91 527.59 L154.73 530.24 L161.54 532.71 L168.36 534.99 L175.18 537.08 L182.00 538.97 L188.82 540.66 L195.63 542.16 L202.45 543.48 L209.27 544.62 L216.09 545.60 L222.91 546.43 L229.72 547.11 L236.54 547.66 L243.36 548.09 L250.18 548.41 L257.00 548.64 L263.81 548.77 L270.63 548.84 L277.45 548.83 L284.27 548.76 L291.09 548.64 L297.90 548.47 L304.72 548.26 L311.54 548.01 L318.36 547.74 L325.18 547.44 L331.99 547.12 L338.81 546.78 L345.63 546.43 L352.45 546.06 L359.27 545.68 L366.08 545.30 L372.90 544.91 L379.72 544.52 L386.54 544.12 L393.36 543.73 L400.17 543.33 L406.99 542.93 L413.81 542.54 L420.63 542.15 L427.45 541.76 L434.26 541.38 L441.08 540.99 L447.90 540.62 L454.72 540.25 L461.54 539.88 L468.35 539.52 L475.17 539.16 L481.99 538.81 L488.81 538.46 L495.63 538.12 L502.44 537.79 L509.26 537.46 L516.08 537.13 L522.90 536.82 L529.72 536.50 L536.53 536.20 L543.35 535.89 L550.17 535.60 L556.99 535.31 L563.81 535.02 L570.62 534.74 L577.44 534.47 L584.26 534.20 L591.08 533.93 L597.90 533.67 L604.71 533.42 L611.53 533.16 L618.35 532.92 L625.17 532.68 L631.99 532.44 L638.80 532.21 L645.62 531.98 L652.44 531.75 L659.26 531.53 L666.08 531.32 L672.89 531.10 L679.71 530.89 L686.53 530.69 L693.35 530.49 L700.17 530.29 L706.98 530.10 L713.80 529.91 L720.62 529.72 L727.44 529.53 L734.26 529.35 L741.07 529.17 L747.89 529.00 L754.71 528.83 L761.53 528.66 L768.35 528.49 L775.16 528.33 L781.98 528.17 L788.80 528.01" stroke="#ff00ff" stroke-dasharray="11.6 8.6"/>
</g>
<path d="M355.4 522.8 V578.9 M351.0 522.8 H359.8 M351.0 578.9 H359.8 M444.5 467.0 V535.9 M440.1 467.0 H448.9 M440.1 535.9 H448.9 M458.1 399.3 V529.9 M453.7 399.3 H462.5 M453.7 529.9 H462.5 M577.2 410.5 V493.8 M572.8 410.5 H581.6 M572.8 493.8 H581.6 M641.7 480.6 V537.9 M637.3 480.6 H646.1 M637.3 537.9 H646.1 M648.9 388.0 V529.1 M644.5 388.0 H653.3 M644.5 529.1 H653.3 M679.8 467.4 V568.0 M675.4 467.4 H684.2 M675.4 568.0 H684.2 M713.8 477.8 V592.8 M709.4 477.8 H718.2 M709.4 592.8 H718.2 M720.2 511.1 V621.7 M715.8 511.1 H724.6 M715.8 621.7 H724.6 M730.7 434.5 V537.9 M726.3 434.5 H735.1 M726.3 537.9 H735.1 M737.5 483.8 V579.2 M733.1 483.8 H741.9 M733.1 579.2 H741.9 M744.7 408.9 V544.7 M740.3 408.9 H749.1 M740.3 544.7 H749.1 M754.7 487.8 V624.9 M750.3 487.8 H759.1 M750.3 624.9 H759.1 M205.8 483.6 V552.9 M201.4 483.6 H210.2 M201.4 552.9 H210.2 M223.1 514.8 V621.0 M218.7 514.8 H227.5 M218.7 621.0 H227.5 M236.6 438.9 V516.4 M232.2 438.9 H241.0 M232.2 516.4 H241.0 M294.5 401.3 V482.5 M290.1 401.3 H298.9 M290.1 482.5 H298.9 M325.0 414.9 V511.1 M320.6 414.9 H329.4 M320.6 511.1 H329.4 M396.7 422.9 V554.8 M392.3 422.9 H401.1 M392.3 554.8 H401.1 M280.0 439.4 V546.4 M275.6 439.4 H284.4 M275.6 546.4 H284.4 M294.5 466.2 V508.3 M290.1 466.2 H298.9 M290.1 508.3 H298.9 M287.3 492.3 V621.8 M282.9 492.3 H291.7 M282.9 621.8 H291.7 M311.3 436.6 V507.1 M306.9 436.6 H315.7 M306.9 507.1 H315.7 M383.1 411.7 V482.3 M378.7 411.7 H387.5 M378.7 482.3 H387.5 M399.9 384.8 V489.1 M395.5 384.8 H404.3 M395.5 489.1 H404.3 M427.3 537.5 V601.7 M422.9 537.5 H431.7 M422.9 601.7 H431.7 M458.1 519.1 V607.7 M453.7 519.1 H462.5 M453.7 607.7 H462.5 M515.4 539.1 V609.7 M511.0 539.1 H519.8 M511.0 609.7 H519.8 M533.1 508.3 V638.1 M528.7 508.3 H537.5 M528.7 638.1 H537.5 M228.8 504.5 V531.5 M215.3 518.1 H242.3" stroke="#000" stroke-width="1.7" fill="none"/>
<circle cx="355.4" cy="551.2" r="4.6" fill="#000"/>
<circle cx="444.5" cy="501.1" r="4.6" fill="#000"/>
<circle cx="458.1" cy="464.6" r="4.6" fill="#000"/>
<circle cx="577.2" cy="452.2" r="4.6" fill="#000"/>
<circle cx="641.7" cy="509.5" r="4.6" fill="#000"/>
<circle cx="648.9" cy="458.2" r="4.6" fill="#000"/>
<circle cx="679.8" cy="518.3" r="4.6" fill="#000"/>
<circle cx="713.8" cy="535.1" r="4.6" fill="#000"/>
<circle cx="720.2" cy="566.4" r="4.6" fill="#000"/>
<circle cx="730.7" cy="486.6" r="4.6" fill="#000"/>
<circle cx="737.5" cy="531.5" r="4.6" fill="#000"/>
<circle cx="744.7" cy="477.0" r="4.6" fill="#000"/>
<circle cx="754.7" cy="556.4" r="4.6" fill="#000"/>
<circle cx="205.8" cy="518.6" r="4.6" fill="#0000ff"/>
<circle cx="223.1" cy="568.0" r="4.6" fill="#0000ff"/>
<circle cx="236.6" cy="477.6" r="4.6" fill="#0000ff"/>
<circle cx="294.5" cy="441.8" r="4.6" fill="#0000ff"/>
<circle cx="325.0" cy="463.0" r="4.6" fill="#0000ff"/>
<circle cx="396.7" cy="489.1" r="4.6" fill="#0000ff"/>
<circle cx="280.0" cy="493.1" r="4.6" fill="#ff00ff"/>
<circle cx="294.5" cy="487.1" r="4.6" fill="#ff00ff"/>
<circle cx="287.3" cy="556.8" r="4.6" fill="#ff00ff"/>
<circle cx="311.3" cy="472.2" r="4.6" fill="#ff00ff"/>
<circle cx="383.1" cy="446.6" r="4.6" fill="#ff00ff"/>
<circle cx="399.9" cy="437.0" r="4.6" fill="#ff00ff"/>
<circle cx="427.3" cy="569.2" r="4.6" fill="#ff00ff"/>
<circle cx="458.1" cy="563.2" r="4.6" fill="#ff00ff"/>
<circle cx="515.4" cy="574.4" r="4.6" fill="#ff00ff"/>
<circle cx="533.1" cy="573.6" r="4.6" fill="#ff00ff"/>
<path d="M107.00 272.80 v-14.80 M107.00 10.20 v14.80 M134.27 272.80 v-7.60 M134.27 10.20 v7.60 M161.54 272.80 v-7.60 M161.54 10.20 v7.60 M188.82 272.80 v-7.60 M188.82 10.20 v7.60 M216.09 272.80 v-7.60 M216.09 10.20 v7.60 M243.36 272.80 v-14.80 M243.36 10.20 v14.80 M270.63 272.80 v-7.60 M270.63 10.20 v7.60 M297.90 272.80 v-7.60 M297.90 10.20 v7.60 M325.18 272.80 v-7.60 M325.18 10.20 v7.60 M352.45 272.80 v-7.60 M352.45 10.20 v7.60 M379.72 272.80 v-14.80 M379.72 10.20 v14.80 M406.99 272.80 v-7.60 M406.99 10.20 v7.60 M434.26 272.80 v-7.60 M434.26 10.20 v7.60 M461.54 272.80 v-7.60 M461.54 10.20 v7.60 M488.81 272.80 v-7.60 M488.81 10.20 v7.60 M516.08 272.80 v-14.80 M516.08 10.20 v14.80 M543.35 272.80 v-7.60 M543.35 10.20 v7.60 M570.62 272.80 v-7.60 M570.62 10.20 v7.60 M597.90 272.80 v-7.60 M597.90 10.20 v7.60 M625.17 272.80 v-7.60 M625.17 10.20 v7.60 M652.44 272.80 v-14.80 M652.44 10.20 v14.80 M679.71 272.80 v-7.60 M679.71 10.20 v7.60 M706.98 272.80 v-7.60 M706.98 10.20 v7.60 M734.26 272.80 v-7.60 M734.26 10.20 v7.60 M761.53 272.80 v-7.60 M761.53 10.20 v7.60 M788.80 272.80 v-14.80 M788.80 10.20 v14.80 M107.00 273.00 h14.80 M788.80 273.00 h-14.80 M107.00 257.08 h7.60 M788.80 257.08 h-7.60 M107.00 241.16 h7.60 M788.80 241.16 h-7.60 M107.00 225.24 h7.60 M788.80 225.24 h-7.60 M107.00 209.32 h7.60 M788.80 209.32 h-7.60 M107.00 193.40 h14.80 M788.80 193.40 h-14.80 M107.00 177.48 h7.60 M788.80 177.48 h-7.60 M107.00 161.56 h7.60 M788.80 161.56 h-7.60 M107.00 145.64 h7.60 M788.80 145.64 h-7.60 M107.00 129.72 h7.60 M788.80 129.72 h-7.60 M107.00 113.80 h14.80 M788.80 113.80 h-14.80 M107.00 97.88 h7.60 M788.80 97.88 h-7.60 M107.00 81.96 h7.60 M788.80 81.96 h-7.60 M107.00 66.04 h7.60 M788.80 66.04 h-7.60 M107.00 50.12 h7.60 M788.80 50.12 h-7.60 M107.00 34.20 h14.80 M788.80 34.20 h-14.80 M107.00 18.28 h7.60 M788.80 18.28 h-7.60 M107.00 640.30 v-14.80 M152.45 640.30 v-7.60 M197.91 640.30 v-7.60 M243.36 640.30 v-7.60 M288.81 640.30 v-7.60 M334.27 640.30 v-14.80 M379.72 640.30 v-7.60 M425.17 640.30 v-7.60 M470.63 640.30 v-7.60 M516.08 640.30 v-7.60 M561.53 640.30 v-14.80 M606.99 640.30 v-7.60 M652.44 640.30 v-7.60 M697.89 640.30 v-7.60 M743.35 640.30 v-7.60 M788.80 640.30 v-14.80 M107.00 377.00 v14.80 M141.09 377.00 v7.60 M175.18 377.00 v7.60 M209.27 377.00 v7.60 M243.36 377.00 v14.80 M277.45 377.00 v7.60 M311.54 377.00 v7.60 M345.63 377.00 v7.60 M379.72 377.00 v14.80 M413.81 377.00 v7.60 M447.90 377.00 v7.60 M481.99 377.00 v7.60 M516.08 377.00 v14.80 M550.17 377.00 v7.60 M584.26 377.00 v7.60 M618.35 377.00 v7.60 M652.44 377.00 v14.80 M686.53 377.00 v7.60 M720.62 377.00 v7.60 M754.71 377.00 v7.60 M788.80 377.00 v14.80 M107.00 630.50 h7.60 M788.80 630.50 h-7.60 M107.00 618.35 h7.60 M788.80 618.35 h-7.60 M107.00 606.20 h14.80 M788.80 606.20 h-14.80 M107.00 594.05 h7.60 M788.80 594.05 h-7.60 M107.00 581.90 h7.60 M788.80 581.90 h-7.60 M107.00 569.75 h7.60 M788.80 569.75 h-7.60 M107.00 557.60 h14.80 M788.80 557.60 h-14.80 M107.00 545.45 h7.60 M788.80 545.45 h-7.60 M107.00 533.30 h7.60 M788.80 533.30 h-7.60 M107.00 521.15 h7.60 M788.80 521.15 h-7.60 M107.00 509.00 h14.80 M788.80 509.00 h-14.80 M107.00 496.85 h7.60 M788.80 496.85 h-7.60 M107.00 484.70 h7.60 M788.80 484.70 h-7.60 M107.00 472.55 h7.60 M788.80 472.55 h-7.60 M107.00 460.40 h14.80 M788.80 460.40 h-14.80 M107.00 448.25 h7.60 M788.80 448.25 h-7.60 M107.00 436.10 h7.60 M788.80 436.10 h-7.60 M107.00 423.95 h7.60 M788.80 423.95 h-7.60 M107.00 411.80 h14.80 M788.80 411.80 h-14.80 M107.00 399.65 h7.60 M788.80 399.65 h-7.60 M107.00 387.50 h7.60 M788.80 387.50 h-7.60" stroke="#000" stroke-width="1.5" fill="none"/>
<rect x="107.0" y="10.2" width="681.8" height="262.6" fill="none" stroke="#000" stroke-width="2"/>
<rect x="107.0" y="377.0" width="681.8" height="263.3" fill="none" stroke="#000" stroke-width="2"/>
<g font-family="'Liberation Serif', serif" fill="#000" stroke="#000" stroke-width="0.45" opacity="0.999">
<text x="93.9" y="42.5" text-anchor="end" font-size="23.7" textLength="13.5" lengthAdjust="spacingAndGlyphs">0</text>
<text x="93.9" y="122.1" text-anchor="end" font-size="23.7" textLength="29.9" lengthAdjust="spacingAndGlyphs">−1</text>
<text x="93.9" y="201.7" text-anchor="end" font-size="23.7" textLength="29.9" lengthAdjust="spacingAndGlyphs">−2</text>
<text x="93.9" y="281.3" text-anchor="end" font-size="23.7" textLength="29.9" lengthAdjust="spacingAndGlyphs">−3</text>
<text x="106.4" y="300.8" text-anchor="middle" font-size="23.7" textLength="13.5" lengthAdjust="spacingAndGlyphs">0</text>
<text x="242.8" y="300.8" text-anchor="middle" font-size="23.7" textLength="13.5" lengthAdjust="spacingAndGlyphs">1</text>
<text x="379.1" y="300.8" text-anchor="middle" font-size="23.7" textLength="13.5" lengthAdjust="spacingAndGlyphs">2</text>
<text x="515.5" y="300.8" text-anchor="middle" font-size="23.7" textLength="13.5" lengthAdjust="spacingAndGlyphs">3</text>
<text x="651.8" y="300.8" text-anchor="middle" font-size="23.7" textLength="13.5" lengthAdjust="spacingAndGlyphs">4</text>
<text x="788.2" y="300.8" text-anchor="middle" font-size="23.7" textLength="13.5" lengthAdjust="spacingAndGlyphs">5</text>
<text x="106.4" y="365.9" text-anchor="middle" font-size="23.7" textLength="13.5" lengthAdjust="spacingAndGlyphs">0</text>
<text x="242.8" y="365.9" text-anchor="middle" font-size="23.7" textLength="47.9" lengthAdjust="spacingAndGlyphs">0.02</text>
<text x="379.1" y="365.9" text-anchor="middle" font-size="23.7" textLength="47.9" lengthAdjust="spacingAndGlyphs">0.04</text>
<text x="515.5" y="365.9" text-anchor="middle" font-size="23.7" textLength="47.9" lengthAdjust="spacingAndGlyphs">0.06</text>
<text x="651.8" y="365.9" text-anchor="middle" font-size="23.7" textLength="47.9" lengthAdjust="spacingAndGlyphs">0.08</text>
<text x="788.2" y="365.9" text-anchor="middle" font-size="23.7" textLength="34.4" lengthAdjust="spacingAndGlyphs">0.1</text>
<text x="106.4" y="668.9" text-anchor="middle" font-size="23.7" textLength="13.5" lengthAdjust="spacingAndGlyphs">0</text>
<text x="333.7" y="668.9" text-anchor="middle" font-size="23.7" textLength="67.5" lengthAdjust="spacingAndGlyphs">10000</text>
<text x="560.9" y="668.9" text-anchor="middle" font-size="23.7" textLength="67.5" lengthAdjust="spacingAndGlyphs">20000</text>
<text x="788.2" y="668.9" text-anchor="middle" font-size="23.7" textLength="67.5" lengthAdjust="spacingAndGlyphs">30000</text>
<text x="93.7" y="420.1" text-anchor="end" font-size="23.7" textLength="27.0" lengthAdjust="spacingAndGlyphs">40</text>
<text x="93.7" y="468.7" text-anchor="end" font-size="23.7" textLength="27.0" lengthAdjust="spacingAndGlyphs">20</text>
<text x="93.7" y="517.3" text-anchor="end" font-size="23.7" textLength="13.5" lengthAdjust="spacingAndGlyphs">0</text>
<text x="93.7" y="565.9" text-anchor="end" font-size="23.7" textLength="43.4" lengthAdjust="spacingAndGlyphs">−20</text>
<text x="93.7" y="614.5" text-anchor="end" font-size="23.7" textLength="43.4" lengthAdjust="spacingAndGlyphs">−40</text>
<text x="399.3" y="328.5" text-anchor="start" font-size="23.7" textLength="97.5" lengthAdjust="spacingAndGlyphs">Redshift</text>
<text x="380.3" y="698.0" text-anchor="start" font-size="23.7" textLength="23.6" lengthAdjust="spacingAndGlyphs">cz</text>
<text x="418.6" y="698.0" text-anchor="start" font-size="23.7" textLength="7.6" lengthAdjust="spacingAndGlyphs">(</text>
<text x="426.6" y="698.0" text-anchor="start" font-size="23.7" textLength="36.6" lengthAdjust="spacingAndGlyphs">km</text>
<text x="475.6" y="698.0" text-anchor="start" font-size="23.7" textLength="10.6" lengthAdjust="spacingAndGlyphs">s</text>
<text x="488.2" y="690.8" text-anchor="start" font-size="15.8" textLength="7.6" lengthAdjust="spacingAndGlyphs">−</text>
<text x="497.6" y="691.5" text-anchor="start" font-size="15.8" textLength="6.6" lengthAdjust="spacingAndGlyphs">1</text>
<text x="506.8" y="698.0" text-anchor="start" font-size="23.7" textLength="7.6" lengthAdjust="spacingAndGlyphs">)</text>
<text x="688.2" y="37.9" text-anchor="start" font-size="21.0" textLength="22.8" lengthAdjust="spacingAndGlyphs">10</text>
<text x="722.0" y="37.9" text-anchor="start" font-size="21.0" textLength="16.6" lengthAdjust="spacingAndGlyphs">M</text>
<text x="738.4" y="37.9" text-anchor="start" font-size="22.4" textLength="23.8" lengthAdjust="spacingAndGlyphs">pc</text>
<text x="685.8" y="79.5" text-anchor="start" font-size="21.0" textLength="25.2" lengthAdjust="spacingAndGlyphs">50</text>
<text x="722.0" y="79.5" text-anchor="start" font-size="21.0" textLength="16.6" lengthAdjust="spacingAndGlyphs">M</text>
<text x="738.4" y="79.5" text-anchor="start" font-size="22.4" textLength="23.8" lengthAdjust="spacingAndGlyphs">pc</text>
<text x="674.6" y="131.9" text-anchor="start" font-size="21.0" textLength="36.4" lengthAdjust="spacingAndGlyphs">100</text>
<text x="722.0" y="131.9" text-anchor="start" font-size="21.0" textLength="16.6" lengthAdjust="spacingAndGlyphs">M</text>
<text x="738.4" y="131.9" text-anchor="start" font-size="22.4" textLength="23.8" lengthAdjust="spacingAndGlyphs">pc</text>
<text x="672.8" y="231.5" text-anchor="start" font-size="21.0" textLength="38.2" lengthAdjust="spacingAndGlyphs">200</text>
<text x="722.0" y="231.5" text-anchor="start" font-size="21.0" textLength="16.6" lengthAdjust="spacingAndGlyphs">M</text>
<text x="738.4" y="231.5" text-anchor="start" font-size="22.4" textLength="23.8" lengthAdjust="spacingAndGlyphs">pc</text>
<text x="315.2" y="227.6" text-anchor="start" font-size="21.8" textLength="11.4" lengthAdjust="spacingAndGlyphs">v</text>
<path d="M327.5 234 H335.5 M331.5 234 V227.6" stroke="#000" stroke-width="1.3" fill="none"/>
<text x="336.2" y="227.6" text-anchor="start" font-size="21.8" textLength="7.6" lengthAdjust="spacingAndGlyphs">(</text>
<text x="344.4" y="227.6" text-anchor="start" font-size="21.8" textLength="32.8" lengthAdjust="spacingAndGlyphs">km</text>
<text x="389.8" y="227.6" text-anchor="start" font-size="21.8" textLength="9.8" lengthAdjust="spacingAndGlyphs">s</text>
<text x="400.4" y="221.8" text-anchor="start" font-size="14.2" textLength="7.2" lengthAdjust="spacingAndGlyphs">−</text>
<text x="409.2" y="222.8" text-anchor="start" font-size="14.2" textLength="6.2" lengthAdjust="spacingAndGlyphs">1</text>
<text x="418.4" y="227.6" text-anchor="start" font-size="21.8" textLength="7.6" lengthAdjust="spacingAndGlyphs">)</text>
<text x="438.6" y="227.6" text-anchor="start" font-size="21.8" textLength="13.2" lengthAdjust="spacingAndGlyphs">=</text>
<text x="459.0" y="227.6" text-anchor="start" font-size="21.8" textLength="12.6" lengthAdjust="spacingAndGlyphs">0</text>
<text x="407.2" y="256.0" text-anchor="start" font-size="21.8" textLength="11.8" lengthAdjust="spacingAndGlyphs">±</text>
<text x="422.6" y="256.0" text-anchor="start" font-size="21.8" textLength="49.0" lengthAdjust="spacingAndGlyphs">1000</text>
<g transform="translate(45.4,141.5) rotate(-90)"><text x="-69.4" y="0.0" text-anchor="start" font-size="19.6" textLength="11.6" lengthAdjust="spacingAndGlyphs" font-style="italic">θ</text><circle cx="-63.8" cy="-18.2" r="1.35" stroke="none"/><text x="-44.9" y="0.0" text-anchor="start" font-size="23.7" textLength="7.6" lengthAdjust="spacingAndGlyphs">(</text><text x="-33.4" y="0.0" text-anchor="start" font-size="23.7" textLength="12.4" lengthAdjust="spacingAndGlyphs" font-style="italic">μ</text><text x="-19.6" y="0.0" text-anchor="start" font-size="23.7" textLength="12.2" lengthAdjust="spacingAndGlyphs">a</text><text x="-7.1" y="0.0" text-anchor="start" font-size="23.7" textLength="11.0" lengthAdjust="spacingAndGlyphs">s</text><text x="16.3" y="0.0" text-anchor="start" font-size="23.7" textLength="13.2" lengthAdjust="spacingAndGlyphs">y</text><text x="30.1" y="0.0" text-anchor="start" font-size="23.7" textLength="10.6" lengthAdjust="spacingAndGlyphs">r</text><text x="43.0" y="-7.2" text-anchor="start" font-size="15.8" textLength="7.8" lengthAdjust="spacingAndGlyphs">−</text><text x="54.0" y="-6.5" text-anchor="start" font-size="15.8" textLength="6.4" lengthAdjust="spacingAndGlyphs">1</text><text x="61.8" y="0.0" text-anchor="start" font-size="23.7" textLength="7.6" lengthAdjust="spacingAndGlyphs">)</text></g>
<g transform="translate(31.0,509.9) rotate(-90)"><text x="-69.4" y="0.0" text-anchor="start" font-size="19.6" textLength="11.6" lengthAdjust="spacingAndGlyphs" font-style="italic">θ</text><circle cx="-63.8" cy="-18.2" r="1.35" stroke="none"/><text x="-44.9" y="0.0" text-anchor="start" font-size="23.7" textLength="7.6" lengthAdjust="spacingAndGlyphs">(</text><text x="-33.4" y="0.0" text-anchor="start" font-size="23.7" textLength="12.4" lengthAdjust="spacingAndGlyphs" font-style="italic">μ</text><text x="-19.6" y="0.0" text-anchor="start" font-size="23.7" textLength="12.2" lengthAdjust="spacingAndGlyphs">a</text><text x="-7.1" y="0.0" text-anchor="start" font-size="23.7" textLength="11.0" lengthAdjust="spacingAndGlyphs">s</text><text x="16.3" y="0.0" text-anchor="start" font-size="23.7" textLength="13.2" lengthAdjust="spacingAndGlyphs">y</text><text x="30.1" y="0.0" text-anchor="start" font-size="23.7" textLength="10.6" lengthAdjust="spacingAndGlyphs">r</text><text x="43.0" y="-7.2" text-anchor="start" font-size="15.8" textLength="7.8" lengthAdjust="spacingAndGlyphs">−</text><text x="54.0" y="-6.5" text-anchor="start" font-size="15.8" textLength="6.4" lengthAdjust="spacingAndGlyphs">1</text><text x="61.8" y="0.0" text-anchor="start" font-size="23.7" textLength="7.6" lengthAdjust="spacingAndGlyphs">)</text></g>
</g>
<text transform="translate(229.4,499.6) rotate(-90)" font-family="'Liberation Sans', sans-serif" font-size="19.6" textLength="45.6" lengthAdjust="spacingAndGlyphs" stroke="#000" stroke-width="0.55">A426</text>
<path d="M481.8 220.4 H516.1" stroke="#000" stroke-width="1.7"/>
<path d="M481.8 249 H493.3 M502 249 H513.7" stroke="#000" stroke-width="1.7"/>
</svg>
</body></html>
